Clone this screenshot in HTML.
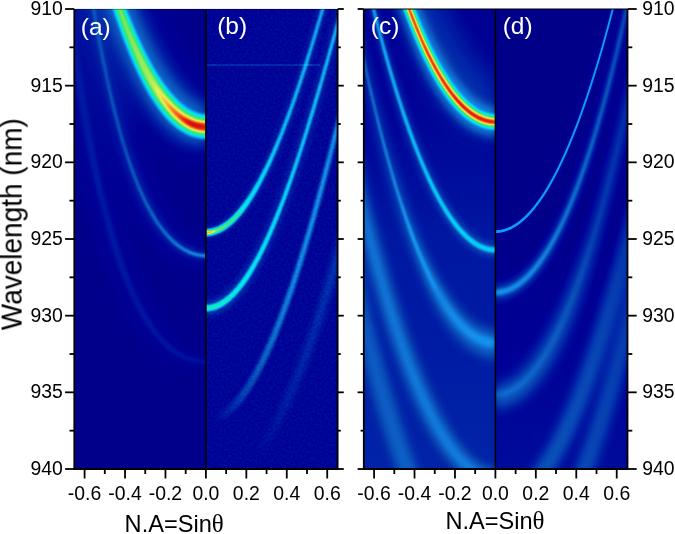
<!DOCTYPE html>
<html><head><meta charset="utf-8"><style>
html,body{margin:0;padding:0;background:#fff;width:675px;height:534px;overflow:hidden}
svg{display:block}
.t{will-change:transform}
</style></head><body>
<svg width="675" height="534" viewBox="0 0 675 534">
<defs>
<filter id="jet" filterUnits="userSpaceOnUse" x="0" y="0" width="675" height="534" color-interpolation-filters="sRGB">
<feComponentTransfer>
<feFuncR type="table" tableValues="0 0 0 0 0 0.013 0.026 0.039 0.049 0.059 0.069 0.078 0.063 0.047 0.031 0.016 0 0 0 0 0 0.047 0.094 0.141 0.188 0.235 0.353 0.471 0.588 0.706 0.824 0.941 0.947 0.953 0.959 0.965 0.971 0.977 0.974 0.961 0.948 0.935 0.922 0.908 0.881 0.839 0.796 0.754 0.712 0.67 0.627"/>
<feFuncG type="table" tableValues="0 0 0 0.059 0.118 0.183 0.248 0.314 0.373 0.431 0.49 0.549 0.604 0.659 0.714 0.769 0.824 0.848 0.873 0.897 0.922 0.918 0.914 0.91 0.906 0.902 0.908 0.915 0.922 0.928 0.935 0.941 0.875 0.808 0.742 0.676 0.609 0.543 0.477 0.412 0.346 0.281 0.216 0.15 0.109 0.09 0.072 0.054 0.036 0.018 0"/>
<feFuncB type="table" tableValues="0.502 0.545 0.588 0.618 0.647 0.673 0.699 0.725 0.775 0.824 0.873 0.922 0.925 0.929 0.933 0.937 0.941 0.931 0.922 0.912 0.902 0.808 0.714 0.62 0.525 0.431 0.412 0.392 0.373 0.353 0.333 0.314 0.284 0.253 0.223 0.193 0.163 0.133 0.114 0.108 0.101 0.095 0.088 0.082 0.072 0.06 0.048 0.036 0.024 0.012 0"/>
</feComponentTransfer>
</filter>
<clipPath id="cpa"><rect x="74.3" y="9.0" width="131.60000000000002" height="460.0"/></clipPath>
<clipPath id="cpb"><rect x="205.9" y="9.0" width="131.70000000000002" height="460.0"/></clipPath>
<clipPath id="cpc"><rect x="363.8" y="9.0" width="131.59999999999997" height="460.0"/></clipPath>
<clipPath id="cpd"><rect x="495.4" y="9.0" width="132.10000000000002" height="460.0"/></clipPath>
<filter id="bl0" filterUnits="userSpaceOnUse" x="0" y="0" width="675" height="534" color-interpolation-filters="sRGB"><feGaussianBlur stdDeviation="14"/></filter>
<filter id="bl1" filterUnits="userSpaceOnUse" x="0" y="0" width="675" height="534" color-interpolation-filters="sRGB"><feGaussianBlur stdDeviation="7"/></filter>
<filter id="bl2" filterUnits="userSpaceOnUse" x="0" y="0" width="675" height="534" color-interpolation-filters="sRGB"><feGaussianBlur stdDeviation="1.4"/></filter>
<filter id="bl3" filterUnits="userSpaceOnUse" x="0" y="0" width="675" height="534" color-interpolation-filters="sRGB"><feGaussianBlur stdDeviation="1.8"/></filter>
<linearGradient id="g3" gradientUnits="userSpaceOnUse" x1="0" y1="0" x2="675" y2="0"><stop offset="0.1630" stop-color="rgb(18,18,18)"/><stop offset="0.2222" stop-color="rgb(32,32,32)"/><stop offset="0.3052" stop-color="rgb(36,36,36)"/></linearGradient>
<linearGradient id="g4" gradientUnits="userSpaceOnUse" x1="0" y1="0" x2="675" y2="0"><stop offset="0.2222" stop-color="rgb(0,0,0)"/><stop offset="0.2519" stop-color="rgb(48,48,48)"/><stop offset="0.2815" stop-color="rgb(87,87,87)"/><stop offset="0.3052" stop-color="rgb(87,87,87)"/></linearGradient>
<filter id="bl4" filterUnits="userSpaceOnUse" x="0" y="0" width="675" height="534" color-interpolation-filters="sRGB"><feGaussianBlur stdDeviation="8"/></filter>
<linearGradient id="g5" gradientUnits="userSpaceOnUse" x1="0" y1="0" x2="675" y2="0"><stop offset="0.1096" stop-color="rgb(9,9,9)"/><stop offset="0.2222" stop-color="rgb(7,7,7)"/><stop offset="0.3052" stop-color="rgb(4,4,4)"/></linearGradient>
<filter id="bl5" filterUnits="userSpaceOnUse" x="0" y="0" width="675" height="534" color-interpolation-filters="sRGB"><feGaussianBlur stdDeviation="3"/></filter>
<linearGradient id="g6" gradientUnits="userSpaceOnUse" x1="0" y1="0" x2="675" y2="0"><stop offset="0.1333" stop-color="rgb(5,5,5)"/><stop offset="0.2222" stop-color="rgb(9,9,9)"/><stop offset="0.3052" stop-color="rgb(13,13,13)"/></linearGradient>
<filter id="bl6" filterUnits="userSpaceOnUse" x="0" y="0" width="675" height="534" color-interpolation-filters="sRGB"><feGaussianBlur stdDeviation="1.3"/></filter>
<linearGradient id="g7" gradientUnits="userSpaceOnUse" x1="0" y1="0" x2="675" y2="0"><stop offset="0.1333" stop-color="rgb(14,14,14)"/><stop offset="0.2222" stop-color="rgb(24,24,24)"/><stop offset="0.3052" stop-color="rgb(41,41,41)"/></linearGradient>
<linearGradient id="g8" gradientUnits="userSpaceOnUse" x1="0" y1="0" x2="675" y2="0"><stop offset="0.1096" stop-color="rgb(8,8,8)"/><stop offset="0.2222" stop-color="rgb(5,5,5)"/><stop offset="0.3052" stop-color="rgb(2,2,2)"/></linearGradient>
<filter id="bl7" filterUnits="userSpaceOnUse" x="0" y="0" width="675" height="534" color-interpolation-filters="sRGB"><feGaussianBlur stdDeviation="2"/></filter>
<linearGradient id="g9" gradientUnits="userSpaceOnUse" x1="0" y1="0" x2="675" y2="0"><stop offset="0.1185" stop-color="rgb(9,9,9)"/><stop offset="0.2222" stop-color="rgb(10,10,10)"/><stop offset="0.3052" stop-color="rgb(11,11,11)"/></linearGradient>
<filter id="bl8" filterUnits="userSpaceOnUse" x="0" y="0" width="675" height="534" color-interpolation-filters="sRGB"><feGaussianBlur stdDeviation="2.5"/></filter>
<linearGradient id="g10" gradientUnits="userSpaceOnUse" x1="0" y1="0" x2="675" y2="0"><stop offset="0.3052" stop-color="rgb(18,18,18)"/><stop offset="0.3852" stop-color="rgb(14,14,14)"/><stop offset="0.5037" stop-color="rgb(11,11,11)"/></linearGradient>
<filter id="bl9" filterUnits="userSpaceOnUse" x="0" y="0" width="675" height="534" color-interpolation-filters="sRGB"><feGaussianBlur stdDeviation="0.8"/></filter>
<linearGradient id="g11" gradientUnits="userSpaceOnUse" x1="0" y1="0" x2="675" y2="0"><stop offset="0.3052" stop-color="rgb(89,89,89)"/><stop offset="0.3556" stop-color="rgb(80,80,80)"/><stop offset="0.4148" stop-color="rgb(66,66,66)"/><stop offset="0.5037" stop-color="rgb(61,61,61)"/></linearGradient>
<filter id="bl10" filterUnits="userSpaceOnUse" x="0" y="0" width="675" height="534" color-interpolation-filters="sRGB"><feGaussianBlur stdDeviation="1.0"/></filter>
<linearGradient id="g12" gradientUnits="userSpaceOnUse" x1="0" y1="0" x2="675" y2="0"><stop offset="0.3052" stop-color="rgb(38,38,38)"/><stop offset="0.3496" stop-color="rgb(31,31,31)"/><stop offset="0.3704" stop-color="rgb(0,0,0)"/></linearGradient>
<linearGradient id="g13" gradientUnits="userSpaceOnUse" x1="0" y1="0" x2="675" y2="0"><stop offset="0.3052" stop-color="rgb(56,56,56)"/><stop offset="0.3126" stop-color="rgb(45,45,45)"/><stop offset="0.3200" stop-color="rgb(0,0,0)"/></linearGradient>
<linearGradient id="g14" gradientUnits="userSpaceOnUse" x1="0" y1="0" x2="675" y2="0"><stop offset="0.3052" stop-color="rgb(20,20,20)"/><stop offset="0.4148" stop-color="rgb(14,14,14)"/><stop offset="0.5037" stop-color="rgb(12,12,12)"/></linearGradient>
<filter id="bl11" filterUnits="userSpaceOnUse" x="0" y="0" width="675" height="534" color-interpolation-filters="sRGB"><feGaussianBlur stdDeviation="0.9"/></filter>
<linearGradient id="g15" gradientUnits="userSpaceOnUse" x1="0" y1="0" x2="675" y2="0"><stop offset="0.3052" stop-color="rgb(88,88,88)"/><stop offset="0.3852" stop-color="rgb(80,80,80)"/><stop offset="0.4444" stop-color="rgb(73,73,73)"/><stop offset="0.5037" stop-color="rgb(70,70,70)"/></linearGradient>
<linearGradient id="g16" gradientUnits="userSpaceOnUse" x1="0" y1="0" x2="675" y2="0"><stop offset="0.3185" stop-color="rgb(0,0,0)"/><stop offset="0.3630" stop-color="rgb(20,20,20)"/><stop offset="0.4148" stop-color="rgb(38,38,38)"/><stop offset="0.4444" stop-color="rgb(46,46,46)"/><stop offset="0.4741" stop-color="rgb(51,51,51)"/><stop offset="0.5007" stop-color="rgb(51,51,51)"/></linearGradient>
<linearGradient id="g17" gradientUnits="userSpaceOnUse" x1="0" y1="0" x2="675" y2="0"><stop offset="0.3778" stop-color="rgb(0,0,0)"/><stop offset="0.4296" stop-color="rgb(12,12,12)"/><stop offset="0.5037" stop-color="rgb(20,20,20)"/></linearGradient>
<filter id="bl12" filterUnits="userSpaceOnUse" x="0" y="0" width="675" height="534" color-interpolation-filters="sRGB"><feGaussianBlur stdDeviation="12"/></filter>
<filter id="bl13" filterUnits="userSpaceOnUse" x="0" y="0" width="675" height="534" color-interpolation-filters="sRGB"><feGaussianBlur stdDeviation="4"/></filter>
<filter id="bl14" filterUnits="userSpaceOnUse" x="0" y="0" width="675" height="534" color-interpolation-filters="sRGB"><feGaussianBlur stdDeviation="1.2"/></filter>
<linearGradient id="g22" gradientUnits="userSpaceOnUse" x1="0" y1="0" x2="675" y2="0"><stop offset="0.5926" stop-color="rgb(110,110,110)"/><stop offset="0.6519" stop-color="rgb(98,98,98)"/><stop offset="0.6963" stop-color="rgb(86,86,86)"/><stop offset="0.7333" stop-color="rgb(82,82,82)"/></linearGradient>
<linearGradient id="g24" gradientUnits="userSpaceOnUse" x1="0" y1="0" x2="675" y2="0"><stop offset="0.5481" stop-color="rgb(57,57,57)"/><stop offset="0.6370" stop-color="rgb(57,57,57)"/><stop offset="0.6963" stop-color="rgb(52,52,52)"/><stop offset="0.7333" stop-color="rgb(48,48,48)"/></linearGradient>
<filter id="bl15" filterUnits="userSpaceOnUse" x="0" y="0" width="675" height="534" color-interpolation-filters="sRGB"><feGaussianBlur stdDeviation="5"/></filter>
<linearGradient id="g26" gradientUnits="userSpaceOnUse" x1="0" y1="0" x2="675" y2="0"><stop offset="0.5393" stop-color="rgb(31,31,31)"/><stop offset="0.6074" stop-color="rgb(28,28,28)"/><stop offset="0.6519" stop-color="rgb(0,0,0)"/></linearGradient>
<linearGradient id="g27" gradientUnits="userSpaceOnUse" x1="0" y1="0" x2="675" y2="0"><stop offset="0.5926" stop-color="rgb(0,0,0)"/><stop offset="0.6370" stop-color="rgb(23,23,23)"/><stop offset="0.7333" stop-color="rgb(24,24,24)"/></linearGradient>
<filter id="bl16" filterUnits="userSpaceOnUse" x="0" y="0" width="675" height="534" color-interpolation-filters="sRGB"><feGaussianBlur stdDeviation="0.7"/></filter>
<filter id="bl17" filterUnits="userSpaceOnUse" x="0" y="0" width="675" height="534" color-interpolation-filters="sRGB"><feGaussianBlur stdDeviation="3.5"/></filter>
<filter id="bl18" filterUnits="userSpaceOnUse" x="0" y="0" width="675" height="534" color-interpolation-filters="sRGB"><feGaussianBlur stdDeviation="1.5"/></filter>
<filter id="bl19" filterUnits="userSpaceOnUse" x="0" y="0" width="675" height="534" color-interpolation-filters="sRGB"><feGaussianBlur stdDeviation="6"/></filter>
<linearGradient id="hlg" gradientUnits="userSpaceOnUse" x1="205" y1="0" x2="340" y2="0"><stop offset="0" stop-color="rgb(11,11,11)"/><stop offset="0.6" stop-color="rgb(10,10,10)"/><stop offset="1" stop-color="rgb(5,5,5)"/></linearGradient>
<filter id="hl" x="-0.1" y="-2" width="1.2" height="5"><feGaussianBlur stdDeviation="1.1"/></filter>
<linearGradient id="bgc" gradientUnits="userSpaceOnUse" x1="0" y1="9.0" x2="0" y2="469.0"><stop offset="0" stop-color="rgb(0,0,0)"/><stop offset="0.25" stop-color="rgb(3,3,3)"/><stop offset="0.5" stop-color="rgb(9,9,9)"/><stop offset="1" stop-color="rgb(13,13,13)"/></linearGradient>
<linearGradient id="bgd" gradientUnits="userSpaceOnUse" x1="0" y1="9.0" x2="0" y2="469.0"><stop offset="0" stop-color="rgb(0,0,0)"/><stop offset="0.45" stop-color="rgb(0,0,0)"/><stop offset="0.7" stop-color="rgb(6,6,6)"/><stop offset="1" stop-color="rgb(10,10,10)"/></linearGradient>
<filter id="nz" filterUnits="userSpaceOnUse" x="205.9" y="9.0" width="131.70000000000002" height="460.0" color-interpolation-filters="sRGB"><feTurbulence type="fractalNoise" baseFrequency="0.45" numOctaves="1" seed="7"/><feColorMatrix type="matrix" values="0.05 0 0 0 -0.01  0.05 0 0 0 -0.01  0.05 0 0 0 -0.01  0 0 0 0 1"/></filter>
</defs>
<rect width="675" height="534" fill="#fff"/>
<g filter="url(#jet)">
<rect x="74.3" y="9.0" width="263.3" height="460.0" fill="#000"/>
<rect x="363.8" y="9.0" width="263.7" height="460.0" fill="#000"/>
<g clip-path="url(#cpa)">
<rect x="74.3" y="9.0" width="131.60000000000002" height="460.0" fill="rgb(5,5,5)"/>

<path d="M205.7 90.9 L205.8 90.9 L205.9 90.9 L206.0 91.0 L206.1 91.0 L206.2 91.1 L206.2 91.2 L206.3 91.2 L206.3 91.3 L206.3 91.4 L206.3 91.4 L206.3 91.5 L206.3 91.6 L206.2 91.6 L206.1 91.6 L205.9 91.6 L205.7 91.6 L205.5 91.6 L205.3 91.6 L205.0 91.5 L204.8 91.4 L204.4 91.3 L204.1 91.2 L203.7 91.0 L203.3 90.8 L202.8 90.6 L202.4 90.3 L201.9 90.0 L201.4 89.7 L200.8 89.3 L200.3 88.9 L199.7 88.5 L199.1 88.0 L198.4 87.5 L197.8 87.0 L197.1 86.4 L196.4 85.8 L195.7 85.1 L195.0 84.4 L194.3 83.7 L193.5 82.9 L192.8 82.1 L192.0 81.2 L191.2 80.3 L190.4 79.4 L189.6 78.4 L188.8 77.4 L187.9 76.4 L187.1 75.3 L186.2 74.2 L185.4 73.0 L184.5 71.8 L183.6 70.5 L182.7 69.2 L181.8 67.9 L180.9 66.5 L180.0 65.1 L179.1 63.7 L178.2 62.2 L177.2 60.7 L176.3 59.1 L175.4 57.5 L174.4 55.9 L173.5 54.2 L172.5 52.5 L171.6 50.7 L170.6 48.9 L169.7 47.1 L168.7 45.2 L167.7 43.3 L166.7 41.3 L165.8 39.3 L164.8 37.3 L163.8 35.2 L162.8 33.1 L161.8 31.0 L160.8 28.8 L159.8 26.6 L158.8 24.3 L157.8 22.0 L156.8 19.6 L155.8 17.3 L154.8 14.8 L153.8 12.4 L152.8 9.9 L151.8 7.3 L150.8 4.7 L149.8 2.1 L148.8 -0.5 L147.7 -3.2 L146.7 -6.0 L145.7 -8.8 L144.7 -11.6 L143.7 -14.4 L142.6 -17.3 L141.6 -20.3 L140.6 -23.3 L139.6 -26.3 L138.5 -29.4 L137.6 -32.5 L136.6 -35.6 L135.6 -38.9 L134.7 -42.1 L81.0 -26.1 L82.0 -22.7 L83.0 -19.3 L84.1 -16.0 L85.1 -12.7 L86.1 -9.4 L87.1 -6.1 L88.1 -2.9 L89.0 0.2 L90.0 3.4 L91.0 6.5 L92.0 9.5 L93.0 12.6 L94.0 15.6 L95.0 18.5 L96.0 21.4 L97.0 24.3 L98.0 27.2 L99.0 30.0 L100.0 32.8 L101.0 35.5 L102.0 38.2 L103.0 40.9 L104.0 43.6 L105.1 46.2 L106.1 48.8 L107.1 51.3 L108.1 53.8 L109.1 56.3 L110.1 58.8 L111.2 61.2 L112.2 63.6 L113.2 65.9 L114.3 68.3 L115.3 70.6 L116.3 72.8 L117.4 75.1 L118.4 77.3 L119.5 79.4 L120.5 81.6 L121.6 83.7 L122.6 85.8 L123.7 87.8 L124.8 89.8 L125.8 91.8 L126.9 93.8 L128.0 95.7 L129.1 97.7 L130.2 99.5 L131.3 101.4 L132.4 103.2 L133.5 105.0 L134.6 106.8 L135.7 108.5 L136.9 110.3 L138.0 111.9 L139.1 113.6 L140.3 115.2 L141.5 116.9 L142.6 118.4 L143.8 120.0 L145.0 121.5 L146.2 123.0 L147.5 124.5 L148.7 126.0 L149.9 127.4 L151.2 128.8 L152.5 130.2 L153.8 131.5 L155.1 132.9 L156.4 134.2 L157.7 135.4 L159.1 136.7 L160.4 137.9 L161.8 139.1 L163.2 140.3 L164.7 141.4 L166.1 142.5 L167.6 143.6 L169.1 144.6 L170.6 145.6 L172.2 146.6 L173.8 147.5 L175.4 148.4 L177.0 149.3 L178.6 150.1 L180.3 150.9 L182.0 151.7 L183.7 152.4 L185.5 153.0 L187.2 153.7 L189.0 154.2 L190.8 154.7 L192.7 155.2 L194.5 155.6 L196.4 156.0 L198.3 156.3 L200.2 156.5 L202.1 156.7 L204.0 156.8 L205.9 156.9 L207.8 156.9 L209.7 156.8Z" fill="rgb(13,13,13)" filter="url(#bl0)" style="mix-blend-mode:plus-lighter"/>
<path d="M206.4 102.9 L206.2 102.9 L205.9 102.9 L205.6 103.0 L205.4 103.1 L205.1 103.2 L204.8 103.3 L204.4 103.3 L204.1 103.4 L203.8 103.4 L203.4 103.4 L203.0 103.4 L202.6 103.4 L202.2 103.4 L201.7 103.4 L201.3 103.3 L200.8 103.2 L200.3 103.1 L199.7 102.9 L199.2 102.8 L198.6 102.6 L198.0 102.4 L197.4 102.1 L196.7 101.8 L196.1 101.5 L195.4 101.2 L194.7 100.8 L193.9 100.4 L193.2 99.9 L192.4 99.4 L191.7 98.9 L190.9 98.4 L190.1 97.8 L189.3 97.1 L188.4 96.5 L187.6 95.8 L186.7 95.0 L185.8 94.3 L185.0 93.4 L184.1 92.6 L183.2 91.7 L182.3 90.8 L181.3 89.8 L180.4 88.8 L179.5 87.8 L178.5 86.7 L177.6 85.6 L176.6 84.4 L175.7 83.2 L174.7 82.0 L173.7 80.7 L172.7 79.4 L171.7 78.1 L170.7 76.7 L169.7 75.3 L168.7 73.8 L167.7 72.4 L166.7 70.8 L165.7 69.3 L164.7 67.7 L163.7 66.0 L162.6 64.3 L161.6 62.6 L160.6 60.9 L159.5 59.1 L158.5 57.2 L157.4 55.4 L156.4 53.5 L155.4 51.5 L154.3 49.5 L153.3 47.5 L152.2 45.5 L151.2 43.4 L150.1 41.2 L149.0 39.1 L148.0 36.9 L146.9 34.6 L145.9 32.3 L144.8 30.0 L143.7 27.6 L142.7 25.2 L141.6 22.8 L140.5 20.3 L139.4 17.8 L138.4 15.3 L137.3 12.7 L136.2 10.0 L135.1 7.4 L134.1 4.7 L133.0 1.9 L131.9 -0.9 L130.8 -3.7 L129.8 -6.6 L128.7 -9.5 L127.6 -12.4 L126.5 -15.4 L125.4 -18.4 L124.3 -21.5 L123.3 -24.6 L122.3 -27.8 L121.3 -31.0 L120.3 -34.2 L119.3 -37.5 L95.4 -30.4 L96.4 -27.0 L97.4 -23.7 L98.4 -20.4 L99.4 -17.1 L100.3 -13.9 L101.3 -10.7 L102.2 -7.5 L103.2 -4.4 L104.1 -1.3 L105.1 1.7 L106.0 4.8 L107.0 7.8 L107.9 10.7 L108.9 13.6 L109.8 16.5 L110.7 19.3 L111.7 22.1 L112.6 24.9 L113.6 27.6 L114.6 30.3 L115.5 33.0 L116.5 35.6 L117.4 38.2 L118.4 40.8 L119.3 43.3 L120.3 45.8 L121.2 48.2 L122.2 50.7 L123.2 53.1 L124.1 55.4 L125.1 57.7 L126.1 60.0 L127.0 62.3 L128.0 64.5 L129.0 66.7 L129.9 68.9 L130.9 71.0 L131.9 73.1 L132.9 75.2 L133.8 77.2 L134.8 79.2 L135.8 81.2 L136.8 83.1 L137.8 85.1 L138.8 86.9 L139.8 88.8 L140.8 90.6 L141.8 92.4 L142.8 94.2 L143.8 95.9 L144.8 97.6 L145.8 99.3 L146.9 101.0 L147.9 102.6 L148.9 104.2 L150.0 105.7 L151.0 107.3 L152.0 108.8 L153.1 110.2 L154.2 111.7 L155.2 113.1 L156.3 114.5 L157.4 115.9 L158.5 117.2 L159.6 118.5 L160.7 119.8 L161.8 121.1 L162.9 122.3 L164.0 123.5 L165.2 124.7 L166.3 125.8 L167.5 126.9 L168.7 128.0 L169.8 129.1 L171.0 130.1 L172.3 131.1 L173.5 132.1 L174.7 133.1 L176.0 134.0 L177.2 134.9 L178.5 135.7 L179.8 136.5 L181.2 137.3 L182.5 138.1 L183.8 138.8 L185.2 139.5 L186.6 140.1 L188.0 140.8 L189.4 141.3 L190.8 141.9 L192.3 142.4 L193.8 142.8 L195.2 143.2 L196.7 143.6 L198.2 143.9 L199.8 144.2 L201.3 144.5 L202.8 144.7 L204.4 144.8 L205.9 144.9 L207.5 144.9 L209.0 144.8Z" fill="rgb(28,28,28)" filter="url(#bl1)" style="mix-blend-mode:plus-lighter"/>
<path d="M207.1 114.6 L206.5 114.6 L205.9 114.6 L205.3 114.7 L204.6 114.7 L204.0 114.7 L203.4 114.7 L202.7 114.7 L202.1 114.6 L201.4 114.6 L200.7 114.5 L200.0 114.3 L199.3 114.2 L198.6 114.0 L197.9 113.9 L197.2 113.6 L196.4 113.4 L195.6 113.1 L194.9 112.8 L194.1 112.5 L193.3 112.2 L192.5 111.8 L191.7 111.4 L190.9 110.9 L190.0 110.5 L189.1 110.0 L188.3 109.4 L187.4 108.9 L186.5 108.3 L185.6 107.7 L184.7 107.0 L183.7 106.3 L182.8 105.6 L181.9 104.9 L180.9 104.1 L180.0 103.2 L179.0 102.4 L178.0 101.5 L177.1 100.5 L176.1 99.6 L175.1 98.6 L174.1 97.5 L173.1 96.4 L172.1 95.3 L171.1 94.2 L170.1 93.0 L169.1 91.8 L168.1 90.5 L167.0 89.2 L166.0 87.9 L165.0 86.5 L164.0 85.1 L162.9 83.7 L161.9 82.2 L160.9 80.7 L159.8 79.2 L158.8 77.6 L157.7 76.0 L156.7 74.4 L155.6 72.7 L154.6 71.0 L153.6 69.2 L152.5 67.4 L151.5 65.6 L150.4 63.7 L149.4 61.8 L148.4 59.8 L147.3 57.9 L146.3 55.8 L145.2 53.8 L144.2 51.7 L143.1 49.6 L142.1 47.4 L141.0 45.2 L140.0 43.0 L138.9 40.7 L137.8 38.4 L136.8 36.1 L135.7 33.7 L134.7 31.3 L133.6 28.8 L132.6 26.3 L131.5 23.8 L130.4 21.2 L129.4 18.6 L128.3 16.0 L127.2 13.3 L126.2 10.6 L125.1 7.8 L124.1 5.0 L123.0 2.2 L121.9 -0.7 L120.9 -3.6 L119.8 -6.5 L118.7 -9.5 L117.7 -12.5 L116.6 -15.6 L115.5 -18.7 L114.5 -21.8 L113.5 -25.1 L112.5 -28.3 L111.5 -31.6 L110.5 -34.9 L101.3 -32.2 L102.3 -28.8 L103.3 -25.5 L104.3 -22.2 L105.3 -19.0 L106.3 -15.8 L107.2 -12.6 L108.1 -9.4 L109.1 -6.3 L110.0 -3.3 L110.9 -0.2 L111.9 2.8 L112.8 5.7 L113.7 8.7 L114.7 11.5 L115.6 14.4 L116.6 17.2 L117.5 20.0 L118.4 22.7 L119.4 25.4 L120.3 28.1 L121.2 30.7 L122.2 33.3 L123.1 35.9 L124.1 38.4 L125.0 40.9 L126.0 43.4 L126.9 45.8 L127.8 48.2 L128.8 50.6 L129.7 52.9 L130.7 55.2 L131.6 57.5 L132.6 59.7 L133.5 61.9 L134.5 64.0 L135.4 66.2 L136.4 68.3 L137.4 70.3 L138.3 72.4 L139.3 74.4 L140.2 76.3 L141.2 78.3 L142.2 80.2 L143.1 82.0 L144.1 83.9 L145.1 85.7 L146.0 87.5 L147.0 89.2 L148.0 91.0 L148.9 92.6 L149.9 94.3 L150.9 95.9 L151.9 97.5 L152.9 99.1 L153.9 100.6 L154.9 102.2 L155.9 103.6 L156.9 105.1 L157.9 106.5 L158.9 107.9 L159.9 109.3 L160.9 110.6 L161.9 111.9 L163.0 113.2 L164.0 114.4 L165.0 115.7 L166.1 116.9 L167.1 118.0 L168.2 119.2 L169.2 120.3 L170.3 121.3 L171.4 122.4 L172.5 123.4 L173.6 124.4 L174.7 125.4 L175.8 126.3 L176.9 127.2 L178.1 128.1 L179.2 129.0 L180.4 129.8 L181.6 130.5 L182.8 131.3 L184.0 132.0 L185.2 132.6 L186.4 133.3 L187.6 133.9 L188.9 134.4 L190.1 135.0 L191.4 135.4 L192.7 135.9 L194.0 136.3 L195.3 136.7 L196.6 137.1 L197.9 137.4 L199.2 137.6 L200.5 137.9 L201.9 138.1 L203.2 138.2 L204.6 138.3 L205.9 138.4 L207.3 138.4 L208.6 138.3Z" fill="rgb(69,69,69)" filter="url(#bl2)" style="mix-blend-mode:plus-lighter"/>
<path d="M207.4 118.6 L206.6 118.6 L205.9 118.6 L205.2 118.7 L204.4 118.7 L203.6 118.7 L202.9 118.7 L202.1 118.7 L201.3 118.6 L200.5 118.6 L199.7 118.5 L198.9 118.3 L198.1 118.2 L197.3 118.0 L196.4 117.8 L195.6 117.5 L194.7 117.3 L193.9 117.0 L193.0 116.6 L192.1 116.3 L191.2 115.9 L190.3 115.5 L189.4 115.0 L188.5 114.5 L187.6 114.0 L186.7 113.5 L185.7 112.9 L184.8 112.3 L183.8 111.6 L182.9 110.9 L181.9 110.2 L180.9 109.5 L180.0 108.7 L179.0 107.9 L178.0 107.0 L177.0 106.1 L176.0 105.2 L175.0 104.3 L174.0 103.3 L173.0 102.2 L172.0 101.2 L171.0 100.1 L170.0 99.0 L168.9 97.8 L167.9 96.6 L166.9 95.4 L165.9 94.1 L164.8 92.8 L163.8 91.5 L162.8 90.1 L161.7 88.7 L160.7 87.3 L159.7 85.8 L158.6 84.3 L157.6 82.8 L156.5 81.2 L155.5 79.6 L154.4 77.9 L153.4 76.2 L152.4 74.5 L151.3 72.7 L150.3 70.9 L149.3 69.1 L148.3 67.2 L147.3 65.3 L146.2 63.4 L145.2 61.4 L144.2 59.4 L143.2 57.3 L142.1 55.2 L141.1 53.1 L140.1 50.9 L139.1 48.8 L138.0 46.5 L137.0 44.3 L136.0 42.0 L135.0 39.6 L133.9 37.3 L132.9 34.8 L131.9 32.4 L130.8 29.9 L129.8 27.4 L128.8 24.8 L127.8 22.3 L126.7 19.6 L125.7 17.0 L124.7 14.3 L123.6 11.5 L122.6 8.7 L121.6 5.9 L120.5 3.1 L119.5 0.2 L118.5 -2.8 L117.4 -5.7 L116.4 -8.7 L115.4 -11.8 L114.3 -14.9 L113.3 -18.0 L112.3 -21.2 L111.3 -24.4 L110.3 -27.6 L109.3 -30.9 L108.3 -34.3 L103.5 -32.8 L104.5 -29.5 L105.5 -26.2 L106.5 -22.9 L107.5 -19.7 L108.5 -16.5 L109.5 -13.3 L110.4 -10.2 L111.4 -7.1 L112.4 -4.0 L113.3 -1.0 L114.3 1.9 L115.3 4.9 L116.2 7.8 L117.2 10.6 L118.2 13.5 L119.1 16.3 L120.1 19.0 L121.1 21.7 L122.0 24.4 L123.0 27.1 L124.0 29.7 L125.0 32.3 L125.9 34.8 L126.9 37.3 L127.9 39.8 L128.8 42.2 L129.8 44.6 L130.8 47.0 L131.8 49.3 L132.7 51.6 L133.7 53.8 L134.7 56.1 L135.7 58.3 L136.6 60.4 L137.6 62.5 L138.6 64.6 L139.6 66.7 L140.5 68.7 L141.5 70.7 L142.5 72.7 L143.5 74.6 L144.5 76.5 L145.4 78.4 L146.4 80.2 L147.4 82.0 L148.3 83.8 L149.3 85.5 L150.3 87.2 L151.2 88.9 L152.2 90.6 L153.1 92.2 L154.1 93.8 L155.1 95.4 L156.0 96.9 L157.0 98.4 L158.0 99.9 L159.0 101.3 L159.9 102.7 L160.9 104.1 L161.9 105.5 L162.9 106.8 L163.9 108.1 L164.9 109.3 L165.9 110.6 L166.9 111.8 L167.9 113.0 L168.9 114.1 L169.9 115.2 L170.9 116.3 L171.9 117.4 L173.0 118.4 L174.0 119.4 L175.0 120.4 L176.1 121.3 L177.1 122.2 L178.2 123.1 L179.2 124.0 L180.3 124.8 L181.4 125.6 L182.5 126.4 L183.6 127.1 L184.7 127.8 L185.8 128.5 L186.9 129.1 L188.0 129.7 L189.1 130.3 L190.3 130.9 L191.4 131.4 L192.6 131.9 L193.8 132.3 L194.9 132.7 L196.1 133.1 L197.3 133.5 L198.5 133.8 L199.7 134.1 L201.0 134.3 L202.2 134.5 L203.4 134.7 L204.7 134.8 L205.9 134.9 L207.1 134.9 L208.4 134.8Z" fill="url(#g3)" filter="url(#bl3)" style="mix-blend-mode:plus-lighter"/>
<path d="M207.6 122.6 L206.8 122.7 L205.9 122.7 L205.0 122.8 L204.1 122.8 L203.3 122.8 L202.4 122.8 L201.5 122.7 L200.6 122.6 L199.7 122.5 L198.8 122.4 L197.9 122.2 L196.9 122.0 L196.0 121.8 L195.1 121.5 L194.1 121.2 L193.2 120.9 L192.2 120.5 L191.3 120.2 L190.3 119.8 L189.4 119.3 L188.4 118.8 L187.4 118.3 L186.4 117.8 L185.4 117.2 L184.4 116.6 L183.4 116.0 L182.4 115.3 L181.4 114.6 L180.4 113.9 L179.4 113.1 L178.4 112.3 L177.4 111.5 L176.4 110.6 L175.4 109.7 L174.3 108.8 L173.3 107.8 L172.3 106.8 L171.3 105.7 L170.2 104.7 L169.2 103.6 L168.1 102.4 L167.1 101.3 L166.1 100.1 L165.0 98.8 L164.0 97.6 L162.9 96.3 L161.9 94.9 L160.8 93.5 L159.8 92.1 L158.8 90.7 L157.7 89.2 L156.7 87.7 L155.6 86.2 L154.5 84.6 L153.5 83.0 L152.4 81.4 L151.4 79.7 L150.3 78.0 L149.3 76.2 L148.3 74.4 L147.3 72.5 L146.3 70.6 L145.3 68.7 L144.3 66.8 L143.3 64.8 L142.3 62.8 L141.4 60.7 L140.4 58.7 L139.4 56.5 L138.4 54.4 L137.4 52.2 L136.4 50.0 L135.4 47.7 L134.4 45.4 L133.4 43.1 L132.4 40.7 L131.4 38.3 L130.4 35.9 L129.4 33.4 L128.4 30.9 L127.4 28.4 L126.4 25.8 L125.4 23.2 L124.4 20.5 L123.4 17.8 L122.4 15.1 L121.4 12.3 L120.4 9.5 L119.4 6.7 L118.4 3.8 L117.4 0.9 L116.4 -2.1 L115.4 -5.0 L114.4 -8.1 L113.4 -11.1 L112.4 -14.2 L111.4 -17.4 L110.4 -20.6 L109.4 -23.8 L108.4 -27.0 L107.4 -30.3 L106.4 -33.7 L105.4 -33.4 L106.4 -30.1 L107.4 -26.8 L108.4 -23.5 L109.4 -20.3 L110.4 -17.1 L111.4 -13.9 L112.4 -10.8 L113.4 -7.8 L114.4 -4.7 L115.4 -1.7 L116.4 1.2 L117.4 4.1 L118.4 7.0 L119.4 9.9 L120.4 12.7 L121.4 15.4 L122.4 18.2 L123.4 20.9 L124.4 23.5 L125.4 26.1 L126.4 28.7 L127.4 31.3 L128.4 33.8 L129.4 36.3 L130.4 38.7 L131.4 41.1 L132.4 43.5 L133.4 45.8 L134.4 48.1 L135.4 50.4 L136.4 52.6 L137.4 54.8 L138.4 57.0 L139.4 59.1 L140.4 61.2 L141.5 63.2 L142.5 65.2 L143.5 67.2 L144.5 69.2 L145.5 71.1 L146.5 73.0 L147.5 74.9 L148.5 76.7 L149.5 78.5 L150.4 80.2 L151.4 82.0 L152.3 83.7 L153.3 85.4 L154.2 87.1 L155.1 88.7 L156.1 90.3 L157.0 91.8 L158.0 93.4 L159.0 94.9 L159.9 96.3 L160.9 97.8 L161.8 99.2 L162.8 100.6 L163.7 101.9 L164.7 103.2 L165.7 104.5 L166.6 105.8 L167.6 107.0 L168.5 108.2 L169.5 109.3 L170.5 110.5 L171.5 111.6 L172.4 112.6 L173.4 113.7 L174.4 114.7 L175.4 115.7 L176.4 116.6 L177.4 117.6 L178.4 118.5 L179.4 119.3 L180.4 120.2 L181.4 121.0 L182.4 121.8 L183.4 122.5 L184.4 123.2 L185.4 123.9 L186.4 124.6 L187.5 125.2 L188.5 125.8 L189.6 126.4 L190.6 126.9 L191.7 127.4 L192.7 127.9 L193.8 128.3 L194.9 128.7 L195.9 129.1 L197.0 129.5 L198.1 129.8 L199.2 130.1 L200.3 130.3 L201.4 130.6 L202.5 130.7 L203.7 130.9 L204.8 131.0 L205.9 131.1 L207.0 131.1 L208.2 131.0Z" fill="url(#g4)" filter="url(#bl3)" style="mix-blend-mode:plus-lighter"/>
<path d="M207.1 239.7 L206.5 239.7 L205.9 239.7 L205.3 239.7 L204.7 239.7 L204.1 239.6 L203.5 239.6 L202.9 239.5 L202.3 239.4 L201.7 239.3 L201.1 239.2 L200.5 239.1 L199.9 238.9 L199.3 238.8 L198.7 238.6 L198.0 238.4 L197.4 238.1 L196.7 237.9 L196.1 237.6 L195.4 237.3 L194.8 237.0 L194.1 236.7 L193.4 236.3 L192.7 236.0 L192.0 235.6 L191.3 235.1 L190.6 234.7 L189.8 234.2 L189.1 233.7 L188.4 233.2 L187.6 232.6 L186.9 232.0 L186.1 231.4 L185.3 230.7 L184.5 230.1 L183.8 229.3 L183.0 228.6 L182.2 227.8 L181.3 227.0 L180.5 226.1 L179.7 225.3 L178.9 224.3 L178.0 223.4 L177.2 222.4 L176.3 221.3 L175.5 220.3 L174.6 219.2 L173.8 218.0 L172.9 216.8 L172.0 215.6 L171.1 214.3 L170.2 213.0 L169.3 211.6 L168.4 210.2 L167.5 208.8 L166.6 207.3 L165.7 205.7 L164.8 204.1 L163.9 202.5 L163.0 200.8 L162.1 199.1 L161.1 197.3 L160.2 195.4 L159.3 193.6 L158.3 191.6 L157.4 189.6 L156.5 187.6 L155.5 185.5 L154.6 183.3 L153.6 181.1 L152.7 178.9 L151.7 176.5 L150.8 174.1 L149.8 171.7 L148.9 169.2 L147.9 166.6 L146.9 164.0 L146.0 161.3 L145.0 158.6 L144.1 155.7 L143.1 152.9 L142.1 149.9 L141.1 146.9 L140.2 143.8 L139.2 140.7 L138.2 137.4 L137.3 134.1 L136.3 130.8 L135.3 127.3 L134.3 123.8 L133.3 120.2 L132.4 116.5 L131.4 112.8 L130.4 108.9 L129.4 105.0 L128.4 101.0 L127.5 97.0 L126.5 92.8 L125.5 88.6 L124.5 84.2 L123.5 79.8 L122.5 75.3 L121.5 70.7 L120.6 66.0 L119.6 61.3 L118.6 56.4 L117.6 51.4 L116.6 46.4 L115.6 41.2 L114.6 36.0 L113.6 30.6 L112.6 25.1 L111.7 19.6 L110.7 13.9 L109.7 8.1 L108.7 2.3 L107.7 -3.7 L106.7 -9.8 L105.7 -16.0 L104.7 -22.4 L103.7 -28.8 L102.7 -35.3 L71.1 -30.6 L72.1 -23.9 L73.1 -17.4 L74.1 -11.0 L75.1 -4.7 L76.1 1.5 L77.1 7.5 L78.1 13.5 L79.1 19.4 L80.1 25.1 L81.2 30.8 L82.2 36.4 L83.2 41.8 L84.2 47.2 L85.2 52.5 L86.2 57.6 L87.2 62.7 L88.2 67.7 L89.2 72.6 L90.3 77.4 L91.3 82.1 L92.3 86.7 L93.3 91.3 L94.3 95.7 L95.3 100.1 L96.3 104.4 L97.4 108.6 L98.4 112.8 L99.4 116.8 L100.4 120.8 L101.4 124.7 L102.5 128.5 L103.5 132.3 L104.5 136.0 L105.5 139.6 L106.5 143.1 L107.6 146.6 L108.6 150.0 L109.6 153.3 L110.7 156.6 L111.7 159.8 L112.7 162.9 L113.7 166.0 L114.8 169.0 L115.8 172.0 L116.9 174.9 L117.9 177.7 L118.9 180.5 L120.0 183.2 L121.0 185.9 L122.1 188.5 L123.1 191.1 L124.2 193.6 L125.2 196.1 L126.3 198.5 L127.3 200.8 L128.4 203.1 L129.5 205.4 L130.5 207.6 L131.6 209.8 L132.7 211.9 L133.7 213.9 L134.8 216.0 L135.9 218.0 L137.0 219.9 L138.1 221.8 L139.2 223.6 L140.3 225.5 L141.4 227.2 L142.5 229.0 L143.6 230.7 L144.7 232.3 L145.8 233.9 L146.9 235.5 L148.0 237.1 L149.2 238.6 L150.3 240.0 L151.5 241.5 L152.6 242.9 L153.8 244.2 L154.9 245.6 L156.1 246.9 L157.3 248.1 L158.5 249.4 L159.6 250.6 L160.8 251.7 L162.0 252.9 L163.3 253.9 L164.5 255.0 L165.7 256.0 L166.9 257.1 L168.2 258.0 L169.4 259.0 L170.7 259.9 L172.0 260.7 L173.2 261.6 L174.5 262.4 L175.8 263.2 L177.1 263.9 L178.4 264.6 L179.7 265.3 L181.0 265.9 L182.4 266.6 L183.7 267.1 L185.1 267.7 L186.4 268.2 L187.8 268.7 L189.1 269.1 L190.5 269.5 L191.9 269.9 L193.3 270.2 L194.7 270.5 L196.1 270.8 L197.5 271.1 L198.9 271.2 L200.3 271.4 L201.7 271.5 L203.1 271.6 L204.5 271.7 L205.9 271.7 L207.3 271.7 L208.7 271.6Z" fill="url(#g5)" filter="url(#bl4)" style="mix-blend-mode:plus-lighter"/>
<path d="M207.6 250.7 L206.8 250.7 L205.9 250.7 L205.0 250.7 L204.2 250.7 L203.3 250.6 L202.4 250.5 L201.5 250.4 L200.7 250.3 L199.8 250.1 L198.9 250.0 L198.0 249.8 L197.2 249.6 L196.3 249.3 L195.4 249.1 L194.5 248.8 L193.6 248.5 L192.7 248.1 L191.8 247.8 L190.9 247.4 L190.0 247.0 L189.1 246.5 L188.2 246.1 L187.3 245.6 L186.4 245.1 L185.5 244.5 L184.6 243.9 L183.7 243.3 L182.8 242.7 L181.9 242.0 L180.9 241.3 L180.0 240.6 L179.1 239.9 L178.2 239.1 L177.2 238.3 L176.3 237.4 L175.4 236.5 L174.4 235.6 L173.5 234.7 L172.5 233.7 L171.6 232.7 L170.6 231.6 L169.7 230.5 L168.7 229.4 L167.8 228.3 L166.8 227.1 L165.9 225.8 L164.9 224.6 L164.0 223.2 L163.0 221.9 L162.0 220.5 L161.1 219.1 L160.1 217.6 L159.1 216.1 L158.2 214.5 L157.2 212.9 L156.2 211.2 L155.3 209.5 L154.3 207.8 L153.3 206.0 L152.3 204.2 L151.4 202.3 L150.4 200.4 L149.4 198.4 L148.4 196.4 L147.4 194.3 L146.5 192.1 L145.5 189.9 L144.5 187.7 L143.5 185.4 L142.5 183.1 L141.5 180.7 L140.5 178.2 L139.6 175.7 L138.6 173.1 L137.6 170.4 L136.6 167.7 L135.6 165.0 L134.6 162.2 L133.6 159.3 L132.6 156.3 L131.7 153.3 L130.7 150.2 L129.7 147.1 L128.7 143.9 L127.7 140.6 L126.7 137.2 L125.7 133.8 L124.7 130.3 L123.7 126.7 L122.7 123.1 L121.7 119.3 L120.7 115.5 L119.7 111.6 L118.8 107.7 L117.8 103.6 L116.8 99.5 L115.8 95.3 L114.8 91.0 L113.8 86.7 L112.8 82.2 L111.8 77.7 L110.8 73.0 L109.8 68.3 L108.8 63.5 L107.8 58.6 L106.8 53.6 L105.8 48.5 L104.8 43.3 L103.8 38.0 L102.8 32.6 L101.8 27.1 L100.8 21.5 L99.8 15.8 L98.8 10.0 L97.8 4.1 L96.8 -1.9 L95.8 -8.1 L94.8 -14.3 L93.8 -20.7 L92.8 -27.1 L91.8 -33.7 L82.0 -32.2 L83.0 -25.6 L84.0 -19.1 L85.0 -12.7 L86.0 -6.5 L87.0 -0.3 L88.0 5.7 L89.0 11.7 L90.0 17.5 L91.0 23.2 L92.0 28.9 L93.0 34.4 L94.0 39.8 L95.0 45.1 L96.0 50.4 L97.0 55.5 L98.0 60.5 L99.0 65.5 L100.0 70.3 L101.0 75.1 L102.0 79.8 L103.0 84.4 L104.0 88.9 L105.0 93.3 L106.0 97.6 L107.0 101.9 L108.0 106.0 L109.0 110.1 L110.1 114.1 L111.1 118.0 L112.1 121.9 L113.1 125.7 L114.1 129.4 L115.1 133.0 L116.1 136.5 L117.1 140.0 L118.1 143.4 L119.1 146.8 L120.1 150.0 L121.1 153.3 L122.1 156.4 L123.2 159.5 L124.2 162.5 L125.2 165.4 L126.2 168.3 L127.2 171.2 L128.2 173.9 L129.2 176.6 L130.2 179.3 L131.3 181.9 L132.3 184.4 L133.3 186.9 L134.3 189.3 L135.3 191.7 L136.3 194.0 L137.3 196.3 L138.4 198.5 L139.4 200.7 L140.4 202.8 L141.4 204.8 L142.4 206.9 L143.5 208.8 L144.5 210.8 L145.5 212.6 L146.5 214.5 L147.6 216.3 L148.6 218.0 L149.6 219.7 L150.7 221.4 L151.7 223.0 L152.7 224.6 L153.8 226.1 L154.8 227.6 L155.8 229.1 L156.9 230.5 L157.9 231.9 L159.0 233.2 L160.0 234.6 L161.1 235.8 L162.1 237.1 L163.2 238.3 L164.2 239.4 L165.3 240.6 L166.3 241.7 L167.4 242.7 L168.4 243.8 L169.5 244.8 L170.6 245.7 L171.6 246.7 L172.7 247.6 L173.8 248.4 L174.9 249.3 L175.9 250.1 L177.0 250.9 L178.1 251.6 L179.2 252.3 L180.3 253.0 L181.4 253.7 L182.5 254.3 L183.6 254.9 L184.7 255.5 L185.8 256.0 L186.9 256.5 L188.0 257.0 L189.1 257.4 L190.2 257.9 L191.3 258.3 L192.4 258.6 L193.5 258.9 L194.6 259.3 L195.8 259.5 L196.9 259.8 L198.0 260.0 L199.1 260.2 L200.3 260.3 L201.4 260.5 L202.5 260.6 L203.6 260.6 L204.8 260.7 L205.9 260.7 L207.0 260.7 L208.2 260.6Z" fill="url(#g6)" filter="url(#bl5)" style="mix-blend-mode:plus-lighter"/>
<path d="M207.8 254.1 L206.9 254.1 L205.9 254.1 L204.9 254.1 L204.0 254.1 L203.0 254.0 L202.1 253.9 L201.1 253.8 L200.1 253.7 L199.2 253.5 L198.2 253.3 L197.3 253.1 L196.3 252.9 L195.3 252.6 L194.4 252.3 L193.4 252.0 L192.4 251.7 L191.5 251.3 L190.5 250.9 L189.6 250.5 L188.6 250.0 L187.6 249.6 L186.6 249.1 L185.7 248.5 L184.7 248.0 L183.7 247.4 L182.8 246.8 L181.8 246.1 L180.8 245.5 L179.8 244.8 L178.9 244.0 L177.9 243.3 L176.9 242.5 L175.9 241.7 L175.0 240.8 L174.0 239.9 L173.0 239.0 L172.0 238.0 L171.0 237.1 L170.1 236.0 L169.1 235.0 L168.1 233.9 L167.1 232.8 L166.1 231.6 L165.1 230.4 L164.2 229.2 L163.2 227.9 L162.2 226.6 L161.2 225.2 L160.2 223.8 L159.2 222.4 L158.2 220.9 L157.2 219.4 L156.3 217.9 L155.3 216.3 L154.3 214.6 L153.3 213.0 L152.3 211.2 L151.3 209.4 L150.3 207.6 L149.3 205.8 L148.3 203.8 L147.3 201.9 L146.3 199.9 L145.3 197.8 L144.4 195.7 L143.4 193.5 L142.4 191.3 L141.4 189.1 L140.4 186.7 L139.4 184.4 L138.4 181.9 L137.4 179.4 L136.4 176.9 L135.4 174.3 L134.4 171.6 L133.4 168.9 L132.4 166.1 L131.4 163.3 L130.4 160.4 L129.4 157.4 L128.4 154.4 L127.4 151.3 L126.4 148.1 L125.4 144.9 L124.4 141.5 L123.4 138.2 L122.4 134.7 L121.4 131.2 L120.4 127.6 L119.4 123.9 L118.4 120.2 L117.4 116.4 L116.5 112.5 L115.5 108.5 L114.5 104.5 L113.5 100.3 L112.5 96.1 L111.5 91.8 L110.5 87.4 L109.5 82.9 L108.5 78.4 L107.5 73.7 L106.5 69.0 L105.5 64.2 L104.5 59.2 L103.5 54.2 L102.5 49.1 L101.5 43.9 L100.5 38.6 L99.5 33.2 L98.5 27.7 L97.5 22.1 L96.5 16.4 L95.5 10.6 L94.5 4.6 L93.5 -1.4 L92.5 -7.5 L91.5 -13.8 L90.5 -20.1 L89.5 -26.6 L88.5 -33.2 L85.3 -32.7 L86.3 -26.1 L87.3 -19.6 L88.3 -13.3 L89.3 -7.0 L90.3 -0.9 L91.3 5.2 L92.3 11.1 L93.3 16.9 L94.3 22.6 L95.3 28.3 L96.3 33.8 L97.3 39.2 L98.3 44.5 L99.3 49.7 L100.3 54.8 L101.3 59.9 L102.3 64.8 L103.3 69.6 L104.3 74.4 L105.3 79.1 L106.3 83.6 L107.3 88.1 L108.3 92.5 L109.3 96.8 L110.3 101.1 L111.3 105.2 L112.3 109.3 L113.3 113.3 L114.4 117.2 L115.4 121.0 L116.4 124.8 L117.4 128.5 L118.4 132.1 L119.4 135.6 L120.4 139.1 L121.4 142.5 L122.4 145.8 L123.4 149.0 L124.4 152.2 L125.4 155.3 L126.4 158.4 L127.4 161.4 L128.4 164.3 L129.4 167.2 L130.4 170.0 L131.4 172.7 L132.4 175.4 L133.4 178.0 L134.4 180.6 L135.4 183.1 L136.4 185.6 L137.4 188.0 L138.4 190.3 L139.4 192.6 L140.4 194.9 L141.4 197.1 L142.5 199.2 L143.5 201.3 L144.5 203.3 L145.5 205.3 L146.5 207.2 L147.5 209.1 L148.5 211.0 L149.5 212.8 L150.5 214.6 L151.5 216.3 L152.5 217.9 L153.5 219.6 L154.6 221.2 L155.6 222.7 L156.6 224.2 L157.6 225.7 L158.6 227.1 L159.6 228.5 L160.6 229.8 L161.6 231.1 L162.7 232.4 L163.7 233.7 L164.7 234.9 L165.7 236.0 L166.7 237.1 L167.7 238.2 L168.8 239.3 L169.8 240.3 L170.8 241.3 L171.8 242.3 L172.8 243.2 L173.9 244.1 L174.9 245.0 L175.9 245.8 L176.9 246.6 L178.0 247.4 L179.0 248.1 L180.0 248.8 L181.0 249.5 L182.1 250.1 L183.1 250.7 L184.1 251.3 L185.2 251.9 L186.2 252.4 L187.2 252.9 L188.2 253.4 L189.3 253.9 L190.3 254.3 L191.4 254.7 L192.4 255.0 L193.4 255.4 L194.5 255.7 L195.5 256.0 L196.5 256.2 L197.6 256.4 L198.6 256.6 L199.7 256.8 L200.7 257.0 L201.7 257.1 L202.8 257.2 L203.8 257.2 L204.9 257.3 L205.9 257.3 L206.9 257.3 L208.0 257.2Z" fill="url(#g7)" filter="url(#bl6)" style="mix-blend-mode:plus-lighter"/>
<path d="M207.3 348.0 L206.6 348.0 L205.9 348.0 L205.2 348.0 L204.5 348.0 L203.8 347.9 L203.1 347.9 L202.4 347.8 L201.7 347.7 L200.9 347.6 L200.2 347.5 L199.5 347.4 L198.8 347.2 L198.1 347.1 L197.4 346.9 L196.6 346.7 L195.9 346.5 L195.2 346.3 L194.4 346.0 L193.7 345.8 L193.0 345.5 L192.2 345.2 L191.5 344.9 L190.7 344.6 L190.0 344.2 L189.2 343.8 L188.4 343.4 L187.7 343.0 L186.9 342.6 L186.1 342.1 L185.3 341.6 L184.5 341.1 L183.7 340.6 L182.9 340.1 L182.1 339.5 L181.3 338.9 L180.5 338.3 L179.7 337.6 L178.9 336.9 L178.1 336.2 L177.2 335.5 L176.4 334.7 L175.5 333.9 L174.7 333.1 L173.8 332.3 L173.0 331.4 L172.1 330.5 L171.3 329.6 L170.4 328.6 L169.5 327.6 L168.6 326.6 L167.8 325.5 L166.9 324.4 L166.0 323.2 L165.1 322.1 L164.2 320.9 L163.3 319.6 L162.4 318.3 L161.5 317.0 L160.6 315.6 L159.7 314.2 L158.8 312.8 L157.8 311.3 L156.9 309.8 L156.0 308.2 L155.1 306.6 L154.1 305.0 L153.2 303.3 L152.3 301.5 L151.3 299.7 L150.4 297.9 L149.4 296.0 L148.5 294.1 L147.5 292.1 L146.6 290.1 L145.6 288.0 L144.7 285.9 L143.7 283.8 L142.8 281.5 L141.8 279.2 L140.9 276.9 L139.9 274.5 L138.9 272.1 L138.0 269.6 L137.0 267.0 L136.0 264.4 L135.1 261.8 L134.1 259.0 L133.1 256.3 L132.2 253.4 L131.2 250.5 L130.2 247.5 L129.2 244.5 L128.3 241.4 L127.3 238.2 L126.3 235.0 L125.3 231.7 L124.4 228.3 L123.4 224.9 L122.4 221.4 L121.4 217.8 L120.4 214.2 L119.4 210.5 L118.5 206.7 L117.5 202.8 L116.5 198.8 L115.5 194.8 L114.5 190.7 L113.5 186.5 L112.5 182.3 L111.6 177.9 L110.6 173.5 L109.6 169.0 L108.6 164.4 L107.6 159.8 L106.6 155.0 L105.6 150.1 L104.6 145.2 L103.6 140.2 L102.6 135.1 L101.7 129.8 L100.7 124.5 L99.7 119.1 L98.7 113.6 L97.7 108.0 L96.7 102.3 L95.7 96.5 L94.7 90.6 L93.7 84.7 L92.7 78.6 L91.7 72.3 L90.7 66.0 L89.7 59.6 L88.7 53.1 L87.7 46.4 L86.8 39.7 L85.8 32.8 L84.8 25.9 L83.8 18.8 L82.8 11.5 L81.8 4.2 L80.8 -3.2 L79.8 -10.8 L78.8 -18.5 L77.8 -26.3 L76.8 -34.3 L49.0 -30.8 L50.0 -22.8 L51.0 -14.9 L52.0 -7.2 L53.0 0.5 L54.0 8.0 L55.0 15.3 L56.0 22.6 L57.0 29.8 L58.0 36.8 L59.0 43.7 L60.1 50.6 L61.1 57.3 L62.1 63.9 L63.1 70.4 L64.1 76.7 L65.1 83.0 L66.1 89.2 L67.1 95.3 L68.1 101.2 L69.1 107.1 L70.1 112.9 L71.1 118.6 L72.1 124.1 L73.1 129.6 L74.1 135.0 L75.2 140.3 L76.2 145.5 L77.2 150.7 L78.2 155.7 L79.2 160.6 L80.2 165.5 L81.2 170.3 L82.2 175.0 L83.2 179.6 L84.2 184.1 L85.3 188.6 L86.3 192.9 L87.3 197.2 L88.3 201.4 L89.3 205.6 L90.3 209.6 L91.3 213.6 L92.4 217.5 L93.4 221.4 L94.4 225.2 L95.4 228.9 L96.4 232.5 L97.4 236.1 L98.5 239.6 L99.5 243.0 L100.5 246.4 L101.5 249.7 L102.6 253.0 L103.6 256.2 L104.6 259.3 L105.6 262.4 L106.7 265.4 L107.7 268.3 L108.7 271.2 L109.8 274.1 L110.8 276.9 L111.8 279.6 L112.9 282.3 L113.9 284.9 L114.9 287.5 L116.0 290.0 L117.0 292.5 L118.1 294.9 L119.1 297.3 L120.2 299.6 L121.2 301.9 L122.3 304.1 L123.3 306.3 L124.4 308.5 L125.4 310.6 L126.5 312.7 L127.5 314.7 L128.6 316.7 L129.7 318.6 L130.7 320.5 L131.8 322.3 L132.9 324.2 L134.0 325.9 L135.0 327.7 L136.1 329.4 L137.2 331.1 L138.3 332.7 L139.4 334.3 L140.5 335.8 L141.6 337.4 L142.7 338.9 L143.8 340.3 L144.9 341.7 L146.0 343.1 L147.2 344.5 L148.3 345.8 L149.4 347.1 L150.5 348.4 L151.7 349.6 L152.8 350.8 L154.0 352.0 L155.1 353.1 L156.3 354.2 L157.4 355.3 L158.6 356.4 L159.7 357.4 L160.9 358.4 L162.1 359.4 L163.3 360.3 L164.5 361.2 L165.7 362.1 L166.9 363.0 L168.1 363.8 L169.3 364.6 L170.5 365.4 L171.7 366.1 L172.9 366.8 L174.1 367.5 L175.4 368.2 L176.6 368.8 L177.8 369.4 L179.1 370.0 L180.3 370.6 L181.6 371.1 L182.8 371.6 L184.1 372.1 L185.4 372.5 L186.6 372.9 L187.9 373.3 L189.2 373.7 L190.4 374.0 L191.7 374.4 L193.0 374.6 L194.3 374.9 L195.6 375.1 L196.9 375.3 L198.1 375.5 L199.4 375.7 L200.7 375.8 L202.0 375.9 L203.3 375.9 L204.6 376.0 L205.9 376.0 L207.2 376.0 L208.5 375.9Z" fill="url(#g8)" filter="url(#bl4)" style="mix-blend-mode:plus-lighter"/>
<path d="M207.8 359.5 L206.8 359.5 L205.9 359.5 L205.0 359.5 L204.0 359.5 L203.1 359.4 L202.1 359.3 L201.2 359.3 L200.2 359.1 L199.3 359.0 L198.3 358.9 L197.4 358.7 L196.4 358.5 L195.5 358.3 L194.5 358.1 L193.6 357.8 L192.6 357.5 L191.7 357.2 L190.7 356.9 L189.8 356.6 L188.8 356.2 L187.8 355.8 L186.9 355.4 L185.9 355.0 L185.0 354.6 L184.0 354.1 L183.1 353.6 L182.1 353.1 L181.1 352.5 L180.2 352.0 L179.2 351.4 L178.3 350.8 L177.3 350.1 L176.3 349.5 L175.4 348.8 L174.4 348.1 L173.4 347.3 L172.5 346.5 L171.5 345.8 L170.5 344.9 L169.6 344.1 L168.6 343.2 L167.6 342.3 L166.6 341.3 L165.7 340.4 L164.7 339.4 L163.7 338.4 L162.8 337.3 L161.8 336.2 L160.8 335.1 L159.8 333.9 L158.8 332.7 L157.9 331.5 L156.9 330.3 L155.9 329.0 L154.9 327.6 L153.9 326.3 L153.0 324.9 L152.0 323.4 L151.0 322.0 L150.0 320.5 L149.0 318.9 L148.0 317.3 L147.0 315.7 L146.1 314.0 L145.1 312.3 L144.1 310.6 L143.1 308.8 L142.1 306.9 L141.1 305.0 L140.1 303.1 L139.1 301.2 L138.1 299.1 L137.2 297.1 L136.2 295.0 L135.2 292.8 L134.2 290.6 L133.2 288.3 L132.2 286.0 L131.2 283.7 L130.2 281.3 L129.2 278.8 L128.2 276.3 L127.2 273.7 L126.2 271.1 L125.2 268.4 L124.3 265.7 L123.3 262.9 L122.3 260.0 L121.3 257.1 L120.3 254.1 L119.3 251.1 L118.3 248.0 L117.3 244.8 L116.3 241.6 L115.3 238.3 L114.3 234.9 L113.3 231.5 L112.3 228.0 L111.3 224.5 L110.3 220.8 L109.3 217.1 L108.3 213.4 L107.3 209.5 L106.3 205.6 L105.3 201.6 L104.3 197.5 L103.3 193.4 L102.3 189.2 L101.3 184.9 L100.3 180.5 L99.3 176.0 L98.3 171.5 L97.3 166.8 L96.3 162.1 L95.3 157.3 L94.4 152.4 L93.4 147.4 L92.4 142.4 L91.4 137.2 L90.4 132.0 L89.4 126.6 L88.4 121.2 L87.4 115.7 L86.4 110.0 L85.4 104.3 L84.4 98.5 L83.4 92.5 L82.4 86.5 L81.4 80.4 L80.4 74.1 L79.4 67.8 L78.4 61.4 L77.4 54.8 L76.4 48.1 L75.4 41.4 L74.4 34.5 L73.4 27.5 L72.4 20.3 L71.4 13.1 L70.4 5.8 L69.4 -1.7 L68.4 -9.3 L67.4 -17.0 L66.4 -24.9 L65.4 -32.8 L60.4 -32.2 L61.4 -24.2 L62.4 -16.4 L63.4 -8.7 L64.4 -1.1 L65.4 6.4 L66.4 13.8 L67.4 21.0 L68.4 28.2 L69.4 35.2 L70.4 42.1 L71.4 48.9 L72.4 55.5 L73.4 62.1 L74.4 68.6 L75.4 74.9 L76.4 81.2 L77.4 87.3 L78.4 93.4 L79.4 99.3 L80.4 105.2 L81.4 110.9 L82.4 116.5 L83.4 122.1 L84.4 127.5 L85.4 132.9 L86.4 138.2 L87.4 143.3 L88.4 148.4 L89.4 153.4 L90.5 158.3 L91.5 163.1 L92.5 167.9 L93.5 172.5 L94.5 177.1 L95.5 181.6 L96.5 186.0 L97.5 190.3 L98.5 194.6 L99.5 198.7 L100.5 202.8 L101.5 206.8 L102.5 210.8 L103.5 214.6 L104.5 218.4 L105.5 222.2 L106.5 225.8 L107.5 229.4 L108.5 232.9 L109.5 236.4 L110.5 239.7 L111.5 243.1 L112.5 246.3 L113.5 249.5 L114.5 252.6 L115.5 255.7 L116.5 258.7 L117.5 261.6 L118.5 264.5 L119.5 267.3 L120.6 270.1 L121.6 272.8 L122.6 275.5 L123.6 278.1 L124.6 280.6 L125.6 283.1 L126.6 285.6 L127.6 288.0 L128.6 290.3 L129.6 292.6 L130.6 294.9 L131.6 297.1 L132.6 299.2 L133.7 301.3 L134.7 303.4 L135.7 305.4 L136.7 307.4 L137.7 309.3 L138.7 311.2 L139.7 313.0 L140.7 314.8 L141.7 316.5 L142.8 318.3 L143.8 319.9 L144.8 321.6 L145.8 323.2 L146.8 324.7 L147.8 326.2 L148.8 327.7 L149.9 329.2 L150.9 330.6 L151.9 332.0 L152.9 333.3 L153.9 334.6 L155.0 335.9 L156.0 337.1 L157.0 338.3 L158.0 339.5 L159.0 340.7 L160.1 341.8 L161.1 342.8 L162.1 343.9 L163.2 344.9 L164.2 345.9 L165.2 346.9 L166.2 347.8 L167.3 348.7 L168.3 349.6 L169.3 350.4 L170.4 351.3 L171.4 352.1 L172.4 352.8 L173.5 353.6 L174.5 354.3 L175.5 355.0 L176.6 355.6 L177.6 356.3 L178.7 356.9 L179.7 357.5 L180.7 358.0 L181.8 358.6 L182.8 359.1 L183.9 359.6 L184.9 360.0 L186.0 360.5 L187.0 360.9 L188.0 361.3 L189.1 361.6 L190.1 362.0 L191.2 362.3 L192.2 362.6 L193.3 362.9 L194.3 363.2 L195.4 363.4 L196.4 363.6 L197.5 363.8 L198.5 364.0 L199.6 364.1 L200.6 364.2 L201.7 364.3 L202.7 364.4 L203.8 364.5 L204.8 364.5 L205.9 364.5 L207.0 364.5 L208.0 364.5Z" fill="url(#g9)" filter="url(#bl7)" style="mix-blend-mode:plus-lighter"/>
</g>
<g clip-path="url(#cpb)">
<rect x="205.9" y="9.0" width="131.70000000000002" height="460.0" fill="rgb(8,8,8)"/>
<rect x="205" y="63.6" width="135" height="3.0" fill="url(#hlg)" filter="url(#hl)" style="mix-blend-mode:plus-lighter"/>
<rect x="205.9" y="9.0" width="131.70000000000002" height="460.0" fill="#000" filter="url(#nz)" style="mix-blend-mode:plus-lighter"/>
<path d="M204.2 228.5 L205.0 228.6 L205.9 228.6 L206.8 228.6 L207.6 228.5 L208.5 228.5 L209.3 228.4 L210.2 228.2 L211.1 228.0 L211.9 227.8 L212.8 227.6 L213.7 227.3 L214.6 227.0 L215.4 226.7 L216.3 226.3 L217.2 225.9 L218.1 225.5 L219.0 225.0 L219.9 224.5 L220.8 224.0 L221.7 223.4 L222.7 222.8 L223.6 222.2 L224.5 221.5 L225.4 220.8 L226.4 220.0 L227.3 219.3 L228.2 218.4 L229.2 217.6 L230.1 216.7 L231.1 215.8 L232.0 214.8 L233.0 213.8 L233.9 212.8 L234.9 211.7 L235.9 210.6 L236.8 209.5 L237.8 208.3 L238.8 207.1 L239.7 205.8 L240.7 204.5 L241.7 203.2 L242.6 201.9 L243.6 200.5 L244.6 199.1 L245.6 197.6 L246.5 196.1 L247.5 194.6 L248.5 193.0 L249.5 191.4 L250.5 189.8 L251.4 188.2 L252.4 186.5 L253.4 184.7 L254.4 183.0 L255.4 181.2 L256.4 179.4 L257.4 177.5 L258.3 175.6 L259.3 173.7 L260.3 171.7 L261.3 169.8 L262.3 167.7 L263.3 165.7 L264.3 163.6 L265.3 161.5 L266.3 159.4 L267.3 157.2 L268.2 155.0 L269.2 152.7 L270.2 150.5 L271.2 148.2 L272.2 145.9 L273.2 143.5 L274.2 141.1 L275.2 138.7 L276.2 136.3 L277.2 133.8 L278.2 131.3 L279.2 128.8 L280.2 126.2 L281.2 123.6 L282.2 121.0 L283.2 118.4 L284.2 115.7 L285.1 113.0 L286.1 110.3 L287.1 107.5 L288.1 104.7 L289.1 101.9 L290.1 99.1 L291.1 96.3 L292.1 93.4 L293.1 90.5 L294.1 87.6 L295.1 84.6 L296.1 81.6 L297.1 78.6 L298.1 75.6 L299.1 72.6 L300.1 69.5 L301.1 66.4 L302.1 63.3 L303.1 60.1 L304.1 57.0 L305.1 53.8 L306.1 50.6 L307.1 47.3 L308.1 44.1 L309.1 40.8 L310.1 37.5 L311.1 34.2 L312.1 30.9 L313.1 27.5 L314.1 24.2 L315.1 20.8 L316.1 17.4 L317.1 13.9 L318.1 10.5 L319.1 7.0 L320.1 3.5 L321.1 0.1 L322.1 -3.5 L323.1 -7.0 L324.0 -10.5 L325.0 -14.1 L326.0 -17.7 L327.0 -21.3 L328.0 -24.9 L329.0 -28.5 L330.0 -32.2 L337.8 -30.0 L336.8 -26.4 L335.8 -22.8 L334.8 -19.1 L333.8 -15.5 L332.8 -12.0 L331.8 -8.4 L330.7 -4.8 L329.7 -1.3 L328.7 2.2 L327.7 5.7 L326.7 9.2 L325.7 12.7 L324.7 16.2 L323.7 19.6 L322.7 23.0 L321.7 26.4 L320.7 29.8 L319.7 33.2 L318.7 36.5 L317.7 39.8 L316.7 43.1 L315.7 46.4 L314.7 49.7 L313.7 52.9 L312.7 56.2 L311.7 59.4 L310.7 62.5 L309.7 65.7 L308.7 68.8 L307.7 71.9 L306.7 75.0 L305.7 78.1 L304.7 81.1 L303.7 84.2 L302.7 87.2 L301.7 90.1 L300.7 93.1 L299.7 96.0 L298.7 98.9 L297.7 101.8 L296.7 104.6 L295.7 107.4 L294.7 110.2 L293.7 113.0 L292.7 115.8 L291.6 118.5 L290.6 121.2 L289.6 123.8 L288.6 126.5 L287.6 129.1 L286.6 131.7 L285.6 134.2 L284.6 136.8 L283.6 139.3 L282.6 141.7 L281.6 144.2 L280.6 146.6 L279.6 149.0 L278.6 151.3 L277.6 153.7 L276.6 156.0 L275.6 158.2 L274.5 160.5 L273.5 162.7 L272.5 164.9 L271.5 167.0 L270.5 169.1 L269.5 171.2 L268.5 173.3 L267.5 175.3 L266.5 177.3 L265.5 179.3 L264.4 181.2 L263.4 183.1 L262.4 185.0 L261.4 186.9 L260.4 188.7 L259.4 190.5 L258.4 192.2 L257.3 193.9 L256.3 195.6 L255.3 197.3 L254.3 198.9 L253.3 200.5 L252.2 202.0 L251.2 203.6 L250.2 205.1 L249.2 206.5 L248.1 207.9 L247.1 209.3 L246.1 210.7 L245.0 212.0 L244.0 213.3 L243.0 214.6 L241.9 215.8 L240.9 217.0 L239.9 218.2 L238.8 219.3 L237.8 220.4 L236.7 221.4 L235.7 222.5 L234.6 223.5 L233.6 224.4 L232.5 225.3 L231.4 226.2 L230.4 227.1 L229.3 227.9 L228.2 228.7 L227.1 229.5 L226.1 230.2 L225.0 230.8 L223.9 231.5 L222.8 232.1 L221.7 232.7 L220.6 233.2 L219.5 233.7 L218.4 234.2 L217.2 234.6 L216.1 235.0 L215.0 235.3 L213.9 235.6 L212.7 235.9 L211.6 236.1 L210.5 236.3 L209.3 236.4 L208.2 236.5 L207.0 236.6 L205.9 236.6 L204.8 236.6 L203.6 236.5Z" fill="url(#g10)" filter="url(#bl8)" style="mix-blend-mode:plus-lighter"/>
<path d="M204.1 229.3 L205.0 229.4 L205.9 229.4 L206.8 229.4 L207.7 229.4 L208.6 229.3 L209.5 229.2 L210.4 229.1 L211.3 229.0 L212.2 228.8 L213.1 228.6 L214.0 228.3 L214.9 228.0 L215.8 227.7 L216.8 227.4 L217.7 227.0 L218.6 226.6 L219.6 226.1 L220.5 225.6 L221.5 225.1 L222.4 224.5 L223.4 223.9 L224.3 223.3 L225.3 222.6 L226.3 221.9 L227.3 221.1 L228.2 220.4 L229.2 219.5 L230.2 218.7 L231.2 217.8 L232.2 216.9 L233.2 215.9 L234.1 214.9 L235.1 213.9 L236.1 212.8 L237.1 211.7 L238.1 210.5 L239.1 209.4 L240.1 208.1 L241.1 206.9 L242.1 205.6 L243.1 204.3 L244.1 202.9 L245.1 201.5 L246.1 200.1 L247.2 198.7 L248.2 197.2 L249.2 195.6 L250.2 194.1 L251.2 192.5 L252.2 190.9 L253.2 189.2 L254.2 187.5 L255.2 185.8 L256.2 184.0 L257.3 182.2 L258.3 180.4 L259.3 178.5 L260.3 176.6 L261.3 174.7 L262.3 172.7 L263.3 170.8 L264.4 168.7 L265.4 166.7 L266.4 164.6 L267.4 162.5 L268.4 160.3 L269.4 158.2 L270.5 156.0 L271.5 153.7 L272.5 151.5 L273.5 149.2 L274.5 146.8 L275.5 144.5 L276.6 142.1 L277.6 139.7 L278.6 137.2 L279.6 134.8 L280.6 132.2 L281.6 129.7 L282.6 127.1 L283.6 124.6 L284.6 121.9 L285.6 119.3 L286.6 116.6 L287.6 113.9 L288.6 111.2 L289.7 108.4 L290.7 105.7 L291.7 102.8 L292.7 100.0 L293.7 97.2 L294.7 94.3 L295.7 91.4 L296.7 88.4 L297.7 85.5 L298.7 82.5 L299.7 79.5 L300.7 76.5 L301.7 73.4 L302.7 70.3 L303.7 67.2 L304.7 64.1 L305.7 61.0 L306.7 57.8 L307.7 54.6 L308.8 51.4 L309.8 48.2 L310.8 44.9 L311.8 41.6 L312.8 38.3 L313.8 35.0 L314.8 31.7 L315.8 28.3 L316.8 25.0 L317.8 21.6 L318.8 18.2 L319.8 14.7 L320.8 11.3 L321.8 7.8 L322.8 4.3 L323.8 0.8 L324.8 -2.7 L325.9 -6.2 L326.9 -9.8 L327.9 -13.3 L328.9 -16.9 L329.9 -20.5 L330.9 -24.1 L331.9 -27.7 L332.9 -31.4 L334.9 -30.8 L333.9 -27.2 L332.9 -23.5 L331.9 -19.9 L330.9 -16.3 L329.9 -12.7 L328.9 -9.2 L327.9 -5.6 L327.0 -2.1 L326.0 1.4 L325.0 5.0 L324.0 8.4 L323.0 11.9 L322.0 15.4 L321.0 18.8 L320.0 22.2 L319.0 25.6 L318.0 29.0 L317.0 32.4 L316.0 35.7 L315.0 39.0 L314.0 42.3 L313.0 45.6 L312.0 48.9 L311.0 52.1 L310.1 55.3 L309.1 58.5 L308.1 61.7 L307.1 64.9 L306.1 68.0 L305.1 71.1 L304.1 74.2 L303.1 77.2 L302.1 80.3 L301.1 83.3 L300.1 86.3 L299.1 89.3 L298.1 92.2 L297.1 95.1 L296.1 98.0 L295.1 100.9 L294.1 103.7 L293.1 106.5 L292.1 109.3 L291.2 112.1 L290.2 114.8 L289.2 117.6 L288.2 120.2 L287.2 122.9 L286.2 125.5 L285.2 128.1 L284.2 130.7 L283.2 133.3 L282.2 135.8 L281.2 138.3 L280.2 140.8 L279.2 143.2 L278.3 145.6 L277.3 148.0 L276.3 150.4 L275.3 152.7 L274.3 155.0 L273.3 157.3 L272.4 159.5 L271.4 161.7 L270.4 163.9 L269.4 166.0 L268.4 168.2 L267.4 170.2 L266.5 172.3 L265.5 174.3 L264.5 176.3 L263.5 178.3 L262.5 180.2 L261.5 182.1 L260.5 184.0 L259.6 185.8 L258.6 187.7 L257.6 189.4 L256.6 191.2 L255.6 192.9 L254.6 194.6 L253.6 196.2 L252.6 197.8 L251.6 199.4 L250.6 201.0 L249.7 202.5 L248.7 204.0 L247.7 205.4 L246.7 206.9 L245.7 208.3 L244.7 209.6 L243.7 210.9 L242.7 212.2 L241.7 213.5 L240.7 214.7 L239.7 215.9 L238.7 217.1 L237.7 218.2 L236.6 219.3 L235.6 220.4 L234.6 221.4 L233.6 222.4 L232.6 223.3 L231.6 224.3 L230.5 225.1 L229.5 226.0 L228.5 226.8 L227.5 227.6 L226.4 228.4 L225.4 229.1 L224.3 229.8 L223.3 230.4 L222.2 231.0 L221.2 231.6 L220.1 232.2 L219.0 232.7 L218.0 233.1 L216.9 233.6 L215.8 234.0 L214.7 234.3 L213.6 234.6 L212.5 234.9 L211.4 235.2 L210.3 235.4 L209.2 235.5 L208.1 235.7 L207.0 235.8 L205.9 235.8 L204.8 235.8 L203.7 235.7Z" fill="url(#g11)" filter="url(#bl9)" style="mix-blend-mode:plus-lighter"/>
<path d="M204.0 230.9 L205.0 231.0 L205.9 231.0 L206.8 231.0 L207.8 231.0 L208.7 230.9 L209.7 230.8 L210.6 230.7 L211.6 230.5 L212.5 230.3 L213.5 230.0 L214.5 229.8 L215.4 229.5 L216.4 229.1 L217.4 228.7 L218.3 228.3 L219.3 227.9 L220.3 227.4 L221.2 226.9 L222.2 226.3 L223.2 225.7 L224.2 225.1 L225.2 224.4 L226.2 223.7 L227.2 223.0 L228.1 222.2 L229.1 221.4 L230.1 220.6 L231.1 219.7 L232.1 218.8 L233.1 217.8 L234.1 216.8 L235.1 215.8 L236.1 214.8 L237.1 213.7 L238.1 212.5 L239.1 211.4 L240.1 210.2 L241.2 209.0 L242.2 207.7 L243.2 206.4 L244.2 205.1 L245.3 203.7 L246.3 202.3 L247.3 200.9 L248.3 199.4 L249.4 197.9 L250.4 196.4 L251.4 194.8 L252.4 193.2 L253.5 191.6 L254.5 189.9 L255.5 188.2 L256.5 186.5 L257.6 184.7 L258.6 182.9 L259.6 181.1 L260.6 179.2 L261.6 177.3 L262.6 175.4 L263.6 173.4 L264.6 171.4 L265.6 169.4 L266.6 167.3 L267.6 165.2 L268.6 163.1 L269.6 160.9 L270.6 158.7 L271.6 156.5 L272.6 154.2 L273.6 151.9 L274.6 149.6 L275.6 147.3 L276.6 144.9 L277.6 142.5 L278.6 140.1 L279.6 137.6 L280.6 135.2 L281.6 132.6 L282.6 130.1 L283.6 127.5 L284.6 124.9 L285.6 122.3 L286.6 119.7 L287.6 117.0 L288.6 114.3 L289.6 111.5 L290.6 108.8 L291.6 106.0 L292.6 103.2 L293.6 100.3 L294.6 97.5 L295.6 94.6 L296.6 91.7 L297.6 88.7 L298.6 85.8 L299.6 82.8 L300.6 79.8 L301.6 76.8 L302.6 73.7 L303.6 70.6 L304.6 67.5 L305.6 64.4 L306.6 61.2 L307.6 58.1 L308.6 54.9 L309.6 51.7 L310.6 48.4 L311.6 45.2 L312.6 41.9 L313.6 38.6 L314.6 35.3 L315.6 31.9 L316.6 28.6 L317.6 25.2 L318.6 21.8 L319.6 18.4 L320.6 15.0 L321.6 11.5 L322.6 8.1 L323.6 4.6 L324.6 1.1 L325.6 -2.5 L326.6 -6.0 L327.6 -9.5 L328.6 -13.1 L329.6 -16.7 L330.6 -20.3 L331.6 -23.9 L332.6 -27.5 L333.6 -31.2 L334.2 -31.0 L333.2 -27.4 L332.2 -23.7 L331.2 -20.1 L330.2 -16.5 L329.2 -12.9 L328.2 -9.4 L327.2 -5.8 L326.2 -2.3 L325.2 1.2 L324.2 4.7 L323.2 8.2 L322.2 11.7 L321.2 15.1 L320.2 18.6 L319.2 22.0 L318.2 25.4 L317.2 28.8 L316.2 32.1 L315.2 35.5 L314.2 38.8 L313.2 42.1 L312.2 45.3 L311.2 48.6 L310.2 51.8 L309.2 55.1 L308.2 58.3 L307.2 61.4 L306.2 64.6 L305.2 67.7 L304.2 70.8 L303.2 73.9 L302.2 76.9 L301.2 80.0 L300.2 83.0 L299.2 86.0 L298.2 88.9 L297.2 91.9 L296.2 94.8 L295.2 97.7 L294.2 100.5 L293.2 103.4 L292.2 106.2 L291.2 109.0 L290.2 111.7 L289.2 114.5 L288.2 117.2 L287.2 119.9 L286.2 122.5 L285.2 125.1 L284.2 127.7 L283.2 130.3 L282.2 132.9 L281.2 135.4 L280.2 137.9 L279.2 140.3 L278.2 142.8 L277.2 145.2 L276.2 147.5 L275.2 149.9 L274.2 152.2 L273.2 154.5 L272.2 156.7 L271.2 159.0 L270.2 161.1 L269.2 163.3 L268.2 165.4 L267.2 167.5 L266.2 169.6 L265.2 171.7 L264.2 173.7 L263.2 175.7 L262.2 177.6 L261.2 179.5 L260.2 181.4 L259.2 183.3 L258.2 185.1 L257.3 186.9 L256.3 188.7 L255.3 190.4 L254.3 192.1 L253.4 193.8 L252.4 195.5 L251.4 197.1 L250.4 198.7 L249.5 200.2 L248.5 201.7 L247.5 203.2 L246.5 204.7 L245.6 206.1 L244.6 207.5 L243.6 208.8 L242.6 210.1 L241.7 211.4 L240.7 212.7 L239.7 213.9 L238.7 215.0 L237.7 216.2 L236.7 217.3 L235.7 218.4 L234.7 219.4 L233.7 220.4 L232.7 221.4 L231.7 222.3 L230.7 223.2 L229.7 224.1 L228.6 224.9 L227.6 225.7 L226.6 226.5 L225.6 227.2 L224.6 227.9 L223.6 228.5 L222.6 229.2 L221.5 229.7 L220.5 230.3 L219.5 230.8 L218.4 231.3 L217.4 231.7 L216.4 232.1 L215.3 232.5 L214.3 232.9 L213.3 233.2 L212.2 233.4 L211.2 233.6 L210.1 233.8 L209.1 234.0 L208.0 234.1 L207.0 234.2 L205.9 234.2 L204.8 234.2 L203.8 234.1Z" fill="url(#g12)" filter="url(#bl10)" style="mix-blend-mode:plus-lighter"/>
<path d="M204.0 231.5 L204.9 231.6 L205.9 231.6 L206.9 231.6 L207.8 231.5 L208.8 231.4 L209.8 231.3 L210.7 231.2 L211.7 231.0 L212.7 230.8 L213.6 230.5 L214.6 230.2 L215.6 229.9 L216.5 229.5 L217.5 229.1 L218.5 228.7 L219.5 228.2 L220.4 227.7 L221.4 227.1 L222.4 226.6 L223.4 226.0 L224.3 225.3 L225.3 224.6 L226.3 223.9 L227.3 223.2 L228.3 222.4 L229.3 221.5 L230.2 220.7 L231.2 219.8 L232.2 218.9 L233.2 217.9 L234.2 216.9 L235.2 215.9 L236.2 214.8 L237.2 213.7 L238.1 212.6 L239.1 211.4 L240.1 210.2 L241.1 208.9 L242.1 207.6 L243.1 206.3 L244.1 205.0 L245.1 203.6 L246.1 202.2 L247.1 200.8 L248.1 199.3 L249.1 197.8 L250.1 196.2 L251.1 194.6 L252.0 193.0 L253.0 191.4 L254.0 189.7 L255.0 188.0 L256.0 186.2 L257.0 184.4 L258.0 182.6 L259.0 180.8 L260.0 178.9 L261.0 177.0 L262.0 175.1 L263.0 173.1 L264.0 171.1 L265.0 169.1 L266.0 167.0 L267.0 164.9 L268.0 162.8 L269.0 160.6 L270.0 158.4 L271.0 156.2 L272.0 153.9 L273.0 151.7 L274.0 149.4 L275.0 147.0 L276.0 144.7 L277.0 142.3 L278.0 139.8 L279.0 137.4 L280.0 134.9 L281.0 132.4 L282.0 129.8 L283.0 127.3 L284.0 124.7 L285.0 122.1 L286.0 119.4 L287.0 116.7 L288.0 114.0 L289.0 111.3 L290.0 108.5 L291.0 105.8 L292.0 102.9 L293.0 100.1 L294.0 97.3 L295.0 94.4 L296.0 91.5 L297.0 88.5 L298.0 85.6 L299.0 82.6 L300.0 79.6 L300.9 76.5 L301.9 73.5 L302.9 70.4 L303.9 67.3 L304.9 64.2 L305.9 61.0 L306.9 57.9 L307.9 54.7 L308.9 51.5 L309.9 48.2 L310.9 45.0 L311.9 41.7 L312.9 38.4 L313.9 35.1 L314.9 31.7 L315.9 28.4 L316.9 25.0 L317.9 21.6 L318.9 18.2 L319.9 14.8 L320.9 11.3 L321.9 7.9 L322.9 4.4 L323.9 0.9 L324.9 -2.6 L325.9 -6.2 L326.9 -9.7 L327.9 -13.3 L328.9 -16.9 L329.9 -20.5 L330.9 -24.1 L331.9 -27.7 L332.9 -31.4 L334.9 -30.8 L333.9 -27.2 L332.9 -23.6 L331.9 -19.9 L330.9 -16.3 L329.9 -12.8 L328.9 -9.2 L327.9 -5.6 L326.9 -2.1 L325.9 1.4 L324.9 4.9 L323.9 8.4 L322.9 11.9 L321.9 15.3 L320.9 18.8 L319.9 22.2 L318.9 25.6 L317.9 29.0 L316.9 32.3 L315.9 35.7 L314.9 39.0 L313.9 42.3 L312.9 45.6 L311.9 48.8 L310.9 52.0 L309.9 55.3 L308.9 58.5 L307.9 61.6 L306.9 64.8 L305.9 67.9 L304.9 71.0 L303.9 74.1 L302.9 77.2 L301.8 80.2 L300.8 83.2 L299.8 86.2 L298.8 89.2 L297.8 92.1 L296.8 95.0 L295.8 97.9 L294.8 100.8 L293.8 103.6 L292.8 106.4 L291.8 109.2 L290.8 112.0 L289.8 114.7 L288.8 117.4 L287.8 120.1 L286.8 122.8 L285.8 125.4 L284.8 128.0 L283.8 130.6 L282.8 133.1 L281.8 135.6 L280.8 138.1 L279.8 140.6 L278.8 143.0 L277.8 145.4 L276.8 147.8 L275.8 150.2 L274.8 152.5 L273.8 154.8 L272.8 157.0 L271.8 159.2 L270.8 161.4 L269.8 163.6 L268.8 165.7 L267.8 167.9 L266.8 169.9 L265.8 172.0 L264.8 174.0 L263.8 176.0 L262.8 177.9 L261.8 179.8 L260.8 181.7 L259.8 183.6 L258.8 185.4 L257.8 187.2 L256.8 189.0 L255.8 190.7 L254.8 192.4 L253.8 194.0 L252.7 195.7 L251.7 197.3 L250.7 198.8 L249.7 200.4 L248.7 201.9 L247.7 203.3 L246.7 204.8 L245.7 206.2 L244.7 207.5 L243.7 208.9 L242.7 210.2 L241.7 211.4 L240.7 212.7 L239.7 213.9 L238.6 215.0 L237.6 216.1 L236.6 217.2 L235.6 218.3 L234.6 219.3 L233.6 220.3 L232.6 221.3 L231.6 222.2 L230.5 223.1 L229.5 223.9 L228.5 224.7 L227.5 225.5 L226.5 226.3 L225.5 227.0 L224.4 227.6 L223.4 228.3 L222.4 228.9 L221.4 229.5 L220.3 230.0 L219.3 230.5 L218.3 230.9 L217.3 231.4 L216.2 231.7 L215.2 232.1 L214.2 232.4 L213.1 232.7 L212.1 232.9 L211.1 233.1 L210.0 233.3 L209.0 233.4 L208.0 233.5 L206.9 233.6 L205.9 233.6 L204.9 233.6 L203.8 233.5Z" fill="url(#g13)" filter="url(#bl10)" style="mix-blend-mode:plus-lighter"/>
<path d="M204.4 301.1 L205.2 301.2 L205.9 301.2 L206.6 301.2 L207.4 301.2 L208.1 301.2 L208.9 301.1 L209.6 301.0 L210.4 300.9 L211.2 300.8 L212.0 300.6 L212.7 300.4 L213.6 300.1 L214.4 299.8 L215.2 299.5 L216.0 299.1 L216.9 298.8 L217.7 298.3 L218.6 297.9 L219.5 297.4 L220.3 296.8 L221.2 296.3 L222.1 295.6 L223.0 295.0 L224.0 294.3 L224.9 293.6 L225.8 292.8 L226.7 292.0 L227.7 291.1 L228.6 290.2 L229.6 289.3 L230.5 288.4 L231.5 287.3 L232.5 286.3 L233.4 285.2 L234.4 284.1 L235.4 282.9 L236.4 281.7 L237.4 280.5 L238.3 279.2 L239.3 277.9 L240.3 276.6 L241.3 275.2 L242.3 273.7 L243.3 272.3 L244.3 270.8 L245.3 269.2 L246.3 267.7 L247.3 266.1 L248.4 264.4 L249.4 262.7 L250.4 261.0 L251.4 259.3 L252.4 257.5 L253.4 255.7 L254.4 253.8 L255.4 251.9 L256.4 250.0 L257.4 248.0 L258.4 246.0 L259.4 244.0 L260.4 241.9 L261.4 239.8 L262.4 237.7 L263.4 235.5 L264.4 233.3 L265.4 231.1 L266.4 228.8 L267.4 226.5 L268.4 224.2 L269.4 221.9 L270.5 219.5 L271.5 217.1 L272.5 214.6 L273.5 212.2 L274.5 209.7 L275.5 207.1 L276.5 204.6 L277.5 202.0 L278.5 199.4 L279.5 196.7 L280.5 194.1 L281.5 191.4 L282.5 188.6 L283.5 185.9 L284.5 183.1 L285.5 180.3 L286.5 177.5 L287.6 174.6 L288.6 171.7 L289.6 168.8 L290.6 165.9 L291.6 162.9 L292.6 160.0 L293.6 157.0 L294.6 153.9 L295.6 150.9 L296.6 147.8 L297.6 144.7 L298.6 141.6 L299.7 138.5 L300.7 135.3 L301.7 132.1 L302.7 128.9 L303.7 125.7 L304.7 122.5 L305.7 119.2 L306.7 115.9 L307.7 112.6 L308.7 109.3 L309.8 106.0 L310.8 102.6 L311.8 99.3 L312.8 95.9 L313.8 92.5 L314.8 89.1 L315.8 85.6 L316.8 82.2 L317.8 78.7 L318.8 75.3 L319.9 71.8 L320.9 68.3 L321.9 64.7 L322.9 61.2 L323.9 57.7 L324.9 54.1 L325.9 50.6 L326.9 47.0 L327.9 43.4 L329.0 39.8 L330.0 36.2 L331.0 32.6 L332.0 29.0 L333.0 25.3 L334.0 21.7 L335.0 18.0 L336.0 14.4 L337.0 10.7 L338.0 7.1 L339.0 3.4 L340.0 -0.3 L341.0 -4.0 L342.0 -7.7 L343.0 -11.4 L344.0 -15.0 L345.0 -18.7 L346.0 -22.4 L347.0 -26.1 L348.0 -29.8 L349.0 -33.5 L356.8 -31.5 L355.8 -27.8 L354.8 -24.1 L353.8 -20.4 L352.8 -16.7 L351.8 -13.0 L350.8 -9.3 L349.8 -5.6 L348.8 -1.9 L347.8 1.8 L346.8 5.5 L345.8 9.2 L344.8 12.8 L343.8 16.5 L342.8 20.2 L341.8 23.8 L340.8 27.5 L339.8 31.1 L338.8 34.7 L337.8 38.4 L336.8 42.0 L335.9 45.6 L334.9 49.2 L333.9 52.8 L332.9 56.4 L331.9 59.9 L330.9 63.5 L329.9 67.0 L328.9 70.6 L327.9 74.1 L327.0 77.6 L326.0 81.1 L325.0 84.5 L324.0 88.0 L323.0 91.5 L322.0 94.9 L321.0 98.3 L320.0 101.7 L319.0 105.1 L318.0 108.5 L317.1 111.8 L316.1 115.2 L315.1 118.5 L314.1 121.8 L313.1 125.0 L312.1 128.3 L311.1 131.5 L310.1 134.8 L309.1 138.0 L308.1 141.2 L307.2 144.3 L306.2 147.5 L305.2 150.6 L304.2 153.7 L303.2 156.7 L302.2 159.8 L301.2 162.8 L300.2 165.8 L299.2 168.8 L298.2 171.8 L297.2 174.7 L296.2 177.6 L295.3 180.5 L294.3 183.4 L293.3 186.2 L292.3 189.0 L291.3 191.8 L290.3 194.6 L289.3 197.3 L288.3 200.0 L287.3 202.7 L286.3 205.4 L285.3 208.0 L284.3 210.6 L283.3 213.2 L282.3 215.7 L281.3 218.2 L280.3 220.7 L279.3 223.2 L278.4 225.6 L277.4 228.0 L276.4 230.4 L275.4 232.7 L274.4 235.0 L273.4 237.3 L272.4 239.6 L271.4 241.8 L270.4 244.0 L269.4 246.1 L268.4 248.3 L267.4 250.4 L266.4 252.4 L265.4 254.5 L264.4 256.5 L263.4 258.5 L262.4 260.4 L261.4 262.3 L260.4 264.2 L259.4 266.1 L258.4 267.9 L257.4 269.7 L256.5 271.5 L255.5 273.2 L254.5 274.9 L253.5 276.6 L252.5 278.2 L251.5 279.8 L250.5 281.4 L249.5 282.9 L248.5 284.4 L247.5 285.9 L246.4 287.3 L245.4 288.7 L244.4 290.1 L243.4 291.4 L242.4 292.7 L241.3 294.0 L240.3 295.2 L239.3 296.4 L238.2 297.6 L237.2 298.7 L236.1 299.8 L235.1 300.8 L234.0 301.9 L232.9 302.9 L231.8 303.8 L230.8 304.8 L229.7 305.6 L228.6 306.5 L227.5 307.3 L226.3 308.1 L225.2 308.8 L224.1 309.6 L222.9 310.2 L221.8 310.9 L220.6 311.4 L219.4 312.0 L218.2 312.5 L217.1 313.0 L215.8 313.4 L214.6 313.8 L213.4 314.1 L212.2 314.4 L210.9 314.7 L209.7 314.9 L208.4 315.0 L207.2 315.1 L205.9 315.2 L204.6 315.2 L203.4 315.1Z" fill="url(#g14)" filter="url(#bl5)" style="mix-blend-mode:plus-lighter"/>
<path d="M204.1 305.5 L205.0 305.6 L205.9 305.6 L206.8 305.6 L207.7 305.6 L208.6 305.5 L209.5 305.4 L210.4 305.2 L211.3 305.1 L212.3 304.9 L213.2 304.6 L214.1 304.3 L215.0 304.0 L216.0 303.7 L216.9 303.3 L217.8 302.8 L218.8 302.4 L219.7 301.9 L220.7 301.3 L221.6 300.8 L222.6 300.1 L223.5 299.5 L224.5 298.8 L225.5 298.1 L226.4 297.3 L227.4 296.5 L228.4 295.7 L229.4 294.8 L230.4 293.9 L231.3 292.9 L232.3 291.9 L233.3 290.9 L234.3 289.8 L235.3 288.7 L236.3 287.6 L237.3 286.4 L238.3 285.2 L239.2 283.9 L240.2 282.7 L241.2 281.3 L242.2 280.0 L243.2 278.6 L244.2 277.1 L245.2 275.7 L246.2 274.2 L247.2 272.6 L248.2 271.0 L249.2 269.4 L250.2 267.8 L251.3 266.1 L252.3 264.4 L253.3 262.6 L254.3 260.9 L255.3 259.0 L256.3 257.2 L257.3 255.3 L258.3 253.4 L259.3 251.4 L260.3 249.4 L261.3 247.4 L262.3 245.4 L263.3 243.3 L264.3 241.2 L265.3 239.0 L266.4 236.8 L267.4 234.6 L268.4 232.4 L269.4 230.1 L270.4 227.8 L271.4 225.5 L272.4 223.1 L273.4 220.7 L274.4 218.3 L275.4 215.8 L276.4 213.4 L277.4 210.8 L278.5 208.3 L279.5 205.7 L280.5 203.1 L281.5 200.5 L282.5 197.9 L283.5 195.2 L284.5 192.5 L285.5 189.7 L286.5 187.0 L287.5 184.2 L288.6 181.4 L289.6 178.5 L290.6 175.7 L291.6 172.8 L292.6 169.9 L293.6 166.9 L294.6 164.0 L295.6 161.0 L296.6 158.0 L297.7 154.9 L298.7 151.9 L299.7 148.8 L300.7 145.7 L301.7 142.6 L302.7 139.4 L303.7 136.3 L304.7 133.1 L305.7 129.9 L306.7 126.6 L307.7 123.4 L308.7 120.1 L309.7 116.8 L310.7 113.5 L311.7 110.2 L312.7 106.9 L313.7 103.5 L314.7 100.1 L315.7 96.8 L316.7 93.4 L317.7 89.9 L318.7 86.5 L319.8 83.0 L320.8 79.6 L321.8 76.1 L322.8 72.6 L323.8 69.1 L324.8 65.6 L325.8 62.0 L326.8 58.5 L327.8 54.9 L328.8 51.4 L329.8 47.8 L330.8 44.2 L331.8 40.6 L332.8 37.0 L333.8 33.4 L334.8 29.7 L335.8 26.1 L336.8 22.5 L337.8 18.8 L338.8 15.2 L339.8 11.5 L340.8 7.8 L341.8 4.1 L342.8 0.5 L343.8 -3.2 L344.8 -6.9 L345.8 -10.6 L346.8 -14.3 L347.8 -18.0 L348.8 -21.7 L349.8 -25.4 L350.8 -29.1 L351.8 -32.8 L354.0 -32.2 L353.0 -28.5 L352.0 -24.8 L351.0 -21.1 L350.0 -17.4 L349.0 -13.7 L348.0 -10.0 L347.0 -6.3 L346.0 -2.6 L345.0 1.0 L344.0 4.7 L343.0 8.4 L342.0 12.1 L341.0 15.7 L340.0 19.4 L339.0 23.0 L338.0 26.7 L337.0 30.3 L336.0 34.0 L335.0 37.6 L334.0 41.2 L333.0 44.8 L332.0 48.4 L331.0 52.0 L330.0 55.6 L329.0 59.1 L328.0 62.7 L327.0 66.2 L326.0 69.7 L325.0 73.2 L324.0 76.7 L323.0 80.2 L322.0 83.7 L321.1 87.2 L320.1 90.6 L319.1 94.0 L318.1 97.4 L317.1 100.8 L316.1 104.2 L315.1 107.6 L314.1 110.9 L313.1 114.3 L312.1 117.6 L311.1 120.9 L310.1 124.1 L309.1 127.4 L308.1 130.6 L307.1 133.8 L306.1 137.0 L305.1 140.2 L304.1 143.4 L303.1 146.5 L302.1 149.6 L301.1 152.7 L300.1 155.7 L299.2 158.8 L298.2 161.8 L297.2 164.8 L296.2 167.8 L295.2 170.7 L294.2 173.7 L293.2 176.6 L292.2 179.5 L291.2 182.3 L290.3 185.1 L289.3 187.9 L288.3 190.7 L287.3 193.5 L286.3 196.2 L285.3 198.9 L284.3 201.6 L283.3 204.2 L282.3 206.8 L281.3 209.4 L280.4 212.0 L279.4 214.5 L278.4 217.0 L277.4 219.5 L276.4 221.9 L275.4 224.4 L274.4 226.8 L273.4 229.1 L272.4 231.4 L271.4 233.7 L270.4 236.0 L269.4 238.2 L268.5 240.5 L267.5 242.6 L266.5 244.8 L265.5 246.9 L264.5 249.0 L263.5 251.0 L262.5 253.0 L261.5 255.0 L260.5 257.0 L259.5 258.9 L258.5 260.8 L257.5 262.6 L256.5 264.5 L255.5 266.3 L254.5 268.0 L253.6 269.7 L252.6 271.4 L251.6 273.1 L250.6 274.7 L249.6 276.3 L248.6 277.9 L247.6 279.4 L246.6 280.9 L245.6 282.3 L244.6 283.7 L243.6 285.1 L242.6 286.5 L241.5 287.8 L240.5 289.1 L239.5 290.3 L238.5 291.5 L237.5 292.7 L236.5 293.8 L235.5 294.9 L234.5 296.0 L233.4 297.0 L232.4 298.0 L231.4 299.0 L230.4 299.9 L229.4 300.8 L228.3 301.7 L227.3 302.5 L226.3 303.3 L225.2 304.0 L224.2 304.7 L223.1 305.4 L222.1 306.0 L221.0 306.6 L220.0 307.2 L218.9 307.7 L217.8 308.2 L216.8 308.6 L215.7 309.0 L214.6 309.4 L213.5 309.7 L212.5 310.0 L211.4 310.2 L210.3 310.4 L209.2 310.6 L208.1 310.7 L207.0 310.8 L205.9 310.8 L204.8 310.8 L203.7 310.7Z" fill="url(#g15)" filter="url(#bl11)" style="mix-blend-mode:plus-lighter"/>
<path d="M204.2 415.8 L205.0 415.9 L205.9 415.9 L206.8 415.9 L207.6 415.8 L208.5 415.8 L209.3 415.6 L210.2 415.5 L211.0 415.3 L211.9 415.1 L212.8 414.9 L213.6 414.6 L214.5 414.3 L215.4 413.9 L216.3 413.6 L217.2 413.2 L218.1 412.7 L219.0 412.2 L219.9 411.7 L220.8 411.1 L221.7 410.6 L222.6 409.9 L223.5 409.3 L224.4 408.6 L225.4 407.8 L226.3 407.0 L227.2 406.2 L228.2 405.4 L229.2 404.5 L230.1 403.6 L231.1 402.6 L232.1 401.7 L233.0 400.6 L234.0 399.6 L235.0 398.5 L236.0 397.3 L236.9 396.1 L237.9 394.9 L238.9 393.7 L239.9 392.4 L240.9 391.1 L241.9 389.7 L242.9 388.3 L243.9 386.9 L244.9 385.4 L245.9 383.9 L246.9 382.3 L247.9 380.7 L248.9 379.1 L249.9 377.5 L250.9 375.8 L251.9 374.0 L252.9 372.3 L253.9 370.5 L254.9 368.7 L255.9 366.8 L256.9 364.9 L257.9 362.9 L258.9 361.0 L259.9 359.0 L260.9 356.9 L262.0 354.9 L263.0 352.7 L264.0 350.6 L265.0 348.4 L266.0 346.2 L267.0 344.0 L268.0 341.7 L269.0 339.4 L270.1 337.0 L271.1 334.7 L272.1 332.3 L273.1 329.8 L274.1 327.3 L275.1 324.8 L276.1 322.3 L277.2 319.7 L278.2 317.1 L279.2 314.5 L280.2 311.8 L281.2 309.1 L282.2 306.4 L283.3 303.7 L284.3 300.9 L285.3 298.1 L286.3 295.2 L287.3 292.3 L288.3 289.4 L289.4 286.5 L290.4 283.5 L291.4 280.5 L292.4 277.5 L293.4 274.5 L294.5 271.4 L295.5 268.3 L296.5 265.1 L297.5 262.0 L298.5 258.8 L299.5 255.6 L300.5 252.3 L301.6 249.1 L302.6 245.8 L303.6 242.4 L304.6 239.1 L305.6 235.7 L306.6 232.3 L307.6 228.9 L308.6 225.4 L309.6 221.9 L310.7 218.4 L311.7 214.9 L312.7 211.3 L313.7 207.8 L314.7 204.2 L315.7 200.5 L316.7 196.9 L317.7 193.2 L318.8 189.5 L319.8 185.8 L320.8 182.1 L321.8 178.3 L322.8 174.5 L323.8 170.7 L324.8 166.9 L325.8 163.1 L326.8 159.2 L327.9 155.3 L328.9 151.4 L329.9 147.5 L330.9 143.5 L331.9 139.6 L332.9 135.6 L333.9 131.6 L334.9 127.5 L336.0 123.5 L337.0 119.4 L338.0 115.4 L339.0 111.3 L340.0 107.2 L341.0 103.0 L342.0 98.9 L343.0 94.7 L344.0 90.6 L345.0 86.4 L346.0 82.2 L347.0 77.9 L348.0 73.7 L349.0 69.5 L350.0 65.2 L351.0 60.9 L352.0 56.6 L353.0 52.3 L354.0 48.0 L355.0 43.7 L356.0 39.4 L357.0 35.0 L358.0 30.6 L359.0 26.3 L360.0 21.9 L360.9 17.5 L361.9 13.1 L362.9 8.7 L363.9 4.3 L364.9 -0.1 L365.9 -4.6 L366.9 -9.0 L367.9 -13.5 L368.9 -17.9 L369.9 -22.4 L370.9 -26.9 L371.9 -31.3 L372.9 -35.8 L376.9 -34.9 L375.9 -30.5 L374.9 -26.0 L373.9 -21.5 L372.9 -17.1 L371.9 -12.6 L370.9 -8.1 L369.9 -3.7 L368.9 0.7 L367.9 5.2 L366.9 9.6 L365.9 14.0 L364.9 18.4 L363.8 22.8 L362.8 27.2 L361.8 31.5 L360.8 35.9 L359.8 40.3 L358.8 44.6 L357.8 48.9 L356.8 53.2 L355.8 57.5 L354.8 61.8 L353.8 66.1 L352.8 70.4 L351.8 74.6 L350.8 78.9 L349.8 83.1 L348.8 87.3 L347.8 91.5 L346.8 95.7 L345.8 99.8 L344.8 104.0 L343.8 108.1 L342.8 112.2 L341.8 116.3 L340.8 120.4 L339.8 124.5 L338.9 128.5 L337.9 132.5 L336.9 136.6 L335.9 140.6 L334.9 144.5 L333.9 148.5 L332.9 152.4 L331.9 156.3 L331.0 160.2 L330.0 164.1 L329.0 168.0 L328.0 171.8 L327.0 175.6 L326.0 179.4 L325.0 183.2 L324.0 186.9 L323.0 190.7 L322.1 194.4 L321.1 198.1 L320.1 201.7 L319.1 205.4 L318.1 209.0 L317.1 212.6 L316.1 216.1 L315.1 219.7 L314.2 223.2 L313.2 226.7 L312.2 230.2 L311.2 233.6 L310.2 237.0 L309.2 240.4 L308.2 243.8 L307.2 247.2 L306.2 250.5 L305.3 253.8 L304.3 257.0 L303.3 260.3 L302.3 263.5 L301.3 266.7 L300.3 269.8 L299.3 273.0 L298.4 276.1 L297.4 279.1 L296.4 282.2 L295.4 285.2 L294.4 288.2 L293.5 291.2 L292.5 294.1 L291.5 297.0 L290.5 299.9 L289.5 302.7 L288.5 305.6 L287.6 308.3 L286.6 311.1 L285.6 313.8 L284.6 316.5 L283.6 319.2 L282.6 321.8 L281.7 324.4 L280.7 327.0 L279.7 329.6 L278.7 332.1 L277.7 334.6 L276.7 337.0 L275.7 339.4 L274.8 341.8 L273.8 344.2 L272.8 346.5 L271.8 348.8 L270.8 351.0 L269.8 353.3 L268.8 355.5 L267.8 357.6 L266.9 359.8 L265.9 361.9 L264.9 363.9 L263.9 366.0 L262.9 367.9 L261.9 369.9 L260.9 371.8 L259.9 373.7 L258.9 375.6 L257.9 377.4 L256.9 379.2 L255.9 381.0 L254.9 382.7 L253.9 384.4 L252.9 386.1 L251.9 387.7 L250.9 389.3 L249.9 390.9 L248.9 392.4 L247.9 393.9 L246.9 395.4 L245.9 396.8 L244.9 398.2 L243.9 399.5 L242.9 400.9 L241.8 402.2 L240.8 403.4 L239.8 404.6 L238.8 405.8 L237.7 407.0 L236.7 408.1 L235.7 409.2 L234.6 410.2 L233.6 411.2 L232.6 412.2 L231.5 413.1 L230.4 414.0 L229.4 414.9 L228.3 415.7 L227.2 416.5 L226.1 417.2 L225.0 417.9 L223.9 418.6 L222.8 419.2 L221.7 419.8 L220.6 420.4 L219.5 420.9 L218.4 421.4 L217.3 421.8 L216.2 422.2 L215.0 422.5 L213.9 422.9 L212.8 423.1 L211.6 423.4 L210.5 423.6 L209.3 423.7 L208.2 423.8 L207.0 423.9 L205.9 423.9 L204.8 423.9 L203.6 423.8Z" fill="url(#g16)" filter="url(#bl3)" style="mix-blend-mode:plus-lighter"/>
<path d="M204.1 486.5 L205.0 486.5 L205.9 486.5 L206.8 486.5 L207.7 486.5 L208.6 486.4 L209.5 486.3 L210.4 486.2 L211.3 486.1 L212.3 485.9 L213.2 485.7 L214.1 485.5 L215.0 485.3 L215.9 485.0 L216.8 484.7 L217.7 484.4 L218.7 484.1 L219.6 483.7 L220.5 483.3 L221.4 482.9 L222.4 482.5 L223.3 482.0 L224.2 481.5 L225.2 481.0 L226.1 480.5 L227.1 479.9 L228.0 479.3 L228.9 478.7 L229.9 478.0 L230.8 477.3 L231.8 476.6 L232.7 475.9 L233.7 475.1 L234.7 474.3 L235.6 473.5 L236.6 472.7 L237.5 471.8 L238.5 470.9 L239.5 470.0 L240.4 469.0 L241.4 468.1 L242.4 467.1 L243.3 466.0 L244.3 465.0 L245.3 463.9 L246.2 462.8 L247.2 461.6 L248.2 460.4 L249.2 459.2 L250.2 458.0 L251.1 456.8 L252.1 455.5 L253.1 454.2 L254.1 452.8 L255.0 451.5 L256.0 450.1 L257.0 448.7 L258.0 447.2 L259.0 445.7 L260.0 444.2 L261.0 442.7 L261.9 441.1 L262.9 439.6 L263.9 438.0 L264.9 436.3 L265.9 434.6 L266.9 433.0 L267.9 431.2 L268.8 429.5 L269.8 427.7 L270.8 425.9 L271.8 424.1 L272.8 422.2 L273.8 420.3 L274.8 418.4 L275.8 416.5 L276.8 414.5 L277.8 412.5 L278.8 410.5 L279.7 408.4 L280.7 406.4 L281.7 404.3 L282.7 402.1 L283.7 400.0 L284.7 397.8 L285.7 395.6 L286.7 393.3 L287.7 391.1 L288.7 388.8 L289.7 386.4 L290.7 384.1 L291.7 381.7 L292.7 379.3 L293.7 376.9 L294.7 374.4 L295.6 371.9 L296.6 369.4 L297.6 366.9 L298.6 364.3 L299.6 361.7 L300.6 359.1 L301.6 356.5 L302.6 353.8 L303.6 351.1 L304.6 348.4 L305.6 345.6 L306.6 342.8 L307.6 340.0 L308.6 337.2 L309.6 334.3 L310.6 331.4 L311.6 328.5 L312.6 325.5 L313.6 322.6 L314.6 319.6 L315.6 316.5 L316.6 313.5 L317.6 310.4 L318.6 307.3 L319.6 304.1 L320.6 301.0 L321.6 297.8 L322.6 294.6 L323.6 291.3 L324.6 288.0 L325.5 284.7 L326.5 281.4 L327.5 278.1 L328.5 274.7 L329.5 271.3 L330.5 267.8 L331.5 264.4 L332.5 260.9 L333.5 257.4 L334.5 253.8 L335.5 250.3 L336.5 246.7 L337.5 243.0 L338.5 239.4 L339.5 235.7 L340.5 232.0 L341.5 228.3 L342.5 224.5 L343.5 220.7 L344.5 216.9 L345.5 213.1 L346.5 209.2 L347.5 205.3 L348.5 201.4 L349.5 197.4 L350.5 193.4 L351.5 189.4 L352.5 185.4 L353.5 181.4 L354.5 177.3 L355.5 173.2 L356.5 169.0 L357.5 164.8 L358.5 160.7 L359.5 156.4 L360.5 152.2 L361.5 147.9 L362.5 143.6 L363.5 139.3 L364.5 134.9 L365.5 130.5 L366.5 126.1 L367.5 121.7 L368.5 117.2 L369.5 112.7 L370.5 108.2 L371.5 103.7 L372.5 99.1 L373.5 94.5 L380.3 96.0 L379.3 100.6 L378.3 105.2 L377.3 109.7 L376.3 114.3 L375.3 118.8 L374.3 123.2 L373.3 127.7 L372.3 132.1 L371.3 136.5 L370.3 140.9 L369.3 145.2 L368.3 149.5 L367.3 153.8 L366.3 158.0 L365.3 162.3 L364.3 166.5 L363.3 170.7 L362.3 174.8 L361.3 178.9 L360.3 183.0 L359.3 187.1 L358.3 191.1 L357.3 195.1 L356.3 199.1 L355.3 203.1 L354.3 207.0 L353.3 210.9 L352.3 214.8 L351.3 218.7 L350.3 222.5 L349.3 226.3 L348.3 230.1 L347.3 233.8 L346.3 237.5 L345.3 241.2 L344.3 244.9 L343.3 248.5 L342.3 252.1 L341.3 255.7 L340.3 259.3 L339.3 262.8 L338.3 266.3 L337.3 269.8 L336.3 273.2 L335.3 276.7 L334.3 280.1 L333.3 283.4 L332.3 286.8 L331.2 290.1 L330.2 293.4 L329.2 296.6 L328.2 299.9 L327.2 303.1 L326.2 306.3 L325.2 309.4 L324.2 312.5 L323.2 315.6 L322.2 318.7 L321.2 321.8 L320.2 324.8 L319.2 327.8 L318.2 330.7 L317.2 333.7 L316.2 336.6 L315.2 339.5 L314.2 342.3 L313.2 345.2 L312.2 348.0 L311.2 350.7 L310.2 353.5 L309.2 356.2 L308.2 358.9 L307.2 361.6 L306.2 364.2 L305.2 366.8 L304.2 369.4 L303.2 372.0 L302.2 374.5 L301.1 377.0 L300.1 379.5 L299.1 382.0 L298.1 384.4 L297.1 386.8 L296.1 389.2 L295.1 391.5 L294.1 393.9 L293.1 396.2 L292.1 398.4 L291.1 400.7 L290.1 402.9 L289.1 405.1 L288.1 407.2 L287.1 409.4 L286.1 411.5 L285.0 413.6 L284.0 415.6 L283.0 417.6 L282.0 419.6 L281.0 421.6 L280.0 423.6 L279.0 425.5 L278.0 427.4 L277.0 429.3 L276.0 431.1 L275.0 432.9 L273.9 434.7 L272.9 436.5 L271.9 438.2 L270.9 439.9 L269.9 441.6 L268.9 443.2 L267.9 444.9 L266.8 446.5 L265.8 448.0 L264.8 449.6 L263.8 451.1 L262.8 452.6 L261.8 454.1 L260.8 455.5 L259.7 456.9 L258.7 458.3 L257.7 459.7 L256.7 461.0 L255.6 462.3 L254.6 463.6 L253.6 464.9 L252.6 466.1 L251.6 467.3 L250.5 468.5 L249.5 469.7 L248.5 470.8 L247.4 471.9 L246.4 472.9 L245.4 474.0 L244.3 475.0 L243.3 476.0 L242.3 477.0 L241.2 477.9 L240.2 478.8 L239.1 479.7 L238.1 480.6 L237.1 481.4 L236.0 482.2 L235.0 483.0 L233.9 483.7 L232.9 484.5 L231.8 485.2 L230.7 485.8 L229.7 486.5 L228.6 487.1 L227.6 487.7 L226.5 488.2 L225.4 488.8 L224.4 489.3 L223.3 489.8 L222.2 490.2 L221.1 490.6 L220.1 491.0 L219.0 491.4 L217.9 491.7 L216.8 492.0 L215.7 492.3 L214.6 492.6 L213.5 492.8 L212.5 493.0 L211.4 493.1 L210.3 493.3 L209.2 493.4 L208.1 493.4 L207.0 493.5 L205.9 493.5 L204.8 493.5 L203.7 493.4Z" fill="url(#g17)" filter="url(#bl5)" style="mix-blend-mode:plus-lighter"/>
</g>
<g clip-path="url(#cpc)">
<rect x="363.8" y="9.0" width="131.59999999999997" height="460.0" fill="rgb(9,9,9)"/>
<rect x="363.8" y="9.0" width="131.59999999999997" height="460.0" fill="url(#bgc)" style="mix-blend-mode:plus-lighter"/>
<path d="M495.0 81.9 L495.2 81.9 L495.4 81.9 L495.6 81.9 L495.8 82.0 L495.9 82.1 L496.1 82.2 L496.2 82.2 L496.3 82.3 L496.4 82.4 L496.5 82.5 L496.6 82.6 L496.6 82.6 L496.6 82.7 L496.6 82.8 L496.5 82.8 L496.4 82.8 L496.3 82.9 L496.1 82.9 L495.9 82.8 L495.7 82.8 L495.5 82.7 L495.2 82.6 L494.9 82.5 L494.5 82.4 L494.2 82.2 L493.8 82.0 L493.3 81.8 L492.9 81.5 L492.4 81.2 L491.9 80.9 L491.4 80.5 L490.8 80.1 L490.2 79.7 L489.6 79.2 L489.0 78.7 L488.4 78.1 L487.7 77.5 L487.0 76.9 L486.3 76.3 L485.6 75.6 L484.9 74.8 L484.2 74.1 L483.4 73.2 L482.7 72.4 L481.9 71.5 L481.1 70.6 L480.3 69.6 L479.5 68.6 L478.6 67.6 L477.8 66.5 L477.0 65.4 L476.1 64.2 L475.2 63.0 L474.4 61.8 L473.5 60.5 L472.6 59.2 L471.7 57.8 L470.8 56.4 L469.9 55.0 L469.0 53.6 L468.1 52.1 L467.2 50.5 L466.2 49.0 L465.3 47.3 L464.4 45.7 L463.4 44.0 L462.5 42.3 L461.5 40.5 L460.6 38.7 L459.6 36.9 L458.6 35.0 L457.7 33.1 L456.7 31.2 L455.7 29.2 L454.7 27.2 L453.8 25.1 L452.8 23.0 L451.8 20.9 L450.8 18.7 L449.8 16.5 L448.8 14.3 L447.8 12.0 L446.8 9.7 L445.8 7.3 L444.8 5.0 L443.8 2.5 L442.8 0.1 L441.8 -2.4 L440.8 -5.0 L439.8 -7.5 L438.8 -10.1 L437.8 -12.8 L436.7 -15.5 L435.7 -18.2 L434.7 -21.0 L433.7 -23.8 L432.7 -26.6 L431.7 -29.5 L430.7 -32.4 L429.8 -35.4 L428.8 -38.4 L427.8 -41.4 L387.8 -28.7 L388.8 -25.6 L389.8 -22.4 L390.8 -19.3 L391.8 -16.3 L392.8 -13.2 L393.8 -10.2 L394.7 -7.3 L395.7 -4.3 L396.7 -1.4 L397.6 1.5 L398.6 4.3 L399.6 7.1 L400.6 9.9 L401.5 12.6 L402.5 15.3 L403.5 18.0 L404.5 20.6 L405.4 23.2 L406.4 25.8 L407.4 28.4 L408.4 30.9 L409.3 33.4 L410.3 35.8 L411.3 38.2 L412.3 40.6 L413.3 42.9 L414.2 45.3 L415.2 47.5 L416.2 49.8 L417.2 52.0 L418.2 54.2 L419.2 56.4 L420.1 58.5 L421.1 60.6 L422.1 62.7 L423.1 64.7 L424.1 66.7 L425.1 68.7 L426.1 70.6 L427.1 72.5 L428.1 74.4 L429.1 76.3 L430.1 78.1 L431.1 79.9 L432.1 81.7 L433.1 83.4 L434.1 85.1 L435.1 86.8 L436.1 88.5 L437.1 90.1 L438.2 91.7 L439.2 93.2 L440.2 94.8 L441.2 96.3 L442.3 97.8 L443.3 99.2 L444.3 100.6 L445.4 102.0 L446.4 103.4 L447.5 104.7 L448.5 106.0 L449.6 107.3 L450.6 108.6 L451.7 109.8 L452.8 111.0 L453.9 112.2 L454.9 113.3 L456.0 114.4 L457.1 115.5 L458.2 116.6 L459.3 117.6 L460.5 118.6 L461.6 119.6 L462.7 120.5 L463.9 121.4 L465.0 122.3 L466.2 123.2 L467.3 124.0 L468.5 124.8 L469.7 125.6 L470.9 126.3 L472.1 127.0 L473.3 127.7 L474.5 128.4 L475.8 129.0 L477.0 129.6 L478.3 130.1 L479.5 130.6 L480.8 131.1 L482.1 131.5 L483.4 131.9 L484.7 132.3 L486.0 132.7 L487.3 133.0 L488.7 133.2 L490.0 133.4 L491.3 133.6 L492.7 133.8 L494.0 133.9 L495.4 133.9 L496.8 133.9 L498.1 133.8Z" fill="rgb(15,15,15)" filter="url(#bl12)" style="mix-blend-mode:plus-lighter"/>
<path d="M496.5 106.9 L496.0 106.9 L495.4 106.9 L494.8 106.9 L494.3 107.0 L493.7 107.0 L493.1 107.0 L492.6 106.9 L492.0 106.9 L491.4 106.8 L490.8 106.7 L490.1 106.6 L489.5 106.5 L488.9 106.4 L488.2 106.2 L487.6 106.0 L486.9 105.8 L486.2 105.6 L485.5 105.3 L484.8 105.0 L484.0 104.7 L483.3 104.3 L482.5 104.0 L481.8 103.6 L481.0 103.1 L480.2 102.7 L479.4 102.2 L478.6 101.6 L477.7 101.1 L476.9 100.5 L476.1 99.9 L475.2 99.2 L474.4 98.5 L473.5 97.8 L472.6 97.0 L471.7 96.3 L470.8 95.4 L469.9 94.6 L469.0 93.7 L468.1 92.8 L467.2 91.8 L466.2 90.8 L465.3 89.8 L464.4 88.8 L463.4 87.7 L462.5 86.5 L461.5 85.4 L460.6 84.2 L459.6 83.0 L458.6 81.7 L457.7 80.4 L456.7 79.1 L455.7 77.7 L454.7 76.3 L453.8 74.9 L452.8 73.5 L451.8 72.0 L450.8 70.4 L449.8 68.9 L448.8 67.3 L447.8 65.6 L446.8 64.0 L445.8 62.3 L444.8 60.5 L443.8 58.8 L442.8 57.0 L441.8 55.1 L440.8 53.3 L439.7 51.3 L438.7 49.4 L437.7 47.4 L436.7 45.4 L435.7 43.4 L434.7 41.3 L433.6 39.2 L432.6 37.1 L431.6 34.9 L430.6 32.7 L429.5 30.4 L428.5 28.1 L427.5 25.8 L426.5 23.5 L425.4 21.1 L424.4 18.6 L423.4 16.2 L422.3 13.7 L421.3 11.2 L420.3 8.6 L419.2 6.0 L418.2 3.4 L417.2 0.7 L416.1 -2.0 L415.1 -4.7 L414.1 -7.5 L413.0 -10.3 L412.0 -13.2 L410.9 -16.0 L409.9 -19.0 L408.9 -21.9 L407.9 -24.9 L406.9 -28.0 L405.9 -31.1 L404.9 -34.2 L386.8 -28.4 L387.8 -25.3 L388.8 -22.1 L389.8 -19.0 L390.9 -16.0 L391.8 -12.9 L392.8 -9.9 L393.7 -6.9 L394.7 -4.0 L395.6 -1.0 L396.6 1.8 L397.6 4.7 L398.5 7.5 L399.5 10.3 L400.4 13.0 L401.4 15.8 L402.3 18.4 L403.3 21.1 L404.2 23.7 L405.2 26.3 L406.2 28.9 L407.1 31.4 L408.1 33.9 L409.0 36.3 L410.0 38.8 L411.0 41.2 L411.9 43.5 L412.9 45.9 L413.9 48.2 L414.8 50.4 L415.8 52.7 L416.8 54.9 L417.7 57.1 L418.7 59.2 L419.7 61.3 L420.7 63.4 L421.6 65.5 L422.6 67.5 L423.6 69.5 L424.6 71.5 L425.6 73.4 L426.5 75.3 L427.5 77.2 L428.5 79.0 L429.5 80.8 L430.5 82.6 L431.5 84.4 L432.5 86.1 L433.5 87.8 L434.5 89.5 L435.5 91.2 L436.5 92.8 L437.5 94.4 L438.6 95.9 L439.6 97.5 L440.6 99.0 L441.6 100.5 L442.7 101.9 L443.7 103.3 L444.8 104.7 L445.8 106.1 L446.9 107.5 L447.9 108.8 L449.0 110.1 L450.1 111.3 L451.1 112.6 L452.2 113.8 L453.3 115.0 L454.4 116.1 L455.5 117.2 L456.7 118.3 L457.8 119.4 L458.9 120.5 L460.1 121.5 L461.2 122.5 L462.4 123.4 L463.6 124.4 L464.7 125.3 L465.9 126.1 L467.2 127.0 L468.4 127.8 L469.6 128.6 L470.9 129.4 L472.1 130.1 L473.4 130.8 L474.7 131.4 L476.0 132.1 L477.3 132.7 L478.6 133.2 L480.0 133.7 L481.3 134.2 L482.7 134.7 L484.1 135.1 L485.4 135.5 L486.8 135.8 L488.2 136.1 L489.7 136.3 L491.1 136.5 L492.5 136.7 L494.0 136.8 L495.4 136.9 L496.8 136.9 L498.3 136.8Z" fill="rgb(31,31,31)" filter="url(#bl13)" style="mix-blend-mode:plus-lighter"/>
<path d="M497.0 114.4 L496.2 114.4 L495.4 114.4 L494.6 114.4 L493.8 114.4 L493.1 114.4 L492.3 114.3 L491.5 114.2 L490.7 114.1 L489.9 114.0 L489.1 113.8 L488.3 113.7 L487.5 113.5 L486.6 113.2 L485.8 113.0 L485.0 112.7 L484.1 112.4 L483.3 112.1 L482.4 111.7 L481.6 111.3 L480.7 110.9 L479.8 110.4 L479.0 110.0 L478.1 109.5 L477.2 108.9 L476.3 108.4 L475.4 107.8 L474.5 107.1 L473.6 106.5 L472.7 105.8 L471.7 105.1 L470.8 104.3 L469.9 103.5 L468.9 102.7 L468.0 101.9 L467.1 101.0 L466.1 100.1 L465.2 99.1 L464.2 98.2 L463.2 97.2 L462.3 96.1 L461.3 95.1 L460.4 94.0 L459.4 92.8 L458.4 91.7 L457.4 90.5 L456.5 89.2 L455.5 88.0 L454.5 86.7 L453.5 85.3 L452.5 84.0 L451.5 82.6 L450.6 81.2 L449.6 79.7 L448.6 78.2 L447.6 76.7 L446.6 75.1 L445.6 73.6 L444.6 71.9 L443.6 70.3 L442.6 68.6 L441.6 66.9 L440.6 65.1 L439.6 63.3 L438.6 61.5 L437.6 59.7 L436.6 57.8 L435.6 55.9 L434.6 53.9 L433.6 51.9 L432.6 49.9 L431.5 47.9 L430.5 45.8 L429.5 43.7 L428.5 41.5 L427.5 39.3 L426.5 37.1 L425.5 34.9 L424.5 32.6 L423.5 30.3 L422.4 27.9 L421.4 25.5 L420.4 23.1 L419.4 20.6 L418.4 18.2 L417.4 15.6 L416.3 13.1 L415.3 10.5 L414.3 7.8 L413.3 5.2 L412.3 2.5 L411.3 -0.2 L410.2 -3.0 L409.2 -5.8 L408.2 -8.7 L407.2 -11.5 L406.2 -14.4 L405.2 -17.4 L404.1 -20.4 L403.2 -23.4 L402.2 -26.4 L401.2 -29.5 L400.2 -32.7 L390.6 -29.7 L391.6 -26.5 L392.6 -23.4 L393.6 -20.3 L394.7 -17.2 L395.6 -14.2 L396.6 -11.2 L397.6 -8.2 L398.6 -5.3 L399.6 -2.4 L400.6 0.4 L401.5 3.3 L402.5 6.0 L403.5 8.8 L404.5 11.5 L405.5 14.2 L406.5 16.9 L407.4 19.5 L408.4 22.1 L409.4 24.6 L410.4 27.1 L411.4 29.6 L412.4 32.1 L413.3 34.5 L414.3 36.9 L415.3 39.3 L416.3 41.6 L417.3 43.9 L418.3 46.2 L419.3 48.4 L420.3 50.6 L421.3 52.7 L422.2 54.9 L423.2 57.0 L424.2 59.1 L425.2 61.1 L426.2 63.1 L427.2 65.1 L428.2 67.0 L429.2 68.9 L430.2 70.8 L431.2 72.7 L432.2 74.5 L433.2 76.3 L434.2 78.1 L435.2 79.8 L436.2 81.5 L437.2 83.2 L438.2 84.8 L439.2 86.4 L440.2 88.0 L441.3 89.6 L442.3 91.1 L443.3 92.6 L444.3 94.1 L445.3 95.5 L446.3 96.9 L447.4 98.3 L448.4 99.6 L449.4 100.9 L450.4 102.2 L451.5 103.5 L452.5 104.7 L453.6 105.9 L454.6 107.1 L455.6 108.3 L456.7 109.4 L457.7 110.5 L458.8 111.5 L459.9 112.6 L460.9 113.6 L462.0 114.5 L463.1 115.5 L464.1 116.4 L465.2 117.3 L466.3 118.1 L467.4 119.0 L468.5 119.8 L469.6 120.5 L470.7 121.3 L471.8 122.0 L473.0 122.7 L474.1 123.3 L475.2 123.9 L476.4 124.5 L477.5 125.1 L478.7 125.6 L479.8 126.1 L481.0 126.5 L482.2 127.0 L483.3 127.4 L484.5 127.7 L485.7 128.1 L486.9 128.3 L488.1 128.6 L489.3 128.8 L490.5 129.0 L491.7 129.2 L493.0 129.3 L494.2 129.4 L495.4 129.4 L496.6 129.4 L497.8 129.3Z" fill="rgb(61,61,61)" filter="url(#bl14)" style="mix-blend-mode:plus-lighter"/>
<path d="M497.1 117.2 L496.3 117.3 L495.4 117.3 L494.5 117.3 L493.7 117.3 L492.8 117.2 L491.9 117.2 L491.1 117.1 L490.2 116.9 L489.3 116.8 L488.4 116.6 L487.5 116.4 L486.7 116.2 L485.8 115.9 L484.9 115.6 L484.0 115.3 L483.1 115.0 L482.2 114.6 L481.2 114.2 L480.3 113.8 L479.4 113.3 L478.5 112.9 L477.6 112.3 L476.6 111.8 L475.7 111.2 L474.8 110.6 L473.8 110.0 L472.9 109.3 L471.9 108.6 L471.0 107.9 L470.0 107.1 L469.1 106.4 L468.1 105.5 L467.1 104.7 L466.2 103.8 L465.2 102.9 L464.2 101.9 L463.2 101.0 L462.3 100.0 L461.3 98.9 L460.3 97.9 L459.3 96.8 L458.4 95.6 L457.4 94.5 L456.4 93.3 L455.4 92.0 L454.4 90.8 L453.4 89.5 L452.4 88.2 L451.4 86.8 L450.4 85.4 L449.4 84.0 L448.4 82.6 L447.5 81.1 L446.5 79.6 L445.5 78.0 L444.5 76.5 L443.5 74.8 L442.5 73.2 L441.5 71.5 L440.4 69.8 L439.4 68.1 L438.4 66.3 L437.4 64.5 L436.4 62.7 L435.4 60.8 L434.4 58.9 L433.4 57.0 L432.4 55.0 L431.4 53.0 L430.4 51.0 L429.4 48.9 L428.4 46.8 L427.4 44.7 L426.4 42.5 L425.3 40.3 L424.3 38.1 L423.3 35.8 L422.3 33.5 L421.3 31.2 L420.3 28.8 L419.3 26.4 L418.3 24.0 L417.3 21.5 L416.2 19.0 L415.2 16.5 L414.2 13.9 L413.2 11.3 L412.2 8.6 L411.2 6.0 L410.2 3.3 L409.1 0.5 L408.1 -2.3 L407.1 -5.1 L406.1 -7.9 L405.1 -10.8 L404.1 -13.7 L403.1 -16.7 L402.1 -19.7 L401.1 -22.7 L400.1 -25.8 L399.1 -28.9 L398.1 -32.0 L392.7 -30.3 L393.7 -27.2 L394.7 -24.0 L395.7 -21.0 L396.7 -17.9 L397.7 -14.9 L398.7 -11.9 L399.7 -9.0 L400.7 -6.0 L401.7 -3.2 L402.7 -0.3 L403.7 2.5 L404.6 5.3 L405.6 8.0 L406.6 10.7 L407.6 13.4 L408.6 16.0 L409.6 18.7 L410.6 21.2 L411.5 23.8 L412.5 26.3 L413.5 28.8 L414.5 31.2 L415.5 33.6 L416.5 36.0 L417.5 38.3 L418.5 40.6 L419.5 42.9 L420.4 45.2 L421.4 47.4 L422.4 49.6 L423.4 51.7 L424.4 53.8 L425.4 55.9 L426.4 58.0 L427.4 60.0 L428.4 62.0 L429.4 64.0 L430.4 65.9 L431.4 67.8 L432.4 69.7 L433.4 71.5 L434.4 73.3 L435.3 75.1 L436.3 76.8 L437.3 78.5 L438.3 80.2 L439.3 81.9 L440.3 83.5 L441.3 85.1 L442.4 86.6 L443.4 88.2 L444.4 89.6 L445.4 91.1 L446.4 92.6 L447.4 94.0 L448.4 95.3 L449.4 96.7 L450.4 98.0 L451.4 99.3 L452.4 100.6 L453.5 101.8 L454.5 103.0 L455.5 104.2 L456.5 105.3 L457.6 106.4 L458.6 107.5 L459.6 108.6 L460.6 109.6 L461.7 110.6 L462.7 111.6 L463.7 112.5 L464.8 113.4 L465.8 114.3 L466.9 115.1 L467.9 116.0 L469.0 116.7 L470.0 117.5 L471.1 118.2 L472.2 118.9 L473.2 119.6 L474.3 120.3 L475.4 120.9 L476.5 121.4 L477.6 122.0 L478.6 122.5 L479.7 123.0 L480.8 123.5 L481.9 123.9 L483.0 124.3 L484.1 124.7 L485.3 125.0 L486.4 125.3 L487.5 125.6 L488.6 125.8 L489.7 126.0 L490.9 126.2 L492.0 126.3 L493.1 126.4 L494.3 126.5 L495.4 126.5 L496.5 126.5 L497.7 126.4Z" fill="rgb(33,33,33)" filter="url(#bl10)" style="mix-blend-mode:plus-lighter"/>
<path d="M497.3 119.5 L496.3 119.6 L495.4 119.6 L494.5 119.6 L493.5 119.6 L492.6 119.5 L491.7 119.5 L490.7 119.3 L489.8 119.2 L488.8 119.1 L487.9 118.9 L486.9 118.6 L486.0 118.4 L485.0 118.1 L484.1 117.8 L483.1 117.5 L482.2 117.1 L481.2 116.7 L480.3 116.3 L479.3 115.9 L478.3 115.4 L477.3 114.9 L476.4 114.3 L475.4 113.8 L474.4 113.2 L473.4 112.5 L472.5 111.9 L471.5 111.2 L470.5 110.5 L469.5 109.7 L468.5 108.9 L467.5 108.1 L466.5 107.3 L465.5 106.4 L464.6 105.5 L463.6 104.6 L462.6 103.6 L461.6 102.6 L460.6 101.6 L459.6 100.5 L458.6 99.4 L457.6 98.3 L456.6 97.1 L455.6 95.9 L454.5 94.7 L453.5 93.5 L452.5 92.2 L451.5 90.9 L450.5 89.6 L449.5 88.2 L448.5 86.8 L447.5 85.3 L446.5 83.9 L445.5 82.4 L444.5 80.8 L443.5 79.3 L442.4 77.7 L441.4 76.1 L440.4 74.4 L439.4 72.7 L438.4 71.0 L437.4 69.2 L436.4 67.4 L435.4 65.6 L434.4 63.7 L433.4 61.9 L432.4 59.9 L431.4 58.0 L430.4 56.0 L429.4 54.0 L428.4 51.9 L427.4 49.9 L426.4 47.7 L425.3 45.6 L424.3 43.4 L423.3 41.2 L422.3 38.9 L421.3 36.7 L420.3 34.4 L419.3 32.0 L418.3 29.6 L417.3 27.2 L416.3 24.8 L415.3 22.3 L414.3 19.8 L413.3 17.2 L412.3 14.6 L411.2 12.0 L410.2 9.4 L409.2 6.7 L408.2 4.0 L407.2 1.2 L406.2 -1.6 L405.2 -4.4 L404.2 -7.3 L403.2 -10.1 L402.2 -13.1 L401.2 -16.0 L400.2 -19.0 L399.2 -22.1 L398.2 -25.1 L397.2 -28.3 L396.2 -31.4 L394.6 -30.9 L395.6 -27.8 L396.6 -24.7 L397.6 -21.6 L398.6 -18.5 L399.6 -15.5 L400.6 -12.6 L401.6 -9.6 L402.6 -6.7 L403.6 -3.8 L404.6 -1.0 L405.6 1.8 L406.6 4.6 L407.6 7.3 L408.6 10.0 L409.6 12.7 L410.5 15.3 L411.5 17.9 L412.5 20.5 L413.5 23.0 L414.5 25.5 L415.5 27.9 L416.5 30.4 L417.5 32.8 L418.5 35.1 L419.5 37.5 L420.5 39.8 L421.5 42.0 L422.5 44.3 L423.5 46.5 L424.4 48.6 L425.4 50.8 L426.4 52.9 L427.4 54.9 L428.4 57.0 L429.4 59.0 L430.4 61.0 L431.4 62.9 L432.4 64.8 L433.4 66.7 L434.4 68.5 L435.4 70.4 L436.4 72.1 L437.4 73.9 L438.4 75.6 L439.4 77.3 L440.4 79.0 L441.3 80.6 L442.3 82.2 L443.3 83.8 L444.3 85.3 L445.3 86.8 L446.3 88.3 L447.3 89.8 L448.3 91.2 L449.3 92.6 L450.3 93.9 L451.3 95.3 L452.3 96.6 L453.2 97.8 L454.2 99.1 L455.2 100.3 L456.2 101.5 L457.2 102.6 L458.2 103.7 L459.2 104.8 L460.2 105.9 L461.2 106.9 L462.2 107.9 L463.3 108.9 L464.3 109.8 L465.3 110.7 L466.3 111.6 L467.3 112.5 L468.3 113.3 L469.3 114.1 L470.3 114.9 L471.4 115.6 L472.4 116.3 L473.4 117.0 L474.4 117.6 L475.5 118.2 L476.5 118.8 L477.5 119.4 L478.5 119.9 L479.6 120.4 L480.6 120.9 L481.7 121.3 L482.7 121.7 L483.8 122.1 L484.8 122.4 L485.9 122.8 L486.9 123.0 L488.0 123.3 L489.0 123.5 L490.1 123.7 L491.1 123.9 L492.2 124.0 L493.3 124.1 L494.3 124.2 L495.4 124.2 L496.5 124.2 L497.5 124.1Z" fill="url(#g22)" filter="url(#bl9)" style="mix-blend-mode:plus-lighter"/>
<path d="M497.0 243.9 L496.2 244.0 L495.4 244.0 L494.6 244.0 L493.8 244.0 L493.0 243.9 L492.2 243.9 L491.3 243.8 L490.5 243.7 L489.7 243.5 L488.9 243.3 L488.0 243.1 L487.2 242.9 L486.3 242.6 L485.5 242.3 L484.6 242.0 L483.7 241.7 L482.9 241.3 L482.0 240.9 L481.1 240.4 L480.2 240.0 L479.3 239.5 L478.4 238.9 L477.5 238.3 L476.6 237.7 L475.6 237.1 L474.7 236.4 L473.8 235.7 L472.9 235.0 L471.9 234.2 L471.0 233.4 L470.0 232.6 L469.1 231.7 L468.1 230.8 L467.2 229.9 L466.2 228.9 L465.2 227.9 L464.3 226.8 L463.3 225.8 L462.3 224.7 L461.3 223.5 L460.4 222.3 L459.4 221.1 L458.4 219.9 L457.4 218.6 L456.4 217.3 L455.4 216.0 L454.5 214.6 L453.5 213.2 L452.5 211.7 L451.5 210.2 L450.5 208.7 L449.5 207.2 L448.5 205.6 L447.5 204.0 L446.5 202.3 L445.5 200.7 L444.5 198.9 L443.5 197.2 L442.5 195.4 L441.5 193.6 L440.5 191.7 L439.5 189.9 L438.5 187.9 L437.4 186.0 L436.4 184.0 L435.4 182.0 L434.4 179.9 L433.4 177.9 L432.4 175.7 L431.4 173.6 L430.4 171.4 L429.4 169.2 L428.3 166.9 L427.3 164.7 L426.3 162.3 L425.3 160.0 L424.3 157.6 L423.3 155.2 L422.3 152.7 L421.2 150.2 L420.2 147.7 L419.2 145.2 L418.2 142.6 L417.2 140.0 L416.2 137.3 L415.1 134.6 L414.1 131.9 L413.1 129.2 L412.1 126.4 L411.1 123.6 L410.1 120.7 L409.0 117.8 L408.0 114.9 L407.0 111.9 L406.0 109.0 L405.0 105.9 L403.9 102.9 L402.9 99.8 L401.9 96.7 L400.9 93.5 L399.9 90.3 L398.9 87.1 L397.8 83.9 L396.8 80.6 L395.8 77.3 L394.8 73.9 L393.7 70.5 L392.7 67.1 L391.7 63.6 L390.7 60.1 L389.7 56.6 L388.6 53.1 L387.6 49.5 L386.6 45.8 L385.6 42.2 L384.6 38.5 L383.5 34.8 L382.5 31.0 L381.5 27.2 L380.5 23.4 L379.5 19.5 L378.4 15.6 L377.4 11.7 L376.4 7.7 L375.4 3.7 L374.3 -0.3 L373.3 -4.4 L372.3 -8.5 L371.3 -12.6 L370.3 -16.8 L369.3 -21.0 L368.3 -25.2 L367.3 -29.5 L366.3 -33.8 L360.5 -32.5 L361.5 -28.2 L362.5 -23.9 L363.5 -19.6 L364.5 -15.4 L365.5 -11.2 L366.5 -7.1 L367.5 -2.9 L368.5 1.1 L369.4 5.2 L370.4 9.2 L371.4 13.2 L372.4 17.2 L373.3 21.1 L374.3 25.0 L375.3 28.8 L376.3 32.6 L377.3 36.4 L378.2 40.2 L379.2 43.9 L380.2 47.6 L381.2 51.2 L382.2 54.9 L383.1 58.4 L384.1 62.0 L385.1 65.5 L386.1 69.0 L387.1 72.5 L388.0 75.9 L389.0 79.3 L390.0 82.6 L391.0 85.9 L391.9 89.2 L392.9 92.5 L393.9 95.7 L394.9 98.9 L395.9 102.1 L396.9 105.2 L397.8 108.3 L398.8 111.3 L399.8 114.4 L400.8 117.3 L401.8 120.3 L402.7 123.2 L403.7 126.1 L404.7 129.0 L405.7 131.8 L406.7 134.6 L407.7 137.4 L408.6 140.1 L409.6 142.8 L410.6 145.5 L411.6 148.1 L412.6 150.7 L413.6 153.3 L414.5 155.8 L415.5 158.3 L416.5 160.8 L417.5 163.2 L418.5 165.7 L419.5 168.0 L420.5 170.4 L421.4 172.7 L422.4 175.0 L423.4 177.2 L424.4 179.4 L425.4 181.6 L426.4 183.8 L427.4 185.9 L428.4 188.0 L429.4 190.0 L430.3 192.1 L431.3 194.0 L432.3 196.0 L433.3 197.9 L434.3 199.8 L435.3 201.7 L436.3 203.5 L437.3 205.3 L438.3 207.1 L439.3 208.9 L440.3 210.6 L441.3 212.2 L442.3 213.9 L443.3 215.5 L444.3 217.1 L445.3 218.7 L446.3 220.2 L447.4 221.7 L448.4 223.1 L449.4 224.6 L450.4 226.0 L451.4 227.3 L452.4 228.7 L453.5 230.0 L454.5 231.2 L455.5 232.5 L456.5 233.7 L457.6 234.9 L458.6 236.0 L459.6 237.2 L460.7 238.3 L461.7 239.3 L462.8 240.3 L463.8 241.3 L464.9 242.3 L465.9 243.2 L467.0 244.2 L468.1 245.0 L469.2 245.9 L470.2 246.7 L471.3 247.5 L472.4 248.2 L473.5 248.9 L474.6 249.6 L475.7 250.3 L476.8 250.9 L477.9 251.5 L479.1 252.0 L480.2 252.5 L481.3 253.0 L482.5 253.5 L483.6 253.9 L484.8 254.3 L485.9 254.6 L487.1 254.9 L488.3 255.2 L489.5 255.4 L490.6 255.6 L491.8 255.8 L493.0 255.9 L494.2 256.0 L495.4 256.0 L496.6 256.0 L497.8 255.9Z" fill="rgb(20,20,20)" filter="url(#bl5)" style="mix-blend-mode:plus-lighter"/>
<path d="M497.2 247.5 L496.3 247.6 L495.4 247.6 L494.5 247.6 L493.6 247.6 L492.6 247.5 L491.7 247.4 L490.8 247.3 L489.8 247.1 L488.9 247.0 L488.0 246.7 L487.0 246.5 L486.1 246.2 L485.2 245.9 L484.2 245.6 L483.3 245.2 L482.3 244.8 L481.4 244.4 L480.4 243.9 L479.4 243.4 L478.5 242.9 L477.5 242.4 L476.6 241.8 L475.6 241.2 L474.6 240.5 L473.6 239.8 L472.7 239.1 L471.7 238.3 L470.7 237.6 L469.7 236.7 L468.8 235.9 L467.8 235.0 L466.8 234.1 L465.8 233.1 L464.8 232.1 L463.8 231.1 L462.8 230.1 L461.8 229.0 L460.8 227.9 L459.9 226.7 L458.9 225.6 L457.9 224.3 L456.9 223.1 L455.9 221.8 L454.9 220.5 L453.9 219.2 L452.9 217.8 L451.9 216.4 L450.9 214.9 L449.9 213.4 L448.9 211.9 L447.9 210.4 L446.9 208.8 L445.9 207.2 L444.8 205.6 L443.8 203.9 L442.8 202.2 L441.8 200.4 L440.8 198.7 L439.8 196.9 L438.8 195.0 L437.8 193.1 L436.8 191.2 L435.8 189.3 L434.8 187.3 L433.8 185.3 L432.8 183.3 L431.8 181.2 L430.8 179.1 L429.8 177.0 L428.7 174.8 L427.7 172.6 L426.7 170.3 L425.7 168.1 L424.7 165.8 L423.7 163.4 L422.7 161.1 L421.7 158.7 L420.7 156.2 L419.7 153.7 L418.7 151.2 L417.7 148.7 L416.7 146.1 L415.7 143.5 L414.7 140.9 L413.7 138.2 L412.7 135.5 L411.7 132.8 L410.7 130.0 L409.7 127.2 L408.7 124.4 L407.7 121.5 L406.7 118.6 L405.7 115.7 L404.7 112.7 L403.6 109.7 L402.6 106.7 L401.6 103.6 L400.6 100.5 L399.6 97.4 L398.6 94.2 L397.6 91.0 L396.6 87.8 L395.6 84.5 L394.6 81.2 L393.6 77.9 L392.6 74.5 L391.6 71.1 L390.6 67.7 L389.6 64.2 L388.6 60.7 L387.6 57.2 L386.6 53.6 L385.6 50.0 L384.5 46.4 L383.5 42.7 L382.5 39.0 L381.5 35.3 L380.5 31.5 L379.5 27.7 L378.5 23.9 L377.5 20.0 L376.5 16.1 L375.5 12.2 L374.5 8.2 L373.5 4.2 L372.5 0.2 L371.5 -3.9 L370.5 -8.0 L369.5 -12.2 L368.5 -16.3 L367.5 -20.6 L366.5 -24.8 L365.5 -29.1 L364.5 -33.4 L362.3 -32.9 L363.3 -28.6 L364.3 -24.3 L365.3 -20.1 L366.3 -15.8 L367.3 -11.7 L368.3 -7.5 L369.3 -3.4 L370.3 0.7 L371.3 4.7 L372.3 8.7 L373.3 12.7 L374.3 16.7 L375.3 20.6 L376.3 24.5 L377.3 28.3 L378.3 32.1 L379.3 35.9 L380.3 39.6 L381.3 43.4 L382.3 47.0 L383.2 50.7 L384.2 54.3 L385.2 57.9 L386.2 61.4 L387.2 64.9 L388.2 68.4 L389.2 71.8 L390.2 75.2 L391.2 78.6 L392.2 82.0 L393.2 85.3 L394.2 88.5 L395.2 91.8 L396.2 95.0 L397.2 98.2 L398.2 101.3 L399.2 104.4 L400.2 107.5 L401.2 110.6 L402.1 113.6 L403.1 116.5 L404.1 119.5 L405.1 122.4 L406.1 125.3 L407.1 128.1 L408.1 131.0 L409.1 133.7 L410.1 136.5 L411.1 139.2 L412.1 141.9 L413.1 144.5 L414.1 147.1 L415.1 149.7 L416.1 152.3 L417.1 154.8 L418.1 157.3 L419.1 159.7 L420.1 162.2 L421.1 164.6 L422.1 166.9 L423.1 169.2 L424.1 171.5 L425.1 173.8 L426.1 176.0 L427.0 178.2 L428.0 180.4 L429.0 182.5 L430.0 184.6 L431.0 186.7 L432.0 188.7 L433.0 190.7 L434.0 192.7 L435.0 194.6 L436.0 196.5 L437.0 198.4 L438.0 200.2 L439.0 202.0 L440.0 203.8 L441.0 205.6 L442.0 207.3 L442.9 209.0 L443.9 210.6 L444.9 212.2 L445.9 213.8 L446.9 215.4 L447.9 216.9 L448.9 218.4 L449.9 219.8 L450.9 221.3 L451.9 222.7 L452.9 224.0 L453.9 225.4 L454.9 226.7 L455.9 227.9 L456.9 229.2 L458.0 230.4 L459.0 231.5 L460.0 232.7 L461.0 233.8 L462.0 234.9 L463.0 235.9 L464.0 236.9 L465.0 237.9 L466.0 238.9 L467.1 239.8 L468.1 240.7 L469.1 241.5 L470.1 242.4 L471.2 243.2 L472.2 243.9 L473.2 244.7 L474.2 245.4 L475.3 246.0 L476.3 246.7 L477.4 247.3 L478.4 247.8 L479.4 248.4 L480.5 248.9 L481.5 249.3 L482.6 249.8 L483.6 250.2 L484.7 250.5 L485.8 250.9 L486.8 251.2 L487.9 251.5 L489.0 251.7 L490.0 251.9 L491.1 252.1 L492.2 252.2 L493.2 252.3 L494.3 252.4 L495.4 252.4 L496.5 252.4 L497.6 252.3Z" fill="url(#g24)" filter="url(#bl10)" style="mix-blend-mode:plus-lighter"/>
<path d="M496.6 328.9 L496.0 328.9 L495.4 328.9 L494.8 329.0 L494.2 329.0 L493.6 329.1 L493.0 329.1 L492.4 329.2 L491.8 329.2 L491.1 329.2 L490.5 329.1 L489.8 329.1 L489.1 329.0 L488.4 328.9 L487.7 328.7 L487.0 328.6 L486.3 328.4 L485.5 328.2 L484.8 327.9 L484.0 327.7 L483.2 327.4 L482.4 327.0 L481.6 326.7 L480.7 326.3 L479.9 325.9 L479.0 325.4 L478.1 324.9 L477.3 324.4 L476.4 323.9 L475.5 323.3 L474.5 322.6 L473.6 322.0 L472.7 321.3 L471.8 320.6 L470.8 319.8 L469.8 319.0 L468.9 318.2 L467.9 317.3 L466.9 316.4 L466.0 315.5 L465.0 314.5 L464.0 313.5 L463.0 312.5 L462.0 311.4 L460.9 310.3 L459.9 309.1 L458.9 308.0 L457.9 306.7 L456.9 305.5 L455.8 304.2 L454.8 302.9 L453.7 301.5 L452.7 300.1 L451.7 298.7 L450.6 297.2 L449.6 295.7 L448.5 294.2 L447.5 292.6 L446.4 291.0 L445.3 289.4 L444.3 287.7 L443.2 286.0 L442.1 284.2 L441.1 282.4 L440.0 280.6 L438.9 278.8 L437.9 276.9 L436.8 274.9 L435.7 273.0 L434.6 271.0 L433.6 268.9 L432.5 266.9 L431.4 264.7 L430.3 262.6 L429.2 260.4 L428.1 258.2 L427.1 255.9 L426.0 253.6 L424.9 251.3 L423.9 248.9 L422.8 246.5 L421.8 244.0 L420.8 241.5 L419.7 239.0 L418.7 236.4 L417.6 233.8 L416.6 231.2 L415.6 228.5 L414.5 225.8 L413.5 223.0 L412.4 220.2 L411.4 217.4 L410.3 214.5 L409.3 211.6 L408.2 208.7 L407.2 205.7 L406.2 202.6 L405.1 199.6 L404.1 196.5 L403.0 193.3 L402.0 190.1 L400.9 186.9 L399.9 183.7 L398.8 180.4 L397.8 177.0 L396.7 173.6 L395.7 170.2 L394.6 166.8 L393.6 163.3 L392.5 159.7 L391.5 156.1 L390.5 152.5 L389.4 148.8 L388.4 145.1 L387.3 141.4 L386.3 137.6 L385.2 133.7 L384.2 129.9 L383.1 125.9 L382.1 122.0 L381.0 118.0 L380.0 113.9 L378.9 109.8 L377.9 105.7 L376.8 101.5 L375.8 97.3 L374.7 93.0 L373.7 88.7 L372.6 84.3 L371.6 79.9 L370.5 75.5 L369.5 71.0 L368.4 66.4 L367.4 61.9 L366.3 57.2 L365.3 52.5 L364.3 47.8 L363.3 43.0 L362.3 38.2 L361.3 33.3 L360.3 28.4 L359.3 23.4 L358.3 18.4 L357.3 13.3 L356.3 8.2 L355.3 3.0 L354.3 -2.2 L353.3 -7.5 L352.3 -12.8 L351.3 -18.1 L350.4 -23.5 L349.4 -29.0 L348.4 -34.5 L342.4 -33.5 L343.4 -27.9 L344.4 -22.5 L345.5 -17.0 L346.5 -11.7 L347.5 -6.3 L348.5 -1.1 L349.5 4.2 L350.5 9.3 L351.5 14.5 L352.5 19.5 L353.5 24.6 L354.5 29.6 L355.5 34.5 L356.5 39.4 L357.5 44.2 L358.5 49.0 L359.5 53.8 L360.5 58.5 L361.4 63.1 L362.4 67.8 L363.3 72.3 L364.3 76.9 L365.2 81.3 L366.2 85.8 L367.1 90.2 L368.1 94.5 L369.0 98.8 L370.0 103.1 L370.9 107.3 L371.9 111.5 L372.8 115.7 L373.8 119.7 L374.7 123.8 L375.7 127.8 L376.6 131.8 L377.6 135.7 L378.5 139.6 L379.5 143.4 L380.4 147.2 L381.4 151.0 L382.3 154.7 L383.3 158.4 L384.3 162.0 L385.2 165.6 L386.2 169.2 L387.1 172.7 L388.1 176.2 L389.0 179.6 L390.0 183.0 L390.9 186.4 L391.9 189.7 L392.8 193.0 L393.8 196.2 L394.7 199.4 L395.7 202.6 L396.6 205.7 L397.6 208.8 L398.6 211.9 L399.5 214.9 L400.5 217.9 L401.4 220.8 L402.4 223.7 L403.3 226.6 L404.3 229.5 L405.2 232.3 L406.2 235.0 L407.2 237.7 L408.1 240.4 L409.1 243.1 L410.0 245.7 L411.0 248.3 L412.0 250.9 L412.9 253.4 L413.9 255.9 L414.8 258.3 L415.7 260.8 L416.6 263.2 L417.5 265.6 L418.4 267.9 L419.3 270.2 L420.2 272.5 L421.1 274.8 L422.0 277.0 L422.9 279.2 L423.8 281.3 L424.7 283.5 L425.6 285.5 L426.5 287.6 L427.4 289.6 L428.3 291.6 L429.2 293.6 L430.1 295.5 L431.0 297.5 L432.0 299.3 L432.9 301.2 L433.8 303.0 L434.7 304.8 L435.7 306.5 L436.6 308.3 L437.5 310.0 L438.5 311.7 L439.4 313.3 L440.4 314.9 L441.3 316.5 L442.3 318.1 L443.2 319.6 L444.2 321.1 L445.2 322.6 L446.1 324.0 L447.1 325.5 L448.1 326.9 L449.1 328.2 L450.1 329.6 L451.1 330.9 L452.1 332.2 L453.1 333.4 L454.2 334.7 L455.2 335.9 L456.2 337.1 L457.3 338.2 L458.4 339.4 L459.4 340.5 L460.5 341.6 L461.6 342.6 L462.7 343.6 L463.9 344.6 L465.0 345.6 L466.1 346.5 L467.3 347.5 L468.5 348.3 L469.7 349.2 L470.9 350.0 L472.1 350.8 L473.4 351.6 L474.6 352.3 L475.9 353.0 L477.2 353.7 L478.5 354.3 L479.8 354.9 L481.2 355.5 L482.5 356.0 L483.9 356.5 L485.3 357.0 L486.7 357.4 L488.1 357.7 L489.5 358.1 L491.0 358.4 L492.5 358.6 L493.9 358.8 L495.4 358.9 L496.9 358.9 L498.4 358.8Z" fill="rgb(20,20,20)" filter="url(#bl15)" style="mix-blend-mode:plus-lighter"/>
<path d="M497.3 340.8 L496.3 340.9 L495.4 340.9 L494.5 340.9 L493.5 340.8 L492.6 340.8 L491.6 340.7 L490.7 340.5 L489.8 340.4 L488.8 340.2 L487.9 340.0 L486.9 339.8 L486.0 339.5 L485.0 339.2 L484.1 338.9 L483.1 338.5 L482.2 338.1 L481.2 337.7 L480.3 337.2 L479.3 336.8 L478.4 336.3 L477.4 335.7 L476.4 335.2 L475.5 334.6 L474.5 333.9 L473.5 333.3 L472.6 332.6 L471.6 331.9 L470.6 331.1 L469.7 330.4 L468.7 329.6 L467.7 328.7 L466.7 327.8 L465.8 326.9 L464.8 326.0 L463.8 325.0 L462.8 324.0 L461.9 323.0 L460.9 322.0 L459.9 320.9 L458.9 319.7 L457.9 318.6 L456.9 317.4 L456.0 316.2 L455.0 314.9 L454.0 313.7 L453.0 312.3 L452.0 311.0 L451.0 309.6 L450.0 308.2 L449.1 306.8 L448.1 305.3 L447.1 303.8 L446.1 302.2 L445.1 300.7 L444.1 299.1 L443.1 297.4 L442.1 295.8 L441.1 294.0 L440.1 292.3 L439.1 290.5 L438.2 288.7 L437.2 286.9 L436.2 285.0 L435.2 283.1 L434.2 281.2 L433.2 279.2 L432.2 277.2 L431.2 275.2 L430.2 273.1 L429.2 271.0 L428.2 268.8 L427.2 266.7 L426.1 264.5 L425.1 262.2 L424.1 259.9 L423.1 257.6 L422.1 255.3 L421.1 252.9 L420.1 250.5 L419.1 248.0 L418.0 245.5 L417.0 243.0 L416.0 240.4 L415.0 237.8 L414.0 235.2 L413.0 232.5 L412.0 229.8 L411.0 227.1 L409.9 224.3 L408.9 221.4 L407.9 218.6 L406.9 215.7 L405.9 212.7 L404.9 209.8 L403.9 206.8 L402.8 203.7 L401.8 200.6 L400.8 197.5 L399.8 194.3 L398.8 191.1 L397.8 187.9 L396.8 184.6 L395.8 181.3 L394.8 177.9 L393.7 174.5 L392.7 171.1 L391.7 167.6 L390.7 164.1 L389.7 160.5 L388.7 156.9 L387.7 153.3 L386.7 149.6 L385.6 145.8 L384.6 142.1 L383.6 138.3 L382.6 134.4 L381.6 130.5 L380.6 126.6 L379.6 122.6 L378.6 118.6 L377.5 114.5 L376.5 110.4 L375.5 106.2 L374.5 102.0 L373.5 97.8 L372.5 93.5 L371.5 89.2 L370.4 84.8 L369.4 80.4 L368.4 75.9 L367.4 71.4 L366.4 66.9 L365.4 62.3 L364.4 57.6 L363.4 52.9 L362.4 48.2 L361.4 43.4 L360.4 38.6 L359.4 33.7 L358.4 28.8 L357.4 23.8 L356.4 18.8 L355.4 13.7 L354.4 8.6 L353.4 3.4 L352.4 -1.8 L351.4 -7.1 L350.4 -12.4 L349.4 -17.8 L348.4 -23.2 L347.4 -28.7 L346.4 -34.2 L344.4 -33.8 L345.4 -28.3 L346.4 -22.8 L347.4 -17.4 L348.4 -12.0 L349.4 -6.7 L350.4 -1.4 L351.4 3.8 L352.4 9.0 L353.4 14.1 L354.4 19.2 L355.4 24.2 L356.4 29.2 L357.4 34.1 L358.4 39.0 L359.4 43.8 L360.4 48.6 L361.4 53.4 L362.4 58.1 L363.4 62.7 L364.4 67.3 L365.4 71.9 L366.4 76.4 L367.4 80.9 L368.4 85.3 L369.3 89.7 L370.3 94.0 L371.3 98.3 L372.3 102.6 L373.3 106.8 L374.3 110.9 L375.3 115.1 L376.2 119.1 L377.2 123.2 L378.2 127.2 L379.2 131.1 L380.2 135.0 L381.2 138.9 L382.2 142.7 L383.2 146.5 L384.1 150.2 L385.1 153.9 L386.1 157.6 L387.1 161.2 L388.1 164.8 L389.1 168.3 L390.1 171.8 L391.1 175.3 L392.0 178.7 L393.0 182.1 L394.0 185.4 L395.0 188.7 L396.0 192.0 L397.0 195.2 L398.0 198.4 L399.0 201.5 L400.0 204.7 L400.9 207.7 L401.9 210.8 L402.9 213.8 L403.9 216.7 L404.9 219.6 L405.9 222.5 L406.9 225.4 L407.8 228.2 L408.8 230.9 L409.8 233.7 L410.8 236.4 L411.8 239.0 L412.8 241.7 L413.8 244.3 L414.8 246.8 L415.7 249.3 L416.7 251.8 L417.7 254.3 L418.7 256.7 L419.7 259.1 L420.7 261.4 L421.7 263.7 L422.7 266.0 L423.6 268.3 L424.6 270.5 L425.6 272.6 L426.6 274.8 L427.6 276.9 L428.6 279.0 L429.6 281.0 L430.6 283.0 L431.6 284.9 L432.6 286.9 L433.6 288.8 L434.6 290.6 L435.7 292.5 L436.7 294.3 L437.7 296.0 L438.7 297.8 L439.7 299.5 L440.7 301.1 L441.7 302.8 L442.7 304.4 L443.7 306.0 L444.7 307.5 L445.7 309.0 L446.8 310.5 L447.8 311.9 L448.8 313.3 L449.8 314.7 L450.8 316.1 L451.8 317.4 L452.8 318.7 L453.9 319.9 L454.9 321.2 L455.9 322.4 L456.9 323.5 L457.9 324.7 L458.9 325.8 L460.0 326.8 L461.0 327.9 L462.0 328.9 L463.0 329.9 L464.1 330.8 L465.1 331.7 L466.1 332.6 L467.1 333.5 L468.2 334.3 L469.2 335.1 L470.2 335.8 L471.3 336.6 L472.3 337.3 L473.3 338.0 L474.4 338.6 L475.4 339.2 L476.4 339.8 L477.5 340.3 L478.5 340.9 L479.6 341.3 L480.6 341.8 L481.7 342.2 L482.7 342.6 L483.8 343.0 L484.8 343.3 L485.9 343.6 L486.9 343.9 L488.0 344.1 L489.0 344.3 L490.1 344.5 L491.2 344.6 L492.2 344.8 L493.3 344.8 L494.3 344.9 L495.4 344.9 L496.5 344.9 L497.5 344.8Z" fill="url(#g26)" filter="url(#bl14)" style="mix-blend-mode:plus-lighter"/>
<path d="M497.1 338.3 L496.3 338.4 L495.4 338.4 L494.5 338.4 L493.7 338.4 L492.8 338.4 L491.9 338.3 L491.0 338.2 L490.2 338.1 L489.3 337.9 L488.4 337.8 L487.5 337.6 L486.6 337.3 L485.7 337.1 L484.8 336.8 L483.9 336.5 L483.0 336.1 L482.1 335.8 L481.2 335.4 L480.2 335.0 L479.3 334.5 L478.4 334.0 L477.4 333.5 L476.5 332.9 L475.6 332.4 L474.6 331.7 L473.7 331.1 L472.7 330.4 L471.8 329.7 L470.8 329.0 L469.8 328.2 L468.9 327.4 L467.9 326.6 L466.9 325.7 L465.9 324.8 L465.0 323.9 L464.0 322.9 L463.0 322.0 L462.0 320.9 L461.0 319.9 L460.0 318.8 L459.0 317.7 L458.0 316.5 L457.1 315.3 L456.1 314.1 L455.1 312.8 L454.1 311.6 L453.1 310.2 L452.1 308.9 L451.1 307.5 L450.1 306.1 L449.0 304.6 L448.0 303.2 L447.0 301.6 L446.0 300.1 L445.0 298.5 L444.0 296.9 L443.0 295.2 L442.0 293.6 L441.0 291.8 L439.9 290.1 L438.9 288.3 L437.9 286.5 L436.9 284.7 L435.8 282.8 L434.8 280.8 L433.8 278.9 L432.8 276.9 L431.7 274.9 L430.7 272.8 L429.7 270.7 L428.7 268.6 L427.6 266.4 L426.6 264.3 L425.6 262.0 L424.5 259.8 L423.5 257.4 L422.5 255.1 L421.5 252.7 L420.4 250.3 L419.4 247.9 L418.4 245.4 L417.3 242.9 L416.3 240.3 L415.3 237.7 L414.2 235.1 L413.2 232.4 L412.2 229.7 L411.1 227.0 L410.1 224.2 L409.1 221.4 L408.0 218.5 L407.0 215.6 L406.0 212.7 L404.9 209.8 L403.9 206.7 L402.9 203.7 L401.8 200.6 L400.8 197.5 L399.8 194.3 L398.8 191.1 L397.8 187.9 L396.8 184.6 L395.8 181.3 L394.8 177.9 L393.8 174.5 L392.8 171.0 L391.8 167.6 L390.8 164.0 L389.8 160.5 L388.8 156.9 L387.8 153.2 L386.8 149.5 L385.8 145.8 L384.9 142.0 L383.9 138.2 L382.9 134.3 L381.9 130.4 L380.9 126.5 L379.9 122.5 L378.9 118.5 L377.9 114.4 L376.9 110.3 L375.9 106.2 L374.9 102.0 L373.9 97.7 L372.9 93.4 L371.9 89.1 L370.9 84.7 L369.9 80.3 L368.9 75.8 L367.9 71.3 L366.9 66.8 L365.9 62.2 L364.9 57.5 L363.9 52.8 L362.9 48.1 L361.9 43.3 L360.9 38.5 L359.9 33.6 L358.9 28.7 L357.9 23.7 L356.9 18.7 L355.9 13.6 L354.9 8.5 L353.9 3.3 L352.9 -1.9 L351.9 -7.2 L350.9 -12.5 L349.9 -17.9 L348.9 -23.3 L347.9 -28.7 L346.9 -34.3 L343.9 -33.7 L344.9 -28.2 L345.9 -22.7 L346.9 -17.3 L347.9 -11.9 L348.9 -6.6 L349.9 -1.3 L350.9 3.9 L351.9 9.0 L352.9 14.2 L353.9 19.3 L354.9 24.3 L355.9 29.3 L356.9 34.2 L357.9 39.1 L358.9 43.9 L359.9 48.7 L360.9 53.5 L361.9 58.2 L362.9 62.8 L363.9 67.4 L364.9 72.0 L365.9 76.5 L366.9 81.0 L367.9 85.4 L368.9 89.8 L369.9 94.1 L370.9 98.4 L371.9 102.7 L372.9 106.9 L373.9 111.0 L374.9 115.1 L375.9 119.2 L376.9 123.2 L377.9 127.2 L378.9 131.2 L379.9 135.1 L380.9 139.0 L381.9 142.8 L383.0 146.6 L384.0 150.3 L385.0 154.0 L386.0 157.6 L387.0 161.3 L388.0 164.8 L389.0 168.4 L390.0 171.9 L391.0 175.3 L392.0 178.7 L393.0 182.1 L394.0 185.4 L395.0 188.7 L396.0 192.0 L397.0 195.2 L398.0 198.4 L399.0 201.5 L399.9 204.7 L400.9 207.7 L401.9 210.8 L402.8 213.8 L403.8 216.7 L404.8 219.7 L405.7 222.6 L406.7 225.4 L407.7 228.2 L408.6 231.0 L409.6 233.8 L410.6 236.5 L411.5 239.1 L412.5 241.8 L413.5 244.4 L414.4 246.9 L415.4 249.5 L416.4 252.0 L417.3 254.4 L418.3 256.9 L419.3 259.3 L420.3 261.6 L421.2 263.9 L422.2 266.2 L423.2 268.5 L424.1 270.7 L425.1 272.9 L426.1 275.0 L427.1 277.2 L428.0 279.2 L429.0 281.3 L430.0 283.3 L431.0 285.3 L431.9 287.2 L432.9 289.2 L433.9 291.1 L434.9 292.9 L435.8 294.7 L436.8 296.5 L437.8 298.3 L438.8 300.0 L439.8 301.7 L440.8 303.4 L441.8 305.0 L442.8 306.6 L443.8 308.2 L444.7 309.7 L445.7 311.2 L446.7 312.7 L447.7 314.1 L448.7 315.5 L449.7 316.9 L450.7 318.2 L451.7 319.6 L452.8 320.8 L453.8 322.1 L454.8 323.3 L455.8 324.5 L456.8 325.7 L457.8 326.8 L458.8 327.9 L459.8 329.0 L460.9 330.1 L461.9 331.1 L462.9 332.1 L463.9 333.0 L465.0 333.9 L466.0 334.8 L467.0 335.7 L468.1 336.5 L469.1 337.3 L470.2 338.1 L471.2 338.9 L472.3 339.6 L473.4 340.3 L474.4 340.9 L475.5 341.6 L476.6 342.2 L477.6 342.7 L478.7 343.3 L479.8 343.8 L480.9 344.2 L482.0 344.7 L483.1 345.1 L484.2 345.5 L485.3 345.8 L486.4 346.1 L487.5 346.4 L488.6 346.6 L489.8 346.9 L490.9 347.0 L492.0 347.2 L493.1 347.3 L494.3 347.4 L495.4 347.4 L496.5 347.4 L497.7 347.3Z" fill="url(#g27)" filter="url(#bl5)" style="mix-blend-mode:plus-lighter"/>
<path d="M496.9 469.0 L496.1 469.0 L495.4 469.0 L494.7 469.0 L493.9 469.0 L493.2 468.9 L492.5 468.8 L491.8 468.7 L491.0 468.6 L490.3 468.5 L489.5 468.3 L488.8 468.1 L488.0 467.9 L487.3 467.6 L486.5 467.4 L485.7 467.1 L484.9 466.7 L484.1 466.4 L483.3 466.0 L482.5 465.6 L481.7 465.2 L480.9 464.7 L480.1 464.2 L479.2 463.7 L478.4 463.2 L477.6 462.6 L476.7 462.0 L475.8 461.3 L475.0 460.7 L474.1 460.0 L473.2 459.2 L472.4 458.5 L471.5 457.7 L470.6 456.8 L469.7 456.0 L468.8 455.1 L467.9 454.2 L467.0 453.2 L466.0 452.2 L465.1 451.2 L464.2 450.2 L463.3 449.1 L462.4 448.0 L461.4 446.8 L460.5 445.6 L459.5 444.4 L458.6 443.2 L457.7 441.9 L456.7 440.6 L455.8 439.3 L454.8 437.9 L453.9 436.5 L452.9 435.1 L452.0 433.6 L451.0 432.1 L450.0 430.6 L449.1 429.0 L448.1 427.4 L447.2 425.8 L446.2 424.1 L445.2 422.4 L444.3 420.7 L443.3 419.0 L442.3 417.2 L441.4 415.4 L440.4 413.5 L439.4 411.6 L438.4 409.7 L437.5 407.8 L436.5 405.8 L435.5 403.8 L434.5 401.8 L433.5 399.7 L432.6 397.6 L431.6 395.5 L430.6 393.3 L429.6 391.1 L428.6 388.9 L427.7 386.6 L426.7 384.3 L425.7 382.0 L424.7 379.7 L423.7 377.3 L422.7 374.9 L421.8 372.4 L420.8 370.0 L419.8 367.5 L418.8 364.9 L417.8 362.4 L416.8 359.8 L415.8 357.1 L414.8 354.5 L413.9 351.8 L412.9 349.1 L411.9 346.3 L410.9 343.5 L409.9 340.7 L408.9 337.9 L407.9 335.0 L406.9 332.1 L405.9 329.2 L404.9 326.2 L403.9 323.2 L403.0 320.2 L402.0 317.1 L401.0 314.0 L400.0 310.9 L399.0 307.7 L398.0 304.5 L397.0 301.3 L396.0 298.1 L395.0 294.8 L394.0 291.5 L393.0 288.2 L392.0 284.8 L391.0 281.4 L390.0 278.0 L389.1 274.5 L388.1 271.0 L387.1 267.5 L386.1 263.9 L385.1 260.4 L384.1 256.7 L383.1 253.1 L382.1 249.4 L381.1 245.7 L380.1 242.0 L379.1 238.2 L378.1 234.4 L377.1 230.6 L376.1 226.7 L375.1 222.8 L374.1 218.9 L373.1 215.0 L372.1 211.0 L371.1 207.0 L370.1 202.9 L369.1 198.8 L368.1 194.7 L367.2 190.6 L366.2 186.4 L365.2 182.2 L364.2 178.0 L363.2 173.8 L362.2 169.5 L361.2 165.2 L360.2 160.8 L359.2 156.4 L358.2 152.0 L357.2 147.6 L356.2 143.1 L355.2 138.6 L354.2 134.1 L353.2 129.5 L352.2 124.9 L351.2 120.3 L350.2 115.6 L349.2 111.0 L348.2 106.2 L347.2 101.5 L346.2 96.7 L345.2 91.9 L344.2 87.1 L343.2 82.2 L342.2 77.3 L341.2 72.4 L340.2 67.4 L339.2 62.4 L338.2 57.4 L337.2 52.3 L336.2 47.3 L335.2 42.2 L334.2 37.0 L333.2 31.8 L315.6 35.2 L316.6 40.4 L317.6 45.6 L318.6 50.7 L319.6 55.8 L320.6 60.9 L321.6 65.9 L322.6 71.0 L323.6 75.9 L324.6 80.9 L325.6 85.8 L326.6 90.7 L327.6 95.6 L328.6 100.4 L329.6 105.2 L330.6 109.9 L331.6 114.7 L332.6 119.4 L333.6 124.1 L334.6 128.7 L335.6 133.3 L336.6 137.9 L337.6 142.5 L338.6 147.0 L339.6 151.5 L340.6 156.0 L341.6 160.4 L342.6 164.8 L343.6 169.2 L344.6 173.5 L345.6 177.9 L346.6 182.1 L347.6 186.4 L348.6 190.6 L349.6 194.8 L350.7 199.0 L351.7 203.1 L352.7 207.2 L353.7 211.3 L354.7 215.3 L355.7 219.3 L356.7 223.3 L357.7 227.3 L358.7 231.2 L359.7 235.1 L360.7 239.0 L361.7 242.8 L362.7 246.6 L363.7 250.4 L364.7 254.1 L365.7 257.8 L366.7 261.5 L367.7 265.2 L368.7 268.8 L369.7 272.4 L370.7 275.9 L371.7 279.5 L372.8 283.0 L373.8 286.4 L374.8 289.9 L375.8 293.3 L376.8 296.7 L377.8 300.0 L378.8 303.3 L379.8 306.6 L380.8 309.9 L381.8 313.1 L382.8 316.3 L383.8 319.5 L384.8 322.6 L385.8 325.7 L386.9 328.8 L387.9 331.9 L388.9 334.9 L389.9 337.9 L390.9 340.8 L391.9 343.8 L392.9 346.7 L393.9 349.5 L394.9 352.4 L395.9 355.2 L396.9 358.0 L398.0 360.7 L399.0 363.4 L400.0 366.1 L401.0 368.8 L402.0 371.4 L403.0 374.0 L404.0 376.6 L405.0 379.1 L406.1 381.7 L407.1 384.1 L408.1 386.6 L409.1 389.0 L410.1 391.4 L411.1 393.8 L412.2 396.1 L413.2 398.4 L414.2 400.7 L415.2 402.9 L416.2 405.2 L417.3 407.3 L418.3 409.5 L419.3 411.6 L420.3 413.7 L421.3 415.8 L422.4 417.8 L423.4 419.9 L424.4 421.8 L425.4 423.8 L426.5 425.7 L427.5 427.6 L428.5 429.5 L429.6 431.3 L430.6 433.1 L431.6 434.9 L432.7 436.6 L433.7 438.4 L434.8 440.0 L435.8 441.7 L436.8 443.3 L437.9 444.9 L438.9 446.5 L440.0 448.1 L441.0 449.6 L442.1 451.1 L443.1 452.5 L444.2 454.0 L445.3 455.4 L446.3 456.7 L447.4 458.1 L448.4 459.4 L449.5 460.7 L450.6 461.9 L451.7 463.2 L452.8 464.4 L453.8 465.5 L454.9 466.7 L456.0 467.8 L457.1 468.9 L458.2 469.9 L459.3 471.0 L460.4 472.0 L461.6 472.9 L462.7 473.9 L463.8 474.8 L465.0 475.7 L466.1 476.5 L467.2 477.3 L468.4 478.1 L469.6 478.9 L470.7 479.6 L471.9 480.3 L473.1 481.0 L474.3 481.6 L475.5 482.2 L476.7 482.8 L477.9 483.3 L479.1 483.8 L480.3 484.3 L481.5 484.7 L482.8 485.1 L484.0 485.4 L485.3 485.8 L486.5 486.1 L487.8 486.3 L489.0 486.5 L490.3 486.7 L491.6 486.8 L492.9 486.9 L494.1 487.0 L495.4 487.0 L496.7 487.0 L497.9 486.9Z" fill="rgb(23,23,23)" filter="url(#bl15)" style="mix-blend-mode:plus-lighter"/>
<path d="M497.2 474.9 L496.3 475.0 L495.4 475.0 L494.5 475.0 L493.6 474.9 L492.7 474.9 L491.8 474.8 L490.9 474.7 L489.9 474.5 L489.0 474.3 L488.1 474.1 L487.2 473.9 L486.3 473.6 L485.4 473.3 L484.4 473.0 L483.5 472.6 L482.6 472.3 L481.6 471.9 L480.7 471.4 L479.8 470.9 L478.8 470.4 L477.9 469.9 L477.0 469.4 L476.0 468.8 L475.1 468.1 L474.1 467.5 L473.2 466.8 L472.2 466.1 L471.3 465.4 L470.3 464.6 L469.3 463.8 L468.4 463.0 L467.4 462.1 L466.5 461.2 L465.5 460.3 L464.5 459.3 L463.6 458.3 L462.6 457.3 L461.6 456.3 L460.6 455.2 L459.7 454.1 L458.7 452.9 L457.7 451.8 L456.7 450.6 L455.8 449.3 L454.8 448.1 L453.8 446.8 L452.8 445.4 L451.8 444.1 L450.9 442.7 L449.9 441.3 L448.9 439.8 L447.9 438.4 L446.9 436.8 L445.9 435.3 L444.9 433.7 L444.0 432.1 L443.0 430.5 L442.0 428.8 L441.0 427.1 L440.0 425.4 L439.0 423.6 L438.0 421.8 L437.0 420.0 L436.1 418.2 L435.1 416.3 L434.1 414.4 L433.1 412.4 L432.1 410.5 L431.1 408.4 L430.1 406.4 L429.1 404.3 L428.1 402.2 L427.1 400.1 L426.1 398.0 L425.1 395.8 L424.1 393.5 L423.1 391.3 L422.2 389.0 L421.2 386.7 L420.2 384.4 L419.2 382.0 L418.2 379.6 L417.2 377.1 L416.2 374.7 L415.2 372.2 L414.2 369.7 L413.2 367.1 L412.2 364.5 L411.2 361.9 L410.2 359.2 L409.2 356.6 L408.2 353.9 L407.2 351.1 L406.2 348.3 L405.2 345.5 L404.2 342.7 L403.2 339.8 L402.2 336.9 L401.2 334.0 L400.2 331.1 L399.2 328.1 L398.2 325.1 L397.3 322.0 L396.3 318.9 L395.3 315.8 L394.3 312.7 L393.3 309.5 L392.3 306.3 L391.3 303.1 L390.3 299.8 L389.3 296.5 L388.3 293.2 L387.3 289.9 L386.3 286.5 L385.3 283.1 L384.3 279.6 L383.3 276.2 L382.3 272.7 L381.3 269.1 L380.3 265.5 L379.3 262.0 L378.3 258.3 L377.3 254.7 L376.3 251.0 L375.3 247.3 L374.3 243.5 L373.3 239.7 L372.3 235.9 L371.3 232.1 L370.3 228.2 L369.3 224.3 L368.3 220.4 L367.3 216.4 L366.3 212.4 L365.3 208.4 L364.3 204.4 L363.3 200.3 L362.3 196.2 L361.3 192.0 L360.3 187.8 L359.3 183.6 L358.3 179.4 L357.3 175.1 L356.3 170.8 L355.3 166.5 L354.3 162.1 L353.3 157.8 L352.3 153.3 L351.3 148.9 L350.3 144.4 L349.3 139.9 L348.3 135.4 L347.3 130.8 L346.3 126.2 L345.3 121.6 L344.3 116.9 L343.3 112.2 L342.3 107.5 L341.3 102.7 L340.3 97.9 L339.3 93.1 L338.3 88.3 L337.3 83.4 L336.3 78.5 L335.3 73.6 L334.3 68.6 L333.3 63.6 L332.3 58.6 L331.3 53.5 L330.3 48.4 L329.3 43.3 L328.3 38.2 L327.3 33.0 L321.5 34.1 L322.5 39.3 L323.5 44.4 L324.5 49.6 L325.5 54.7 L326.5 59.7 L327.5 64.8 L328.5 69.8 L329.5 74.7 L330.5 79.7 L331.5 84.6 L332.5 89.5 L333.5 94.3 L334.5 99.2 L335.5 104.0 L336.5 108.7 L337.5 113.4 L338.5 118.1 L339.5 122.8 L340.5 127.5 L341.5 132.1 L342.5 136.6 L343.5 141.2 L344.5 145.7 L345.5 150.2 L346.5 154.7 L347.5 159.1 L348.5 163.5 L349.5 167.8 L350.5 172.2 L351.5 176.5 L352.5 180.8 L353.5 185.0 L354.5 189.2 L355.5 193.4 L356.5 197.6 L357.5 201.7 L358.5 205.8 L359.5 209.8 L360.5 213.9 L361.5 217.9 L362.5 221.9 L363.5 225.8 L364.5 229.7 L365.5 233.6 L366.5 237.4 L367.5 241.3 L368.5 245.1 L369.5 248.8 L370.5 252.5 L371.5 256.2 L372.5 259.9 L373.5 263.6 L374.5 267.2 L375.5 270.7 L376.5 274.3 L377.5 277.8 L378.5 281.3 L379.5 284.7 L380.5 288.2 L381.5 291.6 L382.5 294.9 L383.5 298.3 L384.5 301.6 L385.5 304.9 L386.5 308.1 L387.5 311.3 L388.5 314.5 L389.5 317.7 L390.5 320.8 L391.5 323.9 L392.6 326.9 L393.6 330.0 L394.6 333.0 L395.6 335.9 L396.6 338.9 L397.6 341.8 L398.6 344.7 L399.6 347.5 L400.6 350.4 L401.6 353.1 L402.6 355.9 L403.6 358.6 L404.6 361.3 L405.6 364.0 L406.6 366.7 L407.6 369.3 L408.6 371.8 L409.6 374.4 L410.6 376.9 L411.6 379.4 L412.6 381.9 L413.6 384.3 L414.6 386.7 L415.6 389.1 L416.6 391.4 L417.7 393.7 L418.7 396.0 L419.7 398.2 L420.7 400.4 L421.7 402.6 L422.7 404.8 L423.7 406.9 L424.7 409.0 L425.7 411.1 L426.7 413.1 L427.7 415.1 L428.7 417.1 L429.7 419.1 L430.7 421.0 L431.8 422.9 L432.8 424.7 L433.8 426.5 L434.8 428.3 L435.8 430.1 L436.8 431.9 L437.8 433.6 L438.8 435.2 L439.9 436.9 L440.9 438.5 L441.9 440.1 L442.9 441.6 L443.9 443.2 L444.9 444.7 L445.9 446.1 L447.0 447.6 L448.0 449.0 L449.0 450.4 L450.0 451.7 L451.0 453.0 L452.1 454.3 L453.1 455.6 L454.1 456.8 L455.1 458.0 L456.2 459.2 L457.2 460.3 L458.2 461.4 L459.2 462.5 L460.3 463.6 L461.3 464.6 L462.3 465.6 L463.4 466.5 L464.4 467.5 L465.5 468.4 L466.5 469.2 L467.5 470.1 L468.6 470.9 L469.6 471.7 L470.7 472.4 L471.7 473.1 L472.8 473.8 L473.8 474.5 L474.9 475.1 L476.0 475.7 L477.0 476.3 L478.1 476.8 L479.2 477.3 L480.2 477.8 L481.3 478.2 L482.4 478.6 L483.4 479.0 L484.5 479.4 L485.6 479.7 L486.7 479.9 L487.8 480.2 L488.9 480.4 L489.9 480.6 L491.0 480.7 L492.1 480.9 L493.2 480.9 L494.3 481.0 L495.4 481.0 L496.5 481.0 L497.6 480.9Z" fill="rgb(10,10,10)" filter="url(#bl5)" style="mix-blend-mode:plus-lighter"/>
<path d="M496.9 579.0 L496.1 579.0 L495.4 579.0 L494.7 579.0 L493.9 579.0 L493.2 578.9 L492.5 578.8 L491.8 578.7 L491.0 578.6 L490.3 578.5 L489.5 578.3 L488.8 578.1 L488.0 577.9 L487.3 577.6 L486.5 577.4 L485.7 577.1 L484.9 576.7 L484.1 576.4 L483.3 576.0 L482.5 575.6 L481.7 575.2 L480.9 574.7 L480.1 574.2 L479.2 573.7 L478.4 573.2 L477.6 572.6 L476.7 572.0 L475.8 571.3 L475.0 570.7 L474.1 570.0 L473.2 569.2 L472.4 568.5 L471.5 567.7 L470.6 566.8 L469.7 566.0 L468.8 565.1 L467.9 564.2 L467.0 563.2 L466.0 562.2 L465.1 561.2 L464.2 560.2 L463.3 559.1 L462.4 558.0 L461.4 556.8 L460.5 555.6 L459.5 554.4 L458.6 553.2 L457.7 551.9 L456.7 550.6 L455.8 549.3 L454.8 547.9 L453.9 546.5 L452.9 545.1 L452.0 543.6 L451.0 542.1 L450.0 540.6 L449.1 539.0 L448.1 537.4 L447.2 535.8 L446.2 534.1 L445.2 532.4 L444.3 530.7 L443.3 529.0 L442.3 527.2 L441.4 525.4 L440.4 523.5 L439.4 521.6 L438.4 519.7 L437.5 517.8 L436.5 515.8 L435.5 513.8 L434.5 511.8 L433.5 509.7 L432.6 507.6 L431.6 505.5 L430.6 503.3 L429.6 501.1 L428.6 498.9 L427.7 496.6 L426.7 494.3 L425.7 492.0 L424.7 489.7 L423.7 487.3 L422.7 484.9 L421.8 482.4 L420.8 480.0 L419.8 477.5 L418.8 474.9 L417.8 472.4 L416.8 469.8 L415.8 467.1 L414.8 464.5 L413.9 461.8 L412.9 459.1 L411.9 456.3 L410.9 453.5 L409.9 450.7 L408.9 447.9 L407.9 445.0 L406.9 442.1 L405.9 439.2 L404.9 436.2 L403.9 433.2 L403.0 430.2 L402.0 427.1 L401.0 424.0 L400.0 420.9 L399.0 417.7 L398.0 414.5 L397.0 411.3 L396.0 408.1 L395.0 404.8 L394.0 401.5 L393.0 398.2 L392.0 394.8 L391.0 391.4 L390.0 388.0 L389.1 384.5 L388.1 381.0 L387.1 377.5 L386.1 373.9 L385.1 370.4 L384.1 366.7 L383.1 363.1 L382.1 359.4 L381.1 355.7 L380.1 352.0 L379.1 348.2 L378.1 344.4 L377.1 340.6 L376.1 336.7 L375.1 332.8 L374.1 328.9 L373.1 325.0 L372.1 321.0 L371.1 317.0 L370.1 312.9 L369.1 308.8 L368.1 304.7 L367.2 300.6 L366.2 296.4 L365.2 292.2 L364.2 288.0 L363.2 283.8 L362.2 279.5 L361.2 275.2 L360.2 270.8 L359.2 266.4 L358.2 262.0 L357.2 257.6 L356.2 253.1 L355.2 248.6 L354.2 244.1 L353.2 239.5 L352.2 234.9 L351.2 230.3 L350.2 225.6 L349.2 221.0 L348.2 216.2 L347.2 211.5 L346.2 206.7 L345.2 201.9 L344.2 197.1 L343.2 192.2 L342.2 187.3 L341.2 182.4 L340.2 177.4 L339.2 172.4 L338.2 167.4 L337.2 162.3 L336.2 157.3 L335.2 152.2 L334.2 147.0 L333.2 141.8 L315.6 145.2 L316.6 150.4 L317.6 155.6 L318.6 160.7 L319.6 165.8 L320.6 170.9 L321.6 175.9 L322.6 181.0 L323.6 185.9 L324.6 190.9 L325.6 195.8 L326.6 200.7 L327.6 205.6 L328.6 210.4 L329.6 215.2 L330.6 219.9 L331.6 224.7 L332.6 229.4 L333.6 234.1 L334.6 238.7 L335.6 243.3 L336.6 247.9 L337.6 252.5 L338.6 257.0 L339.6 261.5 L340.6 266.0 L341.6 270.4 L342.6 274.8 L343.6 279.2 L344.6 283.5 L345.6 287.9 L346.6 292.1 L347.6 296.4 L348.6 300.6 L349.6 304.8 L350.7 309.0 L351.7 313.1 L352.7 317.2 L353.7 321.3 L354.7 325.3 L355.7 329.3 L356.7 333.3 L357.7 337.3 L358.7 341.2 L359.7 345.1 L360.7 349.0 L361.7 352.8 L362.7 356.6 L363.7 360.4 L364.7 364.1 L365.7 367.8 L366.7 371.5 L367.7 375.2 L368.7 378.8 L369.7 382.4 L370.7 385.9 L371.7 389.5 L372.8 393.0 L373.8 396.4 L374.8 399.9 L375.8 403.3 L376.8 406.7 L377.8 410.0 L378.8 413.3 L379.8 416.6 L380.8 419.9 L381.8 423.1 L382.8 426.3 L383.8 429.5 L384.8 432.6 L385.8 435.7 L386.9 438.8 L387.9 441.9 L388.9 444.9 L389.9 447.9 L390.9 450.8 L391.9 453.8 L392.9 456.7 L393.9 459.5 L394.9 462.4 L395.9 465.2 L396.9 468.0 L398.0 470.7 L399.0 473.4 L400.0 476.1 L401.0 478.8 L402.0 481.4 L403.0 484.0 L404.0 486.6 L405.0 489.1 L406.1 491.7 L407.1 494.1 L408.1 496.6 L409.1 499.0 L410.1 501.4 L411.1 503.8 L412.2 506.1 L413.2 508.4 L414.2 510.7 L415.2 512.9 L416.2 515.2 L417.3 517.3 L418.3 519.5 L419.3 521.6 L420.3 523.7 L421.3 525.8 L422.4 527.8 L423.4 529.9 L424.4 531.8 L425.4 533.8 L426.5 535.7 L427.5 537.6 L428.5 539.5 L429.6 541.3 L430.6 543.1 L431.6 544.9 L432.7 546.6 L433.7 548.4 L434.8 550.0 L435.8 551.7 L436.8 553.3 L437.9 554.9 L438.9 556.5 L440.0 558.1 L441.0 559.6 L442.1 561.1 L443.1 562.5 L444.2 564.0 L445.3 565.4 L446.3 566.7 L447.4 568.1 L448.4 569.4 L449.5 570.7 L450.6 571.9 L451.7 573.2 L452.8 574.4 L453.8 575.5 L454.9 576.7 L456.0 577.8 L457.1 578.9 L458.2 579.9 L459.3 581.0 L460.4 582.0 L461.6 582.9 L462.7 583.9 L463.8 584.8 L465.0 585.7 L466.1 586.5 L467.2 587.3 L468.4 588.1 L469.6 588.9 L470.7 589.6 L471.9 590.3 L473.1 591.0 L474.3 591.6 L475.5 592.2 L476.7 592.8 L477.9 593.3 L479.1 593.8 L480.3 594.3 L481.5 594.7 L482.8 595.1 L484.0 595.4 L485.3 595.8 L486.5 596.1 L487.8 596.3 L489.0 596.5 L490.3 596.7 L491.6 596.8 L492.9 596.9 L494.1 597.0 L495.4 597.0 L496.7 597.0 L497.9 596.9Z" fill="rgb(20,20,20)" filter="url(#bl15)" style="mix-blend-mode:plus-lighter"/>
</g>
<g clip-path="url(#cpd)">
<rect x="495.4" y="9.0" width="132.10000000000002" height="460.0" fill="rgb(4,4,4)"/>
<rect x="495.4" y="9.0" width="132.10000000000002" height="460.0" fill="url(#bgd)" style="mix-blend-mode:plus-lighter"/>
<path d="M493.6 228.5 L494.5 228.6 L495.4 228.6 L496.3 228.6 L497.2 228.5 L498.1 228.5 L499.0 228.4 L499.9 228.2 L500.8 228.1 L501.7 227.9 L502.7 227.7 L503.6 227.4 L504.5 227.2 L505.4 226.8 L506.3 226.5 L507.3 226.1 L508.2 225.7 L509.1 225.3 L510.0 224.9 L511.0 224.4 L511.9 223.8 L512.8 223.3 L513.8 222.7 L514.7 222.1 L515.7 221.4 L516.6 220.8 L517.6 220.1 L518.5 219.3 L519.5 218.5 L520.4 217.7 L521.4 216.9 L522.4 216.0 L523.3 215.1 L524.3 214.2 L525.3 213.2 L526.2 212.2 L527.2 211.2 L528.2 210.1 L529.1 209.0 L530.1 207.9 L531.1 206.7 L532.1 205.5 L533.0 204.3 L534.0 203.0 L535.0 201.7 L536.0 200.4 L537.0 199.0 L537.9 197.6 L538.9 196.2 L539.9 194.7 L540.9 193.3 L541.9 191.7 L542.9 190.2 L543.8 188.6 L544.8 187.0 L545.8 185.3 L546.8 183.6 L547.8 181.9 L548.8 180.1 L549.8 178.3 L550.8 176.5 L551.7 174.7 L552.7 172.8 L553.7 170.9 L554.7 168.9 L555.7 166.9 L556.7 164.9 L557.7 162.8 L558.7 160.7 L559.7 158.6 L560.7 156.5 L561.7 154.3 L562.7 152.1 L563.7 149.8 L564.6 147.5 L565.6 145.2 L566.6 142.9 L567.6 140.5 L568.6 138.1 L569.6 135.6 L570.6 133.1 L571.6 130.6 L572.6 128.0 L573.6 125.5 L574.6 122.8 L575.6 120.2 L576.6 117.5 L577.6 114.8 L578.6 112.0 L579.6 109.2 L580.6 106.4 L581.6 103.6 L582.6 100.7 L583.6 97.7 L584.6 94.8 L585.6 91.8 L586.5 88.8 L587.5 85.7 L588.5 82.6 L589.5 79.5 L590.5 76.3 L591.5 73.1 L592.5 69.9 L593.5 66.6 L594.5 63.3 L595.5 60.0 L596.5 56.6 L597.5 53.2 L598.5 49.8 L599.5 46.3 L600.5 42.8 L601.5 39.3 L602.5 35.7 L603.5 32.1 L604.5 28.5 L605.5 24.8 L606.5 21.1 L607.5 17.3 L608.5 13.5 L609.5 9.7 L610.5 5.9 L611.5 2.0 L612.5 -2.0 L613.5 -5.9 L614.5 -9.9 L615.5 -13.9 L616.5 -18.0 L617.5 -22.1 L618.5 -26.2 L619.5 -30.4 L620.5 -34.6 L626.3 -33.2 L625.3 -29.0 L624.3 -24.8 L623.3 -20.7 L622.3 -16.6 L621.3 -12.5 L620.3 -8.5 L619.3 -4.5 L618.3 -0.5 L617.3 3.5 L616.3 7.4 L615.3 11.2 L614.3 15.1 L613.3 18.8 L612.3 22.6 L611.3 26.3 L610.3 30.0 L609.3 33.7 L608.3 37.3 L607.3 40.9 L606.3 44.5 L605.3 48.0 L604.3 51.5 L603.3 54.9 L602.3 58.3 L601.3 61.7 L600.3 65.1 L599.3 68.4 L598.3 71.7 L597.3 74.9 L596.3 78.1 L595.3 81.3 L594.3 84.4 L593.3 87.6 L592.3 90.6 L591.2 93.7 L590.2 96.7 L589.2 99.7 L588.2 102.6 L587.2 105.5 L586.2 108.4 L585.2 111.2 L584.2 114.1 L583.2 116.8 L582.2 119.6 L581.2 122.3 L580.2 125.0 L579.2 127.6 L578.2 130.2 L577.2 132.8 L576.2 135.3 L575.2 137.8 L574.2 140.3 L573.2 142.8 L572.2 145.2 L571.2 147.6 L570.2 149.9 L569.1 152.2 L568.1 154.5 L567.1 156.8 L566.1 159.0 L565.1 161.2 L564.1 163.3 L563.1 165.4 L562.1 167.5 L561.1 169.6 L560.1 171.6 L559.1 173.6 L558.1 175.5 L557.1 177.5 L556.0 179.4 L555.0 181.2 L554.0 183.1 L553.0 184.8 L552.0 186.6 L551.0 188.3 L550.0 190.0 L549.0 191.7 L547.9 193.4 L546.9 195.0 L545.9 196.5 L544.9 198.1 L543.9 199.6 L542.9 201.1 L541.8 202.5 L540.8 203.9 L539.8 205.3 L538.8 206.7 L537.8 208.0 L536.7 209.3 L535.7 210.5 L534.7 211.8 L533.7 212.9 L532.6 214.1 L531.6 215.2 L530.6 216.3 L529.5 217.4 L528.5 218.5 L527.5 219.5 L526.4 220.4 L525.4 221.4 L524.4 222.3 L523.3 223.2 L522.3 224.0 L521.2 224.8 L520.2 225.6 L519.1 226.4 L518.1 227.1 L517.0 227.8 L516.0 228.4 L514.9 229.1 L513.8 229.6 L512.8 230.2 L511.7 230.7 L510.6 231.2 L509.5 231.7 L508.5 232.1 L507.4 232.5 L506.3 232.9 L505.2 233.2 L504.1 233.5 L503.1 233.7 L502.0 234.0 L500.9 234.2 L499.8 234.3 L498.7 234.4 L497.6 234.5 L496.5 234.6 L495.4 234.6 L494.3 234.6 L493.2 234.5Z" fill="rgb(13,13,13)" filter="url(#bl7)" style="mix-blend-mode:plus-lighter"/>
<path d="M493.5 230.1 L494.4 230.2 L495.4 230.2 L496.4 230.2 L497.3 230.2 L498.3 230.1 L499.2 230.0 L500.2 229.9 L501.1 229.7 L502.1 229.5 L503.1 229.3 L504.0 229.0 L505.0 228.7 L506.0 228.4 L506.9 228.1 L507.9 227.7 L508.9 227.3 L509.8 226.8 L510.8 226.4 L511.8 225.9 L512.8 225.3 L513.7 224.8 L514.7 224.2 L515.7 223.5 L516.7 222.9 L517.7 222.2 L518.6 221.4 L519.6 220.7 L520.6 219.9 L521.6 219.1 L522.6 218.2 L523.6 217.3 L524.6 216.4 L525.6 215.5 L526.5 214.5 L527.5 213.5 L528.5 212.4 L529.5 211.3 L530.5 210.2 L531.5 209.1 L532.5 207.9 L533.5 206.7 L534.5 205.4 L535.5 204.1 L536.5 202.8 L537.5 201.5 L538.5 200.1 L539.5 198.7 L540.5 197.3 L541.5 195.8 L542.5 194.3 L543.5 192.8 L544.5 191.2 L545.5 189.6 L546.5 187.9 L547.5 186.3 L548.5 184.6 L549.5 182.8 L550.5 181.1 L551.5 179.3 L552.5 177.4 L553.5 175.6 L554.5 173.7 L555.5 171.8 L556.5 169.8 L557.5 167.8 L558.5 165.8 L559.5 163.7 L560.5 161.6 L561.5 159.5 L562.5 157.3 L563.5 155.1 L564.5 152.9 L565.5 150.6 L566.5 148.3 L567.5 146.0 L568.5 143.6 L569.5 141.2 L570.5 138.8 L571.5 136.4 L572.5 133.9 L573.5 131.3 L574.5 128.8 L575.5 126.2 L576.5 123.6 L577.5 120.9 L578.5 118.2 L579.5 115.5 L580.5 112.7 L581.5 109.9 L582.5 107.1 L583.5 104.2 L584.5 101.3 L585.5 98.4 L586.5 95.4 L587.5 92.4 L588.5 89.4 L589.5 86.3 L590.5 83.2 L591.5 80.1 L592.5 76.9 L593.5 73.7 L594.5 70.5 L595.5 67.2 L596.5 63.9 L597.5 60.6 L598.5 57.2 L599.5 53.8 L600.5 50.4 L601.5 46.9 L602.5 43.4 L603.5 39.8 L604.5 36.3 L605.5 32.6 L606.5 29.0 L607.5 25.3 L608.5 21.6 L609.5 17.8 L610.5 14.1 L611.5 10.2 L612.5 6.4 L613.5 2.5 L614.5 -1.4 L615.5 -5.4 L616.5 -9.4 L617.5 -13.4 L618.5 -17.5 L619.5 -21.6 L620.5 -25.8 L621.5 -29.9 L622.5 -34.1 L624.3 -33.7 L623.3 -29.5 L622.3 -25.3 L621.3 -21.2 L620.3 -17.1 L619.3 -13.0 L618.3 -9.0 L617.3 -5.0 L616.3 -1.0 L615.3 2.9 L614.3 6.8 L613.3 10.7 L612.3 14.5 L611.3 18.3 L610.3 22.1 L609.3 25.8 L608.3 29.5 L607.3 33.1 L606.3 36.8 L605.3 40.3 L604.3 43.9 L603.3 47.4 L602.3 50.9 L601.3 54.3 L600.3 57.8 L599.3 61.1 L598.3 64.5 L597.3 67.8 L596.3 71.1 L595.3 74.3 L594.3 77.5 L593.3 80.7 L592.3 83.8 L591.3 86.9 L590.3 90.0 L589.3 93.0 L588.3 96.0 L587.3 99.0 L586.3 102.0 L585.3 104.9 L584.3 107.7 L583.3 110.6 L582.3 113.4 L581.3 116.1 L580.3 118.9 L579.3 121.6 L578.3 124.2 L577.3 126.9 L576.3 129.5 L575.3 132.1 L574.3 134.6 L573.3 137.1 L572.3 139.6 L571.3 142.0 L570.3 144.4 L569.3 146.8 L568.3 149.1 L567.3 151.4 L566.3 153.7 L565.3 155.9 L564.3 158.1 L563.3 160.3 L562.3 162.5 L561.3 164.6 L560.3 166.6 L559.3 168.7 L558.3 170.7 L557.3 172.7 L556.3 174.6 L555.3 176.5 L554.3 178.4 L553.3 180.3 L552.3 182.1 L551.3 183.9 L550.3 185.6 L549.3 187.4 L548.3 189.1 L547.3 190.7 L546.3 192.3 L545.3 193.9 L544.3 195.5 L543.3 197.0 L542.3 198.5 L541.3 200.0 L540.3 201.4 L539.3 202.8 L538.3 204.2 L537.3 205.5 L536.3 206.8 L535.3 208.1 L534.3 209.4 L533.3 210.6 L532.3 211.8 L531.3 212.9 L530.3 214.0 L529.3 215.1 L528.3 216.2 L527.2 217.2 L526.2 218.2 L525.2 219.1 L524.2 220.0 L523.2 220.9 L522.2 221.8 L521.2 222.6 L520.2 223.4 L519.1 224.2 L518.1 224.9 L517.1 225.6 L516.1 226.3 L515.1 227.0 L514.0 227.6 L513.0 228.1 L512.0 228.7 L511.0 229.2 L509.9 229.7 L508.9 230.1 L507.9 230.5 L506.8 230.9 L505.8 231.3 L504.8 231.6 L503.7 231.9 L502.7 232.1 L501.7 232.4 L500.6 232.6 L499.6 232.7 L498.5 232.8 L497.5 232.9 L496.4 233.0 L495.4 233.0 L494.4 233.0 L493.3 232.9Z" fill="rgb(48,48,48)" filter="url(#bl16)" style="mix-blend-mode:plus-lighter"/>
<path d="M493.9 284.4 L494.6 284.4 L495.4 284.4 L496.2 284.4 L496.9 284.4 L497.7 284.4 L498.5 284.4 L499.2 284.3 L500.0 284.2 L500.8 284.1 L501.6 284.0 L502.4 283.8 L503.2 283.6 L504.0 283.4 L504.8 283.1 L505.6 282.9 L506.5 282.6 L507.3 282.2 L508.2 281.9 L509.0 281.5 L509.9 281.1 L510.8 280.6 L511.6 280.1 L512.5 279.6 L513.4 279.1 L514.3 278.5 L515.2 277.9 L516.1 277.3 L517.0 276.6 L518.0 275.9 L518.9 275.2 L519.8 274.4 L520.8 273.6 L521.7 272.8 L522.7 271.9 L523.6 271.0 L524.6 270.1 L525.5 269.1 L526.5 268.1 L527.5 267.1 L528.4 266.0 L529.4 264.9 L530.4 263.8 L531.4 262.6 L532.3 261.4 L533.3 260.1 L534.3 258.9 L535.3 257.6 L536.3 256.2 L537.3 254.9 L538.3 253.5 L539.3 252.0 L540.3 250.5 L541.3 249.0 L542.3 247.5 L543.3 245.9 L544.3 244.3 L545.3 242.6 L546.3 241.0 L547.3 239.3 L548.3 237.5 L549.3 235.7 L550.4 233.9 L551.4 232.0 L552.4 230.1 L553.4 228.2 L554.4 226.3 L555.4 224.3 L556.5 222.2 L557.5 220.2 L558.5 218.1 L559.5 215.9 L560.5 213.7 L561.6 211.5 L562.6 209.3 L563.6 207.0 L564.6 204.7 L565.7 202.3 L566.7 200.0 L567.7 197.5 L568.7 195.1 L569.8 192.6 L570.8 190.0 L571.8 187.5 L572.8 184.8 L573.9 182.2 L574.9 179.5 L575.9 176.8 L577.0 174.0 L578.0 171.2 L579.0 168.4 L580.1 165.5 L581.1 162.6 L582.1 159.7 L583.1 156.7 L584.2 153.7 L585.2 150.6 L586.2 147.5 L587.3 144.3 L588.3 141.2 L589.3 137.9 L590.4 134.7 L591.4 131.4 L592.4 128.1 L593.5 124.7 L594.5 121.3 L595.5 117.8 L596.6 114.3 L597.6 110.8 L598.6 107.2 L599.7 103.6 L600.7 99.9 L601.7 96.2 L602.8 92.4 L603.8 88.7 L604.8 84.8 L605.8 80.9 L606.9 77.0 L607.9 73.1 L608.9 69.1 L610.0 65.0 L611.0 61.0 L612.0 56.8 L613.1 52.7 L614.1 48.4 L615.1 44.2 L616.2 39.9 L617.2 35.5 L618.2 31.1 L619.3 26.7 L620.3 22.2 L621.3 17.7 L622.4 13.1 L623.4 8.5 L624.4 3.8 L625.5 -0.9 L626.5 -5.6 L627.5 -10.4 L628.5 -15.3 L629.5 -20.2 L630.5 -25.1 L631.5 -30.1 L632.5 -35.2 L638.3 -34.0 L637.3 -29.0 L636.3 -24.0 L635.3 -19.0 L634.3 -14.1 L633.3 -9.2 L632.3 -4.4 L631.3 0.4 L630.4 5.1 L629.4 9.8 L628.4 14.4 L627.5 19.0 L626.5 23.6 L625.5 28.1 L624.6 32.6 L623.6 37.0 L622.6 41.4 L621.7 45.7 L620.7 50.0 L619.7 54.2 L618.8 58.4 L617.8 62.6 L616.8 66.7 L615.9 70.8 L614.9 74.8 L613.9 78.8 L613.0 82.8 L612.0 86.7 L611.0 90.5 L610.0 94.4 L609.1 98.1 L608.1 101.9 L607.1 105.6 L606.2 109.3 L605.2 112.9 L604.2 116.5 L603.3 120.0 L602.3 123.5 L601.3 127.0 L600.4 130.4 L599.4 133.8 L598.4 137.1 L597.5 140.4 L596.5 143.7 L595.5 146.9 L594.6 150.1 L593.6 153.3 L592.6 156.4 L591.7 159.5 L590.7 162.5 L589.7 165.5 L588.7 168.5 L587.8 171.4 L586.8 174.3 L585.8 177.2 L584.9 180.0 L583.9 182.8 L582.9 185.5 L582.0 188.3 L581.0 190.9 L580.0 193.6 L579.0 196.2 L578.1 198.8 L577.1 201.3 L576.1 203.8 L575.1 206.3 L574.2 208.7 L573.2 211.1 L572.2 213.5 L571.2 215.8 L570.3 218.1 L569.3 220.4 L568.3 222.6 L567.3 224.8 L566.3 226.9 L565.4 229.1 L564.4 231.2 L563.4 233.2 L562.4 235.3 L561.4 237.3 L560.4 239.2 L559.5 241.1 L558.5 243.0 L557.5 244.9 L556.5 246.7 L555.5 248.6 L554.5 250.3 L553.5 252.1 L552.5 253.8 L551.5 255.5 L550.5 257.1 L549.5 258.7 L548.5 260.3 L547.5 261.9 L546.5 263.4 L545.5 264.9 L544.5 266.3 L543.5 267.8 L542.5 269.2 L541.4 270.5 L540.4 271.9 L539.4 273.2 L538.4 274.5 L537.3 275.7 L536.3 276.9 L535.3 278.1 L534.2 279.3 L533.2 280.4 L532.1 281.5 L531.1 282.6 L530.0 283.6 L529.0 284.7 L527.9 285.6 L526.8 286.6 L525.8 287.5 L524.7 288.4 L523.6 289.3 L522.5 290.1 L521.4 290.9 L520.3 291.7 L519.2 292.4 L518.0 293.2 L516.9 293.8 L515.8 294.5 L514.6 295.1 L513.5 295.7 L512.3 296.3 L511.2 296.8 L510.0 297.3 L508.8 297.7 L507.6 298.1 L506.4 298.5 L505.2 298.9 L504.0 299.2 L502.8 299.5 L501.6 299.7 L500.3 299.9 L499.1 300.1 L497.9 300.2 L496.6 300.3 L495.4 300.4 L494.2 300.4 L492.9 300.3Z" fill="rgb(23,23,23)" filter="url(#bl17)" style="mix-blend-mode:plus-lighter"/>
<path d="M493.6 289.3 L494.5 289.4 L495.4 289.4 L496.3 289.4 L497.2 289.4 L498.1 289.3 L499.0 289.2 L500.0 289.1 L500.9 289.0 L501.8 288.8 L502.7 288.6 L503.6 288.4 L504.6 288.2 L505.5 287.9 L506.4 287.6 L507.4 287.2 L508.3 286.9 L509.3 286.5 L510.2 286.0 L511.1 285.6 L512.1 285.1 L513.0 284.6 L514.0 284.0 L515.0 283.4 L515.9 282.8 L516.9 282.2 L517.9 281.5 L518.8 280.8 L519.8 280.0 L520.8 279.3 L521.7 278.5 L522.7 277.6 L523.7 276.8 L524.7 275.9 L525.7 274.9 L526.6 274.0 L527.6 273.0 L528.6 272.0 L529.6 270.9 L530.6 269.8 L531.6 268.7 L532.6 267.5 L533.6 266.3 L534.6 265.1 L535.6 263.9 L536.6 262.6 L537.6 261.3 L538.6 259.9 L539.6 258.5 L540.6 257.1 L541.6 255.6 L542.6 254.2 L543.6 252.6 L544.6 251.1 L545.6 249.5 L546.6 247.9 L547.6 246.2 L548.6 244.5 L549.6 242.8 L550.6 241.1 L551.6 239.3 L552.6 237.5 L553.6 235.6 L554.6 233.7 L555.6 231.8 L556.6 229.8 L557.6 227.8 L558.7 225.8 L559.7 223.8 L560.7 221.7 L561.7 219.5 L562.7 217.4 L563.7 215.2 L564.7 212.9 L565.7 210.7 L566.7 208.3 L567.7 206.0 L568.8 203.6 L569.8 201.2 L570.8 198.8 L571.8 196.3 L572.8 193.8 L573.8 191.2 L574.8 188.6 L575.8 186.0 L576.9 183.3 L577.9 180.6 L578.9 177.9 L579.9 175.1 L580.9 172.3 L581.9 169.4 L582.9 166.5 L583.9 163.6 L585.0 160.6 L586.0 157.6 L587.0 154.6 L588.0 151.5 L589.0 148.4 L590.0 145.2 L591.0 142.0 L592.1 138.8 L593.1 135.5 L594.1 132.2 L595.1 128.8 L596.1 125.4 L597.1 122.0 L598.1 118.5 L599.2 115.0 L600.2 111.5 L601.2 107.9 L602.2 104.2 L603.2 100.6 L604.2 96.8 L605.2 93.1 L606.2 89.3 L607.2 85.4 L608.2 81.6 L609.2 77.6 L610.3 73.7 L611.3 69.7 L612.3 65.6 L613.3 61.5 L614.3 57.4 L615.3 53.2 L616.3 49.0 L617.3 44.7 L618.3 40.4 L619.3 36.0 L620.4 31.6 L621.4 27.2 L622.4 22.7 L623.4 18.1 L624.4 13.6 L625.4 8.9 L626.4 4.3 L627.4 -0.5 L628.4 -5.2 L629.4 -10.0 L630.4 -14.9 L631.4 -19.8 L632.4 -24.8 L633.4 -29.8 L634.4 -34.8 L636.4 -34.4 L635.4 -29.4 L634.4 -24.4 L633.4 -19.4 L632.4 -14.5 L631.4 -9.6 L630.4 -4.8 L629.4 -0.0 L628.4 4.7 L627.4 9.4 L626.4 14.0 L625.4 18.6 L624.4 23.1 L623.4 27.6 L622.4 32.1 L621.5 36.5 L620.5 40.9 L619.5 45.2 L618.5 49.5 L617.5 53.7 L616.5 57.9 L615.5 62.0 L614.5 66.2 L613.5 70.2 L612.5 74.2 L611.6 78.2 L610.6 82.2 L609.6 86.0 L608.6 89.9 L607.6 93.7 L606.6 97.5 L605.6 101.2 L604.6 104.9 L603.6 108.6 L602.6 112.2 L601.6 115.7 L600.7 119.3 L599.7 122.7 L598.7 126.2 L597.7 129.6 L596.7 133.0 L595.7 136.3 L594.7 139.6 L593.8 142.9 L592.8 146.1 L591.8 149.3 L590.8 152.4 L589.8 155.5 L588.8 158.6 L587.8 161.6 L586.9 164.6 L585.9 167.5 L584.9 170.4 L583.9 173.3 L582.9 176.1 L581.9 179.0 L580.9 181.7 L579.9 184.4 L579.0 187.1 L578.0 189.8 L577.0 192.4 L576.0 195.0 L575.0 197.6 L574.0 200.1 L573.0 202.5 L572.0 205.0 L571.1 207.4 L570.1 209.8 L569.1 212.1 L568.1 214.4 L567.1 216.7 L566.1 218.9 L565.1 221.1 L564.1 223.3 L563.1 225.4 L562.1 227.5 L561.2 229.6 L560.2 231.6 L559.2 233.6 L558.2 235.6 L557.2 237.5 L556.2 239.4 L555.2 241.3 L554.2 243.1 L553.2 244.9 L552.2 246.7 L551.2 248.4 L550.2 250.1 L549.2 251.8 L548.2 253.4 L547.2 255.0 L546.2 256.6 L545.2 258.1 L544.2 259.6 L543.2 261.1 L542.2 262.5 L541.2 263.9 L540.2 265.3 L539.2 266.7 L538.2 268.0 L537.2 269.3 L536.2 270.5 L535.2 271.8 L534.2 273.0 L533.2 274.1 L532.2 275.3 L531.2 276.4 L530.2 277.4 L529.1 278.5 L528.1 279.5 L527.1 280.5 L526.1 281.4 L525.1 282.3 L524.0 283.2 L523.0 284.1 L522.0 284.9 L520.9 285.7 L519.9 286.5 L518.9 287.2 L517.8 287.9 L516.8 288.6 L515.8 289.2 L514.7 289.8 L513.7 290.4 L512.6 290.9 L511.5 291.5 L510.5 292.0 L509.4 292.4 L508.4 292.8 L507.3 293.2 L506.2 293.6 L505.2 293.9 L504.1 294.2 L503.0 294.5 L501.9 294.7 L500.8 294.9 L499.8 295.1 L498.7 295.2 L497.6 295.3 L496.5 295.4 L495.4 295.4 L494.3 295.4 L493.2 295.3Z" fill="rgb(28,28,28)" filter="url(#bl18)" style="mix-blend-mode:plus-lighter"/>
<path d="M494.0 384.5 L494.7 384.5 L495.4 384.5 L496.1 384.5 L496.8 384.5 L497.4 384.5 L498.1 384.5 L498.8 384.4 L499.5 384.3 L500.2 384.2 L501.0 384.0 L501.7 383.9 L502.4 383.7 L503.2 383.4 L503.9 383.2 L504.7 382.9 L505.4 382.6 L506.2 382.3 L507.0 381.9 L507.8 381.5 L508.6 381.1 L509.5 380.6 L510.3 380.1 L511.1 379.6 L512.0 379.1 L512.8 378.5 L513.7 377.9 L514.6 377.2 L515.5 376.5 L516.4 375.8 L517.3 375.0 L518.2 374.2 L519.1 373.4 L520.0 372.5 L520.9 371.6 L521.8 370.7 L522.8 369.7 L523.7 368.7 L524.6 367.7 L525.6 366.6 L526.5 365.5 L527.5 364.3 L528.5 363.2 L529.4 361.9 L530.4 360.7 L531.3 359.4 L532.3 358.1 L533.3 356.7 L534.3 355.3 L535.2 353.9 L536.2 352.4 L537.2 350.9 L538.2 349.4 L539.2 347.8 L540.2 346.2 L541.2 344.6 L542.2 342.9 L543.1 341.2 L544.1 339.4 L545.1 337.7 L546.1 335.8 L547.1 334.0 L548.1 332.1 L549.1 330.2 L550.1 328.2 L551.2 326.2 L552.2 324.2 L553.2 322.2 L554.2 320.1 L555.2 317.9 L556.2 315.8 L557.3 313.6 L558.3 311.4 L559.3 309.1 L560.3 306.8 L561.4 304.5 L562.4 302.1 L563.4 299.7 L564.4 297.2 L565.5 294.8 L566.5 292.3 L567.5 289.7 L568.6 287.1 L569.6 284.5 L570.6 281.9 L571.6 279.2 L572.7 276.4 L573.7 273.7 L574.7 270.9 L575.8 268.1 L576.8 265.2 L577.8 262.3 L578.9 259.4 L579.9 256.4 L580.9 253.4 L582.0 250.4 L583.0 247.3 L584.1 244.2 L585.1 241.0 L586.1 237.8 L587.2 234.6 L588.2 231.4 L589.2 228.1 L590.3 224.7 L591.3 221.4 L592.3 218.0 L593.4 214.5 L594.4 211.1 L595.5 207.6 L596.5 204.0 L597.5 200.4 L598.6 196.8 L599.6 193.2 L600.6 189.5 L601.7 185.8 L602.7 182.0 L603.8 178.2 L604.8 174.4 L605.8 170.5 L606.9 166.6 L607.9 162.6 L609.0 158.7 L610.0 154.6 L611.0 150.6 L612.1 146.5 L613.1 142.4 L614.2 138.2 L615.2 134.0 L616.2 129.8 L617.3 125.5 L618.3 121.2 L619.4 116.8 L620.4 112.4 L621.5 108.0 L622.5 103.5 L623.5 99.0 L624.5 94.5 L625.5 89.9 L626.5 85.3 L627.5 80.6 L628.5 75.9 L629.5 71.1 L630.5 66.4 L631.5 61.6 L632.5 56.7 L633.5 51.8 L634.5 46.9 L635.5 41.9 L636.5 36.9 L637.5 31.8 L638.5 26.8 L639.5 21.6 L640.5 16.5 L641.5 11.3 L642.5 6.0 L643.5 0.8 L644.5 -4.6 L645.5 -9.9 L646.5 -15.3 L647.5 -20.8 L648.5 -26.2 L649.5 -31.8 L650.5 -37.3 L660.3 -35.6 L659.3 -30.0 L658.3 -24.5 L657.3 -19.0 L656.3 -13.5 L655.3 -8.1 L654.3 -2.7 L653.3 2.6 L652.3 7.9 L651.3 13.2 L650.3 18.4 L649.3 23.5 L648.3 28.7 L647.3 33.8 L646.3 38.8 L645.3 43.9 L644.3 48.9 L643.3 53.8 L642.3 58.7 L641.3 63.6 L640.3 68.4 L639.3 73.2 L638.3 78.0 L637.3 82.7 L636.3 87.4 L635.3 92.0 L634.3 96.6 L633.3 101.2 L632.3 105.7 L631.4 110.2 L630.4 114.7 L629.5 119.1 L628.5 123.5 L627.6 127.9 L626.6 132.2 L625.7 136.5 L624.8 140.7 L623.8 144.9 L622.9 149.1 L621.9 153.2 L621.0 157.3 L620.0 161.4 L619.1 165.4 L618.1 169.4 L617.2 173.4 L616.2 177.3 L615.3 181.2 L614.4 185.1 L613.4 188.9 L612.5 192.6 L611.5 196.4 L610.6 200.1 L609.6 203.8 L608.7 207.4 L607.7 211.0 L606.8 214.6 L605.8 218.1 L604.9 221.6 L603.9 225.1 L603.0 228.5 L602.0 231.9 L601.1 235.3 L600.1 238.6 L599.2 241.9 L598.2 245.1 L597.3 248.3 L596.3 251.5 L595.4 254.7 L594.4 257.8 L593.5 260.9 L592.5 263.9 L591.6 266.9 L590.6 269.9 L589.7 272.9 L588.7 275.8 L587.8 278.7 L586.8 281.5 L585.8 284.3 L584.9 287.1 L583.9 289.9 L583.0 292.6 L582.0 295.3 L581.1 297.9 L580.1 300.5 L579.1 303.1 L578.2 305.7 L577.2 308.2 L576.3 310.7 L575.3 313.1 L574.3 315.5 L573.4 317.9 L572.4 320.3 L571.4 322.6 L570.5 324.9 L569.5 327.1 L568.5 329.4 L567.6 331.6 L566.6 333.7 L565.7 335.9 L564.7 338.0 L563.7 340.0 L562.8 342.1 L561.8 344.1 L560.8 346.1 L559.9 348.0 L558.9 349.9 L557.9 351.8 L557.0 353.7 L556.0 355.5 L555.0 357.3 L554.0 359.1 L553.1 360.8 L552.1 362.5 L551.1 364.2 L550.1 365.9 L549.1 367.5 L548.1 369.1 L547.1 370.6 L546.1 372.1 L545.1 373.6 L544.0 375.1 L543.0 376.6 L542.0 378.0 L541.0 379.4 L539.9 380.7 L538.9 382.0 L537.8 383.3 L536.8 384.6 L535.7 385.8 L534.6 387.0 L533.5 388.2 L532.5 389.4 L531.4 390.5 L530.2 391.6 L529.1 392.7 L528.0 393.7 L526.9 394.7 L525.7 395.7 L524.5 396.6 L523.4 397.5 L522.2 398.4 L521.0 399.3 L519.8 400.1 L518.5 400.9 L517.3 401.7 L516.0 402.4 L514.7 403.1 L513.4 403.7 L512.1 404.3 L510.8 404.9 L509.5 405.4 L508.1 405.9 L506.8 406.4 L505.4 406.8 L504.0 407.2 L502.6 407.5 L501.2 407.8 L499.7 408.0 L498.3 408.2 L496.9 408.4 L495.4 408.5 L493.9 408.5 L492.5 408.4Z" fill="rgb(26,26,26)" filter="url(#bl19)" style="mix-blend-mode:plus-lighter"/>
<path d="M493.6 391.4 L494.5 391.5 L495.4 391.5 L496.3 391.5 L497.2 391.5 L498.1 391.4 L499.0 391.3 L499.9 391.2 L500.8 391.1 L501.8 390.9 L502.7 390.7 L503.6 390.4 L504.5 390.2 L505.5 389.9 L506.4 389.5 L507.3 389.2 L508.3 388.8 L509.2 388.4 L510.1 387.9 L511.1 387.4 L512.0 386.9 L513.0 386.3 L513.9 385.8 L514.9 385.1 L515.9 384.5 L516.8 383.8 L517.8 383.1 L518.8 382.3 L519.7 381.5 L520.7 380.7 L521.7 379.9 L522.7 379.0 L523.6 378.1 L524.6 377.1 L525.6 376.1 L526.6 375.1 L527.6 374.1 L528.6 373.0 L529.5 371.9 L530.5 370.7 L531.5 369.5 L532.5 368.3 L533.5 367.0 L534.5 365.8 L535.5 364.4 L536.5 363.1 L537.5 361.7 L538.5 360.3 L539.5 358.8 L540.5 357.3 L541.5 355.8 L542.5 354.2 L543.5 352.6 L544.5 351.0 L545.5 349.4 L546.5 347.7 L547.5 345.9 L548.5 344.2 L549.5 342.4 L550.5 340.6 L551.5 338.7 L552.5 336.8 L553.6 334.9 L554.6 332.9 L555.6 330.9 L556.6 328.9 L557.6 326.8 L558.6 324.7 L559.6 322.6 L560.6 320.4 L561.6 318.2 L562.6 316.0 L563.6 313.7 L564.6 311.4 L565.6 309.0 L566.6 306.7 L567.7 304.2 L568.7 301.8 L569.7 299.3 L570.7 296.8 L571.7 294.3 L572.7 291.7 L573.7 289.1 L574.7 286.4 L575.7 283.7 L576.7 281.0 L577.7 278.3 L578.7 275.5 L579.8 272.7 L580.8 269.8 L581.8 266.9 L582.8 264.0 L583.8 261.0 L584.8 258.0 L585.8 255.0 L586.8 251.9 L587.8 248.8 L588.8 245.7 L589.8 242.5 L590.9 239.3 L591.9 236.0 L592.9 232.8 L593.9 229.5 L594.9 226.1 L595.9 222.7 L596.9 219.3 L597.9 215.8 L598.9 212.4 L599.9 208.8 L601.0 205.3 L602.0 201.7 L603.0 198.0 L604.0 194.4 L605.0 190.6 L606.0 186.9 L607.0 183.1 L608.0 179.3 L609.0 175.5 L610.0 171.6 L611.1 167.6 L612.1 163.7 L613.1 159.7 L614.1 155.6 L615.1 151.6 L616.1 147.5 L617.1 143.3 L618.1 139.1 L619.1 134.9 L620.2 130.7 L621.2 126.4 L622.2 122.0 L623.2 117.7 L624.2 113.3 L625.2 108.8 L626.2 104.4 L627.2 99.8 L628.2 95.3 L629.2 90.7 L630.2 86.1 L631.2 81.4 L632.2 76.7 L633.2 71.9 L634.2 67.1 L635.2 62.3 L636.2 57.5 L637.2 52.6 L638.2 47.6 L639.2 42.7 L640.2 37.6 L641.2 32.6 L642.2 27.5 L643.2 22.4 L644.2 17.2 L645.2 12.0 L646.2 6.7 L647.2 1.5 L648.2 -3.9 L649.2 -9.2 L650.2 -14.6 L651.2 -20.1 L652.2 -25.6 L653.2 -31.1 L654.2 -36.6 L656.6 -36.2 L655.6 -30.7 L654.6 -25.1 L653.6 -19.6 L652.6 -14.2 L651.6 -8.8 L650.6 -3.4 L649.6 1.9 L648.6 7.2 L647.6 12.4 L646.6 17.6 L645.6 22.8 L644.6 28.0 L643.6 33.0 L642.6 38.1 L641.6 43.1 L640.6 48.1 L639.6 53.0 L638.6 57.9 L637.6 62.8 L636.6 67.6 L635.6 72.4 L634.6 77.2 L633.6 81.9 L632.6 86.6 L631.6 91.2 L630.6 95.8 L629.6 100.4 L628.6 104.9 L627.6 109.4 L626.6 113.8 L625.6 118.2 L624.6 122.6 L623.6 126.9 L622.6 131.2 L621.7 135.5 L620.7 139.7 L619.7 143.9 L618.7 148.1 L617.7 152.2 L616.7 156.3 L615.7 160.3 L614.7 164.3 L613.7 168.3 L612.8 172.3 L611.8 176.2 L610.8 180.0 L609.8 183.9 L608.8 187.6 L607.8 191.4 L606.8 195.1 L605.8 198.8 L604.8 202.5 L603.8 206.1 L602.9 209.6 L601.9 213.2 L600.9 216.7 L599.9 220.2 L598.9 223.6 L597.9 227.0 L596.9 230.4 L595.9 233.7 L594.9 237.0 L593.9 240.2 L593.0 243.5 L592.0 246.7 L591.0 249.8 L590.0 252.9 L589.0 256.0 L588.0 259.1 L587.0 262.1 L586.0 265.1 L585.0 268.0 L584.0 270.9 L583.0 273.8 L582.1 276.7 L581.1 279.5 L580.1 282.2 L579.1 285.0 L578.1 287.7 L577.1 290.4 L576.1 293.0 L575.1 295.6 L574.1 298.2 L573.1 300.7 L572.1 303.2 L571.1 305.7 L570.2 308.1 L569.2 310.5 L568.2 312.9 L567.2 315.2 L566.2 317.5 L565.2 319.8 L564.2 322.0 L563.2 324.2 L562.2 326.4 L561.2 328.5 L560.2 330.6 L559.2 332.7 L558.2 334.7 L557.2 336.7 L556.3 338.7 L555.3 340.6 L554.3 342.6 L553.3 344.4 L552.3 346.3 L551.3 348.1 L550.3 349.8 L549.3 351.6 L548.3 353.3 L547.3 355.0 L546.3 356.6 L545.3 358.2 L544.3 359.8 L543.3 361.3 L542.3 362.9 L541.3 364.3 L540.3 365.8 L539.3 367.2 L538.3 368.6 L537.3 369.9 L536.3 371.3 L535.3 372.5 L534.3 373.8 L533.3 375.0 L532.2 376.2 L531.2 377.4 L530.2 378.5 L529.2 379.6 L528.2 380.7 L527.2 381.7 L526.1 382.7 L525.1 383.7 L524.1 384.6 L523.1 385.5 L522.0 386.4 L521.0 387.2 L520.0 388.0 L518.9 388.8 L517.9 389.5 L516.9 390.3 L515.8 390.9 L514.8 391.6 L513.7 392.2 L512.7 392.8 L511.6 393.3 L510.5 393.8 L509.5 394.3 L508.4 394.8 L507.3 395.2 L506.3 395.6 L505.2 395.9 L504.1 396.2 L503.0 396.5 L502.0 396.8 L500.9 397.0 L499.8 397.1 L498.7 397.3 L497.6 397.4 L496.5 397.5 L495.4 397.5 L494.3 397.5 L493.2 397.4Z" fill="rgb(10,10,10)" filter="url(#bl7)" style="mix-blend-mode:plus-lighter"/>
<path d="M493.9 496.0 L494.7 496.0 L495.4 496.0 L496.1 496.0 L496.9 496.0 L497.6 495.9 L498.3 495.8 L499.1 495.7 L499.8 495.6 L500.6 495.5 L501.3 495.3 L502.1 495.1 L502.8 494.9 L503.6 494.6 L504.4 494.4 L505.1 494.1 L505.9 493.8 L506.7 493.4 L507.5 493.0 L508.3 492.6 L509.1 492.2 L509.9 491.8 L510.8 491.3 L511.6 490.8 L512.4 490.2 L513.3 489.7 L514.1 489.1 L515.0 488.4 L515.9 487.8 L516.7 487.1 L517.6 486.3 L518.5 485.6 L519.4 484.8 L520.3 484.0 L521.2 483.1 L522.1 482.3 L523.0 481.4 L523.9 480.4 L524.8 479.4 L525.7 478.4 L526.6 477.4 L527.6 476.3 L528.5 475.2 L529.4 474.1 L530.4 472.9 L531.3 471.8 L532.2 470.5 L533.2 469.3 L534.1 468.0 L535.1 466.7 L536.0 465.3 L537.0 463.9 L537.9 462.5 L538.9 461.1 L539.8 459.6 L540.8 458.1 L541.7 456.5 L542.7 455.0 L543.7 453.4 L544.6 451.7 L545.6 450.1 L546.6 448.4 L547.5 446.6 L548.5 444.9 L549.5 443.1 L550.4 441.3 L551.4 439.4 L552.4 437.5 L553.4 435.6 L554.3 433.7 L555.3 431.7 L556.3 429.7 L557.3 427.6 L558.3 425.6 L559.2 423.5 L560.2 421.3 L561.2 419.2 L562.2 417.0 L563.2 414.7 L564.1 412.5 L565.1 410.2 L566.1 407.9 L567.1 405.5 L568.1 403.2 L569.1 400.8 L570.0 398.3 L571.0 395.8 L572.0 393.3 L573.0 390.8 L574.0 388.2 L575.0 385.7 L576.0 383.0 L577.0 380.4 L577.9 377.7 L578.9 375.0 L579.9 372.2 L580.9 369.5 L581.9 366.6 L582.9 363.8 L583.9 360.9 L584.9 358.0 L585.9 355.1 L586.9 352.2 L587.9 349.2 L588.8 346.1 L589.8 343.1 L590.8 340.0 L591.8 336.9 L592.8 333.8 L593.8 330.6 L594.8 327.4 L595.8 324.2 L596.8 320.9 L597.8 317.6 L598.8 314.3 L599.8 310.9 L600.8 307.5 L601.8 304.1 L602.8 300.7 L603.7 297.2 L604.7 293.7 L605.7 290.2 L606.7 286.6 L607.7 283.0 L608.7 279.4 L609.7 275.7 L610.7 272.0 L611.7 268.3 L612.7 264.6 L613.7 260.8 L614.7 257.0 L615.7 253.1 L616.7 249.3 L617.7 245.4 L618.7 241.4 L619.7 237.5 L620.7 233.5 L621.7 229.5 L622.7 225.4 L623.7 221.3 L624.7 217.2 L625.6 213.1 L626.6 208.9 L627.6 204.7 L628.6 200.5 L629.6 196.2 L630.6 191.9 L631.6 187.6 L632.6 183.3 L633.6 178.9 L634.6 174.5 L635.6 170.0 L636.6 165.5 L637.6 161.0 L638.6 156.5 L639.6 151.9 L640.6 147.4 L641.6 142.7 L642.6 138.1 L643.6 133.4 L644.6 128.7 L645.6 123.9 L646.6 119.2 L647.6 114.4 L648.6 109.5 L649.6 104.7 L650.6 99.8 L651.6 94.8 L652.6 89.9 L653.6 84.9 L654.6 79.9 L655.6 74.8 L656.6 69.8 L657.6 64.7 L675.2 68.1 L674.2 73.2 L673.2 78.3 L672.2 83.4 L671.2 88.4 L670.2 93.4 L669.2 98.4 L668.2 103.4 L667.2 108.3 L666.2 113.2 L665.2 118.0 L664.2 122.8 L663.2 127.6 L662.2 132.4 L661.2 137.1 L660.2 141.8 L659.2 146.5 L658.2 151.2 L657.2 155.8 L656.2 160.4 L655.2 164.9 L654.2 169.5 L653.2 173.9 L652.2 178.4 L651.2 182.9 L650.2 187.3 L649.2 191.6 L648.2 196.0 L647.2 200.3 L646.2 204.6 L645.2 208.9 L644.2 213.1 L643.2 217.3 L642.1 221.5 L641.1 225.6 L640.1 229.7 L639.1 233.8 L638.1 237.8 L637.1 241.9 L636.1 245.8 L635.1 249.8 L634.1 253.7 L633.1 257.6 L632.1 261.5 L631.1 265.3 L630.1 269.2 L629.1 272.9 L628.1 276.7 L627.1 280.4 L626.1 284.1 L625.1 287.8 L624.1 291.4 L623.1 295.0 L622.1 298.6 L621.1 302.1 L620.0 305.6 L619.0 309.1 L618.0 312.6 L617.0 316.0 L616.0 319.4 L615.0 322.8 L614.0 326.1 L613.0 329.4 L612.0 332.7 L611.0 335.9 L610.0 339.2 L609.0 342.3 L608.0 345.5 L607.0 348.6 L606.0 351.7 L604.9 354.8 L603.9 357.8 L602.9 360.9 L601.9 363.8 L600.9 366.8 L599.9 369.7 L598.9 372.6 L597.9 375.5 L596.9 378.3 L595.9 381.1 L594.9 383.9 L593.8 386.6 L592.8 389.3 L591.8 392.0 L590.8 394.7 L589.8 397.3 L588.8 399.9 L587.8 402.5 L586.8 405.0 L585.7 407.5 L584.7 410.0 L583.7 412.5 L582.7 414.9 L581.7 417.3 L580.7 419.6 L579.6 422.0 L578.6 424.3 L577.6 426.6 L576.6 428.8 L575.6 431.0 L574.5 433.2 L573.5 435.4 L572.5 437.5 L571.5 439.6 L570.5 441.7 L569.4 443.7 L568.4 445.7 L567.4 447.7 L566.4 449.7 L565.3 451.6 L564.3 453.5 L563.3 455.4 L562.2 457.2 L561.2 459.0 L560.2 460.8 L559.1 462.6 L558.1 464.3 L557.1 466.0 L556.0 467.7 L555.0 469.3 L553.9 470.9 L552.9 472.5 L551.8 474.0 L550.8 475.6 L549.7 477.1 L548.7 478.5 L547.6 480.0 L546.6 481.4 L545.5 482.8 L544.4 484.1 L543.4 485.5 L542.3 486.8 L541.2 488.0 L540.2 489.3 L539.1 490.5 L538.0 491.7 L536.9 492.8 L535.8 494.0 L534.7 495.1 L533.6 496.1 L532.5 497.2 L531.4 498.2 L530.3 499.2 L529.2 500.1 L528.1 501.1 L526.9 502.0 L525.8 502.8 L524.7 503.7 L523.5 504.5 L522.4 505.3 L521.2 506.0 L520.0 506.7 L518.9 507.4 L517.7 508.1 L516.5 508.7 L515.3 509.3 L514.1 509.8 L512.9 510.4 L511.7 510.8 L510.4 511.3 L509.2 511.7 L508.0 512.1 L506.7 512.5 L505.5 512.8 L504.2 513.1 L503.0 513.3 L501.7 513.5 L500.5 513.7 L499.2 513.8 L497.9 513.9 L496.7 514.0 L495.4 514.0 L494.1 514.0 L492.9 513.9Z" fill="rgb(23,23,23)" filter="url(#bl15)" style="mix-blend-mode:plus-lighter"/>
<path d="M493.9 579.0 L494.7 579.0 L495.4 579.0 L496.1 579.0 L496.9 579.0 L497.6 578.9 L498.3 578.8 L499.1 578.7 L499.8 578.6 L500.6 578.5 L501.3 578.3 L502.1 578.1 L502.8 577.9 L503.6 577.6 L504.4 577.4 L505.1 577.1 L505.9 576.8 L506.7 576.4 L507.5 576.0 L508.3 575.6 L509.1 575.2 L509.9 574.8 L510.8 574.3 L511.6 573.8 L512.4 573.2 L513.3 572.7 L514.1 572.1 L515.0 571.4 L515.9 570.8 L516.7 570.1 L517.6 569.3 L518.5 568.6 L519.4 567.8 L520.3 567.0 L521.2 566.1 L522.1 565.3 L523.0 564.4 L523.9 563.4 L524.8 562.4 L525.7 561.4 L526.6 560.4 L527.6 559.3 L528.5 558.2 L529.4 557.1 L530.4 555.9 L531.3 554.8 L532.2 553.5 L533.2 552.3 L534.1 551.0 L535.1 549.7 L536.0 548.3 L537.0 546.9 L537.9 545.5 L538.9 544.1 L539.8 542.6 L540.8 541.1 L541.7 539.5 L542.7 538.0 L543.7 536.4 L544.6 534.7 L545.6 533.1 L546.6 531.4 L547.5 529.6 L548.5 527.9 L549.5 526.1 L550.4 524.3 L551.4 522.4 L552.4 520.5 L553.4 518.6 L554.3 516.7 L555.3 514.7 L556.3 512.7 L557.3 510.6 L558.3 508.6 L559.2 506.5 L560.2 504.3 L561.2 502.2 L562.2 500.0 L563.2 497.7 L564.1 495.5 L565.1 493.2 L566.1 490.9 L567.1 488.5 L568.1 486.2 L569.1 483.8 L570.0 481.3 L571.0 478.8 L572.0 476.3 L573.0 473.8 L574.0 471.2 L575.0 468.7 L576.0 466.0 L577.0 463.4 L577.9 460.7 L578.9 458.0 L579.9 455.2 L580.9 452.5 L581.9 449.6 L582.9 446.8 L583.9 443.9 L584.9 441.0 L585.9 438.1 L586.9 435.2 L587.9 432.2 L588.8 429.1 L589.8 426.1 L590.8 423.0 L591.8 419.9 L592.8 416.8 L593.8 413.6 L594.8 410.4 L595.8 407.2 L596.8 403.9 L597.8 400.6 L598.8 397.3 L599.8 393.9 L600.8 390.5 L601.8 387.1 L602.8 383.7 L603.7 380.2 L604.7 376.7 L605.7 373.2 L606.7 369.6 L607.7 366.0 L608.7 362.4 L609.7 358.7 L610.7 355.0 L611.7 351.3 L612.7 347.6 L613.7 343.8 L614.7 340.0 L615.7 336.1 L616.7 332.3 L617.7 328.4 L618.7 324.4 L619.7 320.5 L620.7 316.5 L621.7 312.5 L622.7 308.4 L623.7 304.3 L624.7 300.2 L625.6 296.1 L626.6 291.9 L627.6 287.7 L628.6 283.5 L629.6 279.2 L630.6 274.9 L631.6 270.6 L632.6 266.3 L633.6 261.9 L634.6 257.5 L635.6 253.0 L636.6 248.5 L637.6 244.0 L638.6 239.5 L639.6 234.9 L640.6 230.4 L641.6 225.7 L642.6 221.1 L643.6 216.4 L644.6 211.7 L645.6 206.9 L646.6 202.2 L647.6 197.4 L648.6 192.5 L649.6 187.7 L650.6 182.8 L651.6 177.8 L652.6 172.9 L653.6 167.9 L654.6 162.9 L655.6 157.8 L656.6 152.8 L657.6 147.7 L675.2 151.1 L674.2 156.2 L673.2 161.3 L672.2 166.4 L671.2 171.4 L670.2 176.4 L669.2 181.4 L668.2 186.4 L667.2 191.3 L666.2 196.2 L665.2 201.0 L664.2 205.8 L663.2 210.6 L662.2 215.4 L661.2 220.1 L660.2 224.8 L659.2 229.5 L658.2 234.2 L657.2 238.8 L656.2 243.4 L655.2 247.9 L654.2 252.5 L653.2 256.9 L652.2 261.4 L651.2 265.9 L650.2 270.3 L649.2 274.6 L648.2 279.0 L647.2 283.3 L646.2 287.6 L645.2 291.9 L644.2 296.1 L643.2 300.3 L642.1 304.5 L641.1 308.6 L640.1 312.7 L639.1 316.8 L638.1 320.8 L637.1 324.9 L636.1 328.8 L635.1 332.8 L634.1 336.7 L633.1 340.6 L632.1 344.5 L631.1 348.3 L630.1 352.2 L629.1 355.9 L628.1 359.7 L627.1 363.4 L626.1 367.1 L625.1 370.8 L624.1 374.4 L623.1 378.0 L622.1 381.6 L621.1 385.1 L620.0 388.6 L619.0 392.1 L618.0 395.6 L617.0 399.0 L616.0 402.4 L615.0 405.8 L614.0 409.1 L613.0 412.4 L612.0 415.7 L611.0 418.9 L610.0 422.2 L609.0 425.3 L608.0 428.5 L607.0 431.6 L606.0 434.7 L604.9 437.8 L603.9 440.8 L602.9 443.9 L601.9 446.8 L600.9 449.8 L599.9 452.7 L598.9 455.6 L597.9 458.5 L596.9 461.3 L595.9 464.1 L594.9 466.9 L593.8 469.6 L592.8 472.3 L591.8 475.0 L590.8 477.7 L589.8 480.3 L588.8 482.9 L587.8 485.5 L586.8 488.0 L585.7 490.5 L584.7 493.0 L583.7 495.5 L582.7 497.9 L581.7 500.3 L580.7 502.6 L579.6 505.0 L578.6 507.3 L577.6 509.6 L576.6 511.8 L575.6 514.0 L574.5 516.2 L573.5 518.4 L572.5 520.5 L571.5 522.6 L570.5 524.7 L569.4 526.7 L568.4 528.7 L567.4 530.7 L566.4 532.7 L565.3 534.6 L564.3 536.5 L563.3 538.4 L562.2 540.2 L561.2 542.0 L560.2 543.8 L559.1 545.6 L558.1 547.3 L557.1 549.0 L556.0 550.7 L555.0 552.3 L553.9 553.9 L552.9 555.5 L551.8 557.0 L550.8 558.6 L549.7 560.1 L548.7 561.5 L547.6 563.0 L546.6 564.4 L545.5 565.8 L544.4 567.1 L543.4 568.5 L542.3 569.8 L541.2 571.0 L540.2 572.3 L539.1 573.5 L538.0 574.7 L536.9 575.8 L535.8 577.0 L534.7 578.1 L533.6 579.1 L532.5 580.2 L531.4 581.2 L530.3 582.2 L529.2 583.1 L528.1 584.1 L526.9 585.0 L525.8 585.8 L524.7 586.7 L523.5 587.5 L522.4 588.3 L521.2 589.0 L520.0 589.7 L518.9 590.4 L517.7 591.1 L516.5 591.7 L515.3 592.3 L514.1 592.8 L512.9 593.4 L511.7 593.8 L510.4 594.3 L509.2 594.7 L508.0 595.1 L506.7 595.5 L505.5 595.8 L504.2 596.1 L503.0 596.3 L501.7 596.5 L500.5 596.7 L499.2 596.8 L497.9 596.9 L496.7 597.0 L495.4 597.0 L494.1 597.0 L492.9 596.9Z" fill="rgb(20,20,20)" filter="url(#bl15)" style="mix-blend-mode:plus-lighter"/>
</g>
</g>
<line x1="205.9" y1="9.0" x2="205.9" y2="469.0" stroke="#000" stroke-width="1.6"/>
<line x1="495.4" y1="9.0" x2="495.4" y2="469.0" stroke="#000" stroke-width="1.6"/>
<line x1="363.8" y1="9.0" x2="627.5" y2="9.0" stroke="#000" stroke-width="1.2"/>
<line x1="74.3" y1="9.3" x2="337.6" y2="9.3" stroke="#000" stroke-opacity="0.35" stroke-width="1"/>
<g class="t">
<line x1="74.3" y1="9.0" x2="74.3" y2="469.0" stroke="#000" stroke-width="1.8"/>
<line x1="337.6" y1="9.0" x2="337.6" y2="469.0" stroke="#000" stroke-width="1.8"/>
<line x1="73.39999999999999" y1="469.0" x2="338.5" y2="469.0" stroke="#000" stroke-width="2"/>
<line x1="65.1" y1="9.00" x2="74.3" y2="9.00" stroke="#000" stroke-width="1.8"/>
<line x1="337.6" y1="9.00" x2="343.8" y2="9.00" stroke="#000" stroke-width="1.8"/>
<line x1="69.5" y1="47.33" x2="74.3" y2="47.33" stroke="#000" stroke-width="1.8"/>
<line x1="337.6" y1="47.33" x2="340.8" y2="47.33" stroke="#000" stroke-width="1.8"/>
<line x1="65.1" y1="85.67" x2="74.3" y2="85.67" stroke="#000" stroke-width="1.8"/>
<line x1="337.6" y1="85.67" x2="343.8" y2="85.67" stroke="#000" stroke-width="1.8"/>
<line x1="69.5" y1="124.00" x2="74.3" y2="124.00" stroke="#000" stroke-width="1.8"/>
<line x1="337.6" y1="124.00" x2="340.8" y2="124.00" stroke="#000" stroke-width="1.8"/>
<line x1="65.1" y1="162.33" x2="74.3" y2="162.33" stroke="#000" stroke-width="1.8"/>
<line x1="337.6" y1="162.33" x2="343.8" y2="162.33" stroke="#000" stroke-width="1.8"/>
<line x1="69.5" y1="200.67" x2="74.3" y2="200.67" stroke="#000" stroke-width="1.8"/>
<line x1="337.6" y1="200.67" x2="340.8" y2="200.67" stroke="#000" stroke-width="1.8"/>
<line x1="65.1" y1="239.00" x2="74.3" y2="239.00" stroke="#000" stroke-width="1.8"/>
<line x1="337.6" y1="239.00" x2="343.8" y2="239.00" stroke="#000" stroke-width="1.8"/>
<line x1="69.5" y1="277.33" x2="74.3" y2="277.33" stroke="#000" stroke-width="1.8"/>
<line x1="337.6" y1="277.33" x2="340.8" y2="277.33" stroke="#000" stroke-width="1.8"/>
<line x1="65.1" y1="315.67" x2="74.3" y2="315.67" stroke="#000" stroke-width="1.8"/>
<line x1="337.6" y1="315.67" x2="343.8" y2="315.67" stroke="#000" stroke-width="1.8"/>
<line x1="69.5" y1="354.00" x2="74.3" y2="354.00" stroke="#000" stroke-width="1.8"/>
<line x1="337.6" y1="354.00" x2="340.8" y2="354.00" stroke="#000" stroke-width="1.8"/>
<line x1="65.1" y1="392.33" x2="74.3" y2="392.33" stroke="#000" stroke-width="1.8"/>
<line x1="337.6" y1="392.33" x2="343.8" y2="392.33" stroke="#000" stroke-width="1.8"/>
<line x1="69.5" y1="430.67" x2="74.3" y2="430.67" stroke="#000" stroke-width="1.8"/>
<line x1="337.6" y1="430.67" x2="340.8" y2="430.67" stroke="#000" stroke-width="1.8"/>
<line x1="65.1" y1="469.00" x2="74.3" y2="469.00" stroke="#000" stroke-width="1.8"/>
<line x1="337.6" y1="469.00" x2="343.8" y2="469.00" stroke="#000" stroke-width="1.8"/>
<line x1="84.58" y1="469.0" x2="84.58" y2="478.5" stroke="#000" stroke-width="1.8"/>
<text x="84.58" y="499.8" text-anchor="middle" font-size="19.4" font-family="Liberation Sans, sans-serif">-0.6</text>
<line x1="104.80" y1="469.0" x2="104.80" y2="474.0" stroke="#000" stroke-width="1.8"/>
<line x1="125.02" y1="469.0" x2="125.02" y2="478.5" stroke="#000" stroke-width="1.8"/>
<text x="125.02" y="499.8" text-anchor="middle" font-size="19.4" font-family="Liberation Sans, sans-serif">-0.4</text>
<line x1="145.24" y1="469.0" x2="145.24" y2="474.0" stroke="#000" stroke-width="1.8"/>
<line x1="165.46" y1="469.0" x2="165.46" y2="478.5" stroke="#000" stroke-width="1.8"/>
<text x="165.46" y="499.8" text-anchor="middle" font-size="19.4" font-family="Liberation Sans, sans-serif">-0.2</text>
<line x1="185.68" y1="469.0" x2="185.68" y2="474.0" stroke="#000" stroke-width="1.8"/>
<line x1="205.90" y1="469.0" x2="205.90" y2="478.5" stroke="#000" stroke-width="1.8"/>
<text x="205.90" y="499.8" text-anchor="middle" font-size="19.4" font-family="Liberation Sans, sans-serif">0.0</text>
<line x1="226.12" y1="469.0" x2="226.12" y2="474.0" stroke="#000" stroke-width="1.8"/>
<line x1="246.34" y1="469.0" x2="246.34" y2="478.5" stroke="#000" stroke-width="1.8"/>
<text x="246.34" y="499.8" text-anchor="middle" font-size="19.4" font-family="Liberation Sans, sans-serif">0.2</text>
<line x1="266.56" y1="469.0" x2="266.56" y2="474.0" stroke="#000" stroke-width="1.8"/>
<line x1="286.78" y1="469.0" x2="286.78" y2="478.5" stroke="#000" stroke-width="1.8"/>
<text x="286.78" y="499.8" text-anchor="middle" font-size="19.4" font-family="Liberation Sans, sans-serif">0.4</text>
<line x1="307.00" y1="469.0" x2="307.00" y2="474.0" stroke="#000" stroke-width="1.8"/>
<line x1="327.22" y1="469.0" x2="327.22" y2="478.5" stroke="#000" stroke-width="1.8"/>
<text x="327.22" y="499.8" text-anchor="middle" font-size="19.4" font-family="Liberation Sans, sans-serif">0.6</text>
<line x1="363.8" y1="9.0" x2="363.8" y2="469.0" stroke="#000" stroke-width="1.8"/>
<line x1="627.5" y1="9.0" x2="627.5" y2="469.0" stroke="#000" stroke-width="1.8"/>
<line x1="362.90000000000003" y1="469.0" x2="628.4" y2="469.0" stroke="#000" stroke-width="2"/>
<line x1="357.6" y1="9.00" x2="363.8" y2="9.00" stroke="#000" stroke-width="1.8"/>
<line x1="627.5" y1="9.00" x2="636.7" y2="9.00" stroke="#000" stroke-width="1.8"/>
<line x1="360.6" y1="47.33" x2="363.8" y2="47.33" stroke="#000" stroke-width="1.8"/>
<line x1="627.5" y1="47.33" x2="632.3" y2="47.33" stroke="#000" stroke-width="1.8"/>
<line x1="357.6" y1="85.67" x2="363.8" y2="85.67" stroke="#000" stroke-width="1.8"/>
<line x1="627.5" y1="85.67" x2="636.7" y2="85.67" stroke="#000" stroke-width="1.8"/>
<line x1="360.6" y1="124.00" x2="363.8" y2="124.00" stroke="#000" stroke-width="1.8"/>
<line x1="627.5" y1="124.00" x2="632.3" y2="124.00" stroke="#000" stroke-width="1.8"/>
<line x1="357.6" y1="162.33" x2="363.8" y2="162.33" stroke="#000" stroke-width="1.8"/>
<line x1="627.5" y1="162.33" x2="636.7" y2="162.33" stroke="#000" stroke-width="1.8"/>
<line x1="360.6" y1="200.67" x2="363.8" y2="200.67" stroke="#000" stroke-width="1.8"/>
<line x1="627.5" y1="200.67" x2="632.3" y2="200.67" stroke="#000" stroke-width="1.8"/>
<line x1="357.6" y1="239.00" x2="363.8" y2="239.00" stroke="#000" stroke-width="1.8"/>
<line x1="627.5" y1="239.00" x2="636.7" y2="239.00" stroke="#000" stroke-width="1.8"/>
<line x1="360.6" y1="277.33" x2="363.8" y2="277.33" stroke="#000" stroke-width="1.8"/>
<line x1="627.5" y1="277.33" x2="632.3" y2="277.33" stroke="#000" stroke-width="1.8"/>
<line x1="357.6" y1="315.67" x2="363.8" y2="315.67" stroke="#000" stroke-width="1.8"/>
<line x1="627.5" y1="315.67" x2="636.7" y2="315.67" stroke="#000" stroke-width="1.8"/>
<line x1="360.6" y1="354.00" x2="363.8" y2="354.00" stroke="#000" stroke-width="1.8"/>
<line x1="627.5" y1="354.00" x2="632.3" y2="354.00" stroke="#000" stroke-width="1.8"/>
<line x1="357.6" y1="392.33" x2="363.8" y2="392.33" stroke="#000" stroke-width="1.8"/>
<line x1="627.5" y1="392.33" x2="636.7" y2="392.33" stroke="#000" stroke-width="1.8"/>
<line x1="360.6" y1="430.67" x2="363.8" y2="430.67" stroke="#000" stroke-width="1.8"/>
<line x1="627.5" y1="430.67" x2="632.3" y2="430.67" stroke="#000" stroke-width="1.8"/>
<line x1="357.6" y1="469.00" x2="363.8" y2="469.00" stroke="#000" stroke-width="1.8"/>
<line x1="627.5" y1="469.00" x2="636.7" y2="469.00" stroke="#000" stroke-width="1.8"/>
<line x1="374.08" y1="469.0" x2="374.08" y2="478.5" stroke="#000" stroke-width="1.8"/>
<text x="374.08" y="499.8" text-anchor="middle" font-size="19.4" font-family="Liberation Sans, sans-serif">-0.6</text>
<line x1="394.30" y1="469.0" x2="394.30" y2="474.0" stroke="#000" stroke-width="1.8"/>
<line x1="414.52" y1="469.0" x2="414.52" y2="478.5" stroke="#000" stroke-width="1.8"/>
<text x="414.52" y="499.8" text-anchor="middle" font-size="19.4" font-family="Liberation Sans, sans-serif">-0.4</text>
<line x1="434.74" y1="469.0" x2="434.74" y2="474.0" stroke="#000" stroke-width="1.8"/>
<line x1="454.96" y1="469.0" x2="454.96" y2="478.5" stroke="#000" stroke-width="1.8"/>
<text x="454.96" y="499.8" text-anchor="middle" font-size="19.4" font-family="Liberation Sans, sans-serif">-0.2</text>
<line x1="475.18" y1="469.0" x2="475.18" y2="474.0" stroke="#000" stroke-width="1.8"/>
<line x1="495.40" y1="469.0" x2="495.40" y2="478.5" stroke="#000" stroke-width="1.8"/>
<text x="495.40" y="499.8" text-anchor="middle" font-size="19.4" font-family="Liberation Sans, sans-serif">0.0</text>
<line x1="515.62" y1="469.0" x2="515.62" y2="474.0" stroke="#000" stroke-width="1.8"/>
<line x1="535.84" y1="469.0" x2="535.84" y2="478.5" stroke="#000" stroke-width="1.8"/>
<text x="535.84" y="499.8" text-anchor="middle" font-size="19.4" font-family="Liberation Sans, sans-serif">0.2</text>
<line x1="556.06" y1="469.0" x2="556.06" y2="474.0" stroke="#000" stroke-width="1.8"/>
<line x1="576.28" y1="469.0" x2="576.28" y2="478.5" stroke="#000" stroke-width="1.8"/>
<text x="576.28" y="499.8" text-anchor="middle" font-size="19.4" font-family="Liberation Sans, sans-serif">0.4</text>
<line x1="596.50" y1="469.0" x2="596.50" y2="474.0" stroke="#000" stroke-width="1.8"/>
<line x1="616.72" y1="469.0" x2="616.72" y2="478.5" stroke="#000" stroke-width="1.8"/>
<text x="616.72" y="499.8" text-anchor="middle" font-size="19.4" font-family="Liberation Sans, sans-serif">0.6</text>
<text x="62.9" y="15.00" text-anchor="end" font-size="19.4" font-family="Liberation Sans, sans-serif">910</text>
<text x="642.2" y="15.00" text-anchor="start" font-size="19.4" font-family="Liberation Sans, sans-serif">910</text>
<text x="62.9" y="91.67" text-anchor="end" font-size="19.4" font-family="Liberation Sans, sans-serif">915</text>
<text x="642.2" y="91.67" text-anchor="start" font-size="19.4" font-family="Liberation Sans, sans-serif">915</text>
<text x="62.9" y="168.33" text-anchor="end" font-size="19.4" font-family="Liberation Sans, sans-serif">920</text>
<text x="642.2" y="168.33" text-anchor="start" font-size="19.4" font-family="Liberation Sans, sans-serif">920</text>
<text x="62.9" y="245.00" text-anchor="end" font-size="19.4" font-family="Liberation Sans, sans-serif">925</text>
<text x="642.2" y="245.00" text-anchor="start" font-size="19.4" font-family="Liberation Sans, sans-serif">925</text>
<text x="62.9" y="321.67" text-anchor="end" font-size="19.4" font-family="Liberation Sans, sans-serif">930</text>
<text x="642.2" y="321.67" text-anchor="start" font-size="19.4" font-family="Liberation Sans, sans-serif">930</text>
<text x="62.9" y="398.33" text-anchor="end" font-size="19.4" font-family="Liberation Sans, sans-serif">935</text>
<text x="642.2" y="398.33" text-anchor="start" font-size="19.4" font-family="Liberation Sans, sans-serif">935</text>
<text x="62.9" y="475.00" text-anchor="end" font-size="19.4" font-family="Liberation Sans, sans-serif">940</text>
<text x="642.2" y="475.00" text-anchor="start" font-size="19.4" font-family="Liberation Sans, sans-serif">940</text>
<text x="124.6" y="531.7" font-size="23.6" font-family="Liberation Sans, sans-serif">N.A=Sin<tspan font-family="Liberation Serif, serif" font-size="25">&#952;</tspan></text>
<text x="445.4" y="529" font-size="23.6" font-family="Liberation Sans, sans-serif">N.A=Sin<tspan font-family="Liberation Serif, serif" font-size="25">&#952;</tspan></text>
<text transform="translate(21.6,330.3) rotate(-90) scale(0.94,1)" x="0" y="0" font-size="29.8" font-family="Liberation Sans, sans-serif">Wavelength (nm)</text>
<text x="80.8" y="35" font-size="24.5" fill="#fff" font-family="Liberation Sans, sans-serif">(a)</text>
<text x="217.2" y="34.3" font-size="24.5" fill="#fff" font-family="Liberation Sans, sans-serif">(b)</text>
<text x="370.8" y="33.5" font-size="24.5" fill="#fff" font-family="Liberation Sans, sans-serif">(c)</text>
<text x="502.7" y="33.5" font-size="24.5" fill="#fff" font-family="Liberation Sans, sans-serif">(d)</text>
</g>
</svg>
</body></html>
